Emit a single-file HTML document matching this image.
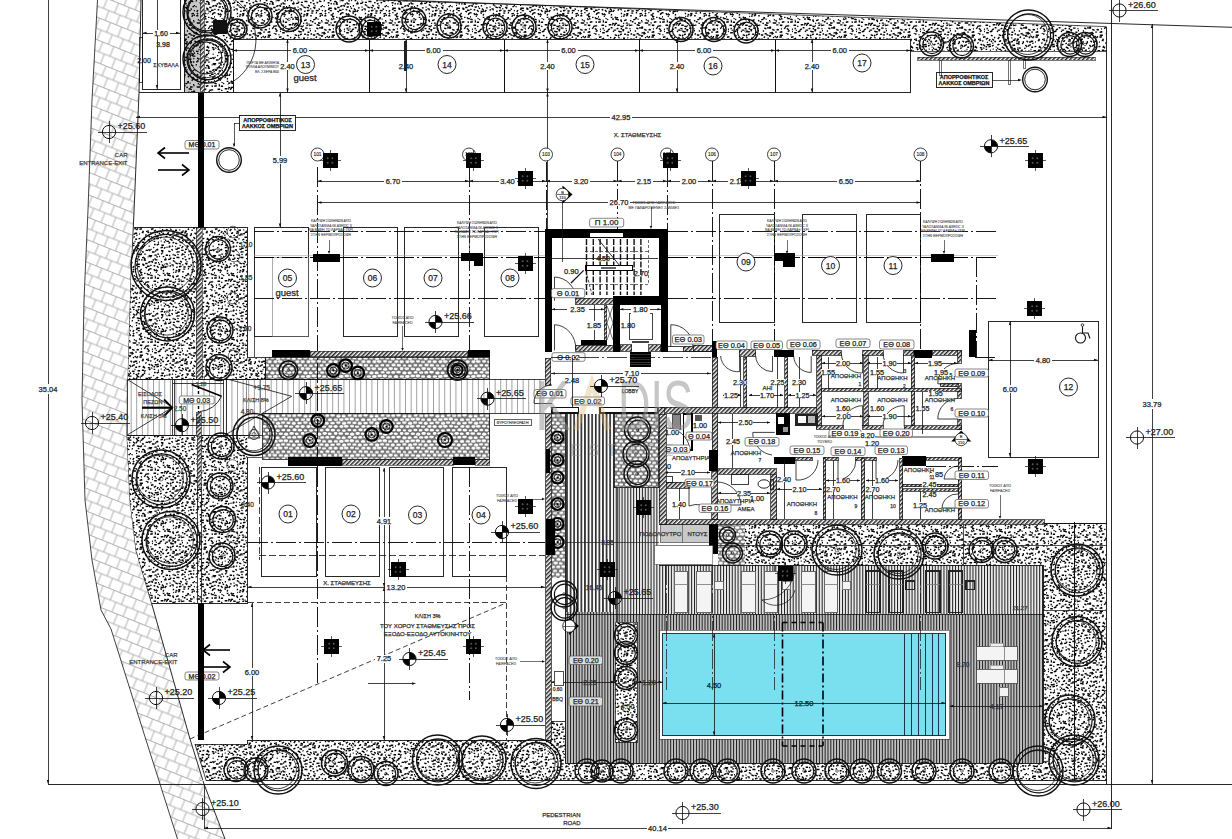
<!DOCTYPE html><html><head><meta charset="utf-8"><style>html,body{margin:0;padding:0;background:#fff}svg{display:block}</style></head><body><svg width="1232" height="839" viewBox="0 0 1232 839" font-family="Liberation Sans, sans-serif">
<defs>
<pattern id="stip" width="64" height="64" patternUnits="userSpaceOnUse"><rect width="64" height="64" fill="#fff"/>
<path d="M0.6,1.9l0.6,-0.8M0.6,65.9l0.6,-0.8M64.6,1.9l0.6,-0.8M64.6,65.9l0.6,-0.8M1.7,5.6l1.3,0.0M65.7,5.6l1.3,0.0M0.4,6.6l1.7,0.0M64.4,6.6l1.7,0.0M1.9,10.9l0.9,-0.5M65.9,10.9l0.9,-0.5M1.7,15.8l1.0,-1.3M65.7,15.8l1.0,-1.3M1.0,20.6l1.2,0.2M65.0,20.6l1.2,0.2M1.6,21.7l1.0,0.2M65.6,21.7l1.0,0.2M1.6,26.6l1.2,1.2M65.6,26.6l1.2,1.2M0.9,28.1l2.3,0.0M64.9,28.1l2.3,0.0M1.6,33.0l2.2,-0.4M65.6,33.0l2.2,-0.4M0.4,35.1l1.1,0.5M64.4,35.1l1.1,0.5M1.5,36.9l1.3,-1.6M65.5,36.9l1.3,-1.6M2.5,40.7l1.5,1.5M66.5,40.7l1.5,1.5M1.4,45.1l1.8,1.9M65.4,45.1l1.8,1.9M0.4,47.8l1.0,1.0M64.4,47.8l1.0,1.0M1.2,50.7l0.7,0.7M65.2,50.7l0.7,0.7M1.8,53.3l1.3,-0.3M65.8,53.3l1.3,-0.3M0.9,56.1l2.5,0.0M64.9,56.1l2.5,0.0M1.3,58.9l1.0,-0.5M65.3,58.9l1.0,-0.5M0.9,62.3l1.4,-0.7M0.9,-1.7l1.4,-0.7M64.9,62.3l1.4,-0.7M64.9,-1.7l1.4,-0.7M3.7,0.7l1.3,0.2M3.7,64.7l1.3,0.2M3.7,7.1l0.7,-0.9M4.7,11.8l1.3,-1.7M5.0,14.3l1.1,-1.3M4.3,15.7l2.0,0.0M5.8,19.7l1.1,0.0M4.7,23.0l2.6,0.0M4.2,29.3l2.4,1.0M3.6,32.0l1.9,1.9M3.5,34.0l1.5,-0.3M5.1,38.1l0.8,-1.0M5.1,42.2l2.2,-0.4M5.5,44.7l1.3,0.5M4.2,46.5l1.2,-1.5M3.9,51.1l2.6,0.4M5.4,54.0l0.8,-1.0M5.2,57.7l1.6,1.7M5.1,60.6l1.6,0.7M4.2,61.7l1.3,0.2M4.2,-2.3l1.3,0.2M7.6,2.8l2.0,0.0M7.6,66.8l2.0,0.0M8.0,5.4l1.1,0.0M8.4,8.3l1.8,0.0M8.0,9.6l2.3,-1.2M8.3,12.6l1.2,0.0M7.5,20.2l1.4,1.4M7.2,23.0l1.1,0.0M8.2,24.9l2.2,0.0M8.6,29.8l1.3,-0.3M7.6,32.7l0.9,-1.2M6.7,36.1l1.1,1.1M8.4,38.1l1.5,-1.9M6.7,41.2l2.5,0.0M8.3,43.3l1.2,0.0M7.2,47.3l1.9,0.0M6.5,49.5l1.0,0.0M7.8,54.0l1.8,1.8M8.8,56.7l1.2,-0.3M7.7,59.4l1.6,-2.0M8.8,61.9l1.9,0.3M8.8,-2.1l1.9,0.3M9.7,0.5l1.7,0.0M9.7,64.5l1.7,0.0M10.5,3.8l1.4,0.0M9.8,8.2l2.1,0.0M9.7,10.6l2.2,0.0M10.6,15.0l2.4,0.0M12.0,16.5l1.5,0.6M11.2,18.6l1.3,1.4M10.4,22.9l1.4,0.0M11.8,25.2l2.5,0.0M9.5,29.7l1.4,0.0M11.6,32.5l2.3,-1.2M11.8,35.2l2.2,0.0M11.4,37.3l2.5,-0.5M11.0,41.9l1.0,0.2M10.5,46.8l1.9,-0.4M9.5,50.8l2.6,0.0M9.8,54.5l1.3,-1.6M10.1,56.4l1.1,0.5M12.0,58.2l0.6,-0.7M9.9,62.4l2.6,0.0M9.9,-1.6l2.6,0.0M14.1,1.9l1.7,-0.9M14.1,65.9l1.7,-0.9M13.2,3.8l1.3,0.2M14.3,8.0l1.5,0.6M14.6,9.4l2.0,-0.4M12.6,14.1l1.0,-1.2M13.1,16.1l1.0,1.0M13.1,18.5l1.4,0.6M13.8,22.2l2.6,-0.5M12.9,25.5l1.0,-0.2M12.9,29.0l0.9,-0.2M12.8,32.2l1.6,-0.3M13.0,35.3l1.9,0.0M14.3,39.1l1.5,0.6M13.7,40.6l2.0,0.0M14.7,47.6l1.4,-1.7M13.8,50.3l2.4,0.0M13.9,54.4l2.1,0.3M12.5,56.7l2.3,-1.3M13.9,59.8l2.0,0.3M12.4,63.3l1.4,-1.8M12.4,-0.7l1.4,-1.8M15.7,1.6l1.6,1.6M15.7,65.6l1.6,1.6M15.7,4.0l2.2,0.3M17.2,7.5l2.4,0.0M17.2,11.4l2.0,0.3M16.1,17.4l1.4,0.0M17.2,26.4l2.1,-0.4M16.2,28.9l1.4,-1.8M18.0,33.1l0.6,0.7M18.0,39.4l1.6,0.2M17.4,43.6l1.0,-1.2M15.8,46.9l1.3,1.3M15.9,51.5l1.9,-1.0M15.8,52.9l1.4,0.6M17.6,58.4l2.6,0.0M16.2,62.1l1.6,0.0M16.2,-1.9l1.6,0.0M19.6,0.9l1.0,0.0M19.6,64.9l1.0,0.0M20.2,6.7l2.3,-1.3M19.0,10.3l2.6,0.0M20.1,14.8l1.6,-2.0M18.7,17.9l1.6,0.0M19.3,18.6l2.6,0.0M19.6,22.3l1.3,-0.3M19.1,25.9l2.1,0.0M18.9,28.2l1.8,1.8M19.7,31.6l2.0,-1.1M19.0,34.0l1.5,0.0M19.5,38.9l1.3,0.0M19.6,40.9l1.6,-0.9M20.5,44.2l1.8,0.8M19.8,47.6l2.4,0.4M20.8,50.0l1.8,-1.0M20.7,54.3l0.9,0.0M20.5,57.2l1.8,1.9M20.9,63.3l1.7,1.8M20.9,-0.7l1.7,1.8M21.8,0.6l1.8,0.0M21.8,64.6l1.8,0.0M23.4,5.0l1.6,1.6M23.6,6.3l1.1,0.0M22.3,9.7l1.2,-0.6M21.8,12.6l1.8,0.3M22.1,17.0l0.9,-0.2M22.3,19.3l2.4,0.4M22.2,22.2l2.6,-0.5M23.9,29.3l1.0,0.2M24.0,31.3l0.9,0.4M22.5,34.8l0.9,-0.2M22.9,37.3l2.6,-0.5M22.1,41.1l1.3,-0.3M23.2,44.5l1.8,1.8M23.3,48.4l1.0,-0.6M22.6,56.9l0.9,0.9M23.9,60.0l2.7,0.0M22.0,63.6l2.2,0.0M22.0,-0.4l2.2,0.0M26.5,2.4l1.9,1.9M26.5,66.4l1.9,1.9M24.6,4.0l1.5,0.0M26.6,7.3l2.2,-0.5M25.7,9.5l1.6,0.7M25.8,13.3l1.6,1.6M26.7,20.5l1.0,0.0M26.7,21.7l1.3,0.0M25.5,25.3l2.6,0.0M26.5,28.5l1.4,0.0M26.2,32.8l2.6,0.0M25.8,39.3l2.3,-1.3M27.0,42.0l0.8,0.8M26.7,44.8l2.4,0.0M25.5,46.8l1.6,0.0M25.6,49.4l1.6,0.0M26.0,52.5l1.7,0.0M25.3,55.3l0.7,0.8M27.1,58.6l0.8,0.8M26.4,63.1l2.4,0.0M26.4,-0.9l2.4,0.0M28.4,1.0l1.4,-0.3M28.4,65.0l1.4,-0.3M28.2,3.9l1.3,0.0M30.0,6.8l1.0,-0.2M29.0,10.0l1.6,1.7M27.9,13.6l1.7,1.7M27.8,16.2l1.1,0.2M29.8,19.0l0.6,-0.8M28.8,22.2l2.3,0.0M29.2,26.2l1.2,0.5M27.8,30.3l1.0,0.1M29.8,31.8l1.5,-0.3M28.9,40.9l1.4,-1.8M29.0,44.6l1.6,-0.3M28.4,46.7l2.6,-0.5M29.9,50.1l0.9,0.4M28.7,53.1l2.3,-1.2M28.8,57.2l1.5,0.6M28.1,58.2l1.7,-0.9M29.3,62.1l1.8,0.0M29.3,-1.9l1.8,0.0M31.1,0.7l0.9,-0.5M31.1,64.7l0.9,-0.5M32.8,5.8l1.3,0.0M30.8,8.7l1.3,-0.7M32.6,11.2l2.5,0.4M32.3,12.9l1.7,0.3M31.1,19.4l1.2,0.2M32.7,24.7l2.4,0.0M31.9,29.9l2.0,-1.1M31.3,31.7l1.0,-1.2M30.8,35.4l1.8,0.3M32.3,38.9l1.7,1.7M30.9,40.8l1.1,1.1M32.4,43.0l1.0,0.4M32.0,46.1l1.6,-0.9M32.7,49.1l1.0,0.0M33.3,53.3l2.6,0.0M32.6,55.7l2.4,-0.5M33.0,58.8l2.4,0.0M33.2,62.4l1.2,-1.5M33.2,-1.6l1.2,-1.5M34.7,0.7l1.6,-0.3M34.7,64.7l1.6,-0.3M36.1,3.7l2.3,0.0M33.9,8.6l1.8,1.9M35.3,11.7l0.7,-0.9M34.8,14.5l1.3,0.5M34.7,17.4l1.7,0.0M36.2,19.3l1.8,-0.4M36.3,23.1l1.9,0.8M35.7,25.2l1.2,-0.7M34.7,27.8l1.8,0.0M34.0,37.7l1.3,-0.3M34.3,41.5l1.8,0.0M35.6,47.1l1.0,0.0M35.8,50.0l1.4,0.0M36.1,56.6l1.2,-1.5M34.4,60.5l0.6,-0.8M37.2,2.6l0.7,-0.9M37.2,66.6l0.7,-0.9M37.3,4.3l1.1,-1.4M37.9,7.9l1.8,0.0M36.9,11.7l1.4,-1.8M38.7,16.7l1.6,1.6M39.4,19.2l2.1,0.0M38.7,23.4l2.4,0.0M38.2,25.7l1.4,-1.8M37.6,30.1l2.5,0.0M36.8,31.4l1.3,0.2M38.7,34.6l2.3,1.0M37.8,39.0l1.6,-2.0M39.0,41.7l2.1,-1.2M37.4,45.2l2.0,-1.1M37.0,48.3l1.2,0.0M38.4,49.4l2.7,0.0M38.5,55.2l1.0,0.0M37.7,63.3l2.4,0.0M37.7,-0.7l2.4,0.0M41.8,2.1l1.6,0.2M41.8,66.1l1.6,0.2M40.1,3.4l2.4,0.0M41.5,7.1l1.1,0.0M41.5,10.1l1.5,-0.3M40.6,17.3l1.4,0.6M41.4,19.7l1.4,0.0M39.9,22.9l0.8,0.8M41.2,25.2l2.5,0.0M40.6,28.8l1.8,-0.4M42.4,30.7l1.2,1.3M42.0,36.3l1.2,-1.5M42.3,37.5l1.3,0.2M40.1,41.5l0.6,-0.8M41.5,43.8l1.4,-0.8M41.8,47.0l1.9,0.8M40.5,51.3l1.6,-0.9M41.5,54.5l1.1,0.0M40.7,55.5l1.5,-1.9M40.3,59.3l2.3,0.3M41.0,63.5l1.3,0.2M41.0,-0.5l1.3,0.2M44.9,2.4l2.0,0.0M44.9,66.4l2.0,0.0M44.8,4.8l1.5,0.2M43.4,8.9l2.2,0.0M44.6,9.9l1.2,0.0M44.8,13.5l1.3,0.0M45.2,16.7l0.8,-0.4M44.2,20.2l1.7,0.0M44.8,21.6l1.2,-0.6M44.4,26.3l2.4,0.4M44.6,28.8l1.5,0.0M43.5,31.7l2.2,0.0M44.0,34.9l1.8,-1.0M44.6,39.1l2.3,1.0M43.9,41.1l2.7,0.0M43.5,44.8l2.6,0.4M43.2,47.4l1.3,1.3M44.6,51.1l1.6,-0.9M44.1,54.6l0.8,-1.0M43.2,57.6l1.5,0.0M43.9,58.3l0.9,-0.5M44.6,62.7l1.1,-0.2M44.6,-1.3l1.1,-0.2M48.4,1.6l1.1,-0.6M48.4,65.6l1.1,-0.6M46.4,5.7l1.0,0.2M47.4,6.9l2.4,1.0M48.1,11.4l1.6,-0.3M47.6,14.4l1.7,0.3M46.9,16.1l1.7,0.0M48.0,20.6l1.5,-0.3M47.2,23.2l1.0,0.4M46.7,25.6l1.0,0.4M46.3,29.8l2.0,0.0M46.5,30.9l1.4,0.0M48.2,34.2l1.7,0.0M47.0,38.2l2.0,0.0M48.3,41.9l2.4,0.4M46.5,43.1l2.4,0.0M46.6,46.5l0.8,0.8M47.2,51.3l2.1,0.3M47.3,54.3l0.8,0.4M47.4,56.8l2.2,0.9M48.5,59.9l1.1,0.5M46.0,62.8l2.0,0.8M46.0,-1.2l2.0,0.8M49.2,1.5l2.3,0.0M49.2,65.5l2.3,0.0M50.6,7.2l2.3,1.0M51.0,10.8l2.5,-0.5M50.1,13.9l2.3,-0.5M50.3,16.3l1.7,-2.1M49.5,19.8l1.1,0.2M49.8,23.1l2.0,0.0M50.4,25.7l1.7,-0.9M49.0,28.1l2.6,0.0M51.4,32.3l2.0,0.0M50.7,34.9l2.3,0.0M51.2,37.9l1.1,0.0M51.1,41.9l1.9,-0.4M49.5,43.0l0.9,0.0M50.3,48.1l2.0,-1.1M51.4,50.1l0.8,-0.4M51.6,53.7l1.0,-0.6M49.2,56.3l2.5,0.0M49.0,59.9l2.7,0.0M49.3,62.4l1.4,0.2M49.3,-1.6l1.4,0.2M54.0,2.6l1.6,0.0M54.0,66.6l1.6,0.0M52.3,4.9l1.5,1.6M54.3,8.7l1.0,0.0M54.2,15.7l1.5,0.0M54.2,20.1l1.0,1.1M52.5,24.1l1.1,0.0M53.1,25.6l2.3,-0.5M53.5,28.4l0.9,0.4M53.9,30.7l1.1,-0.2M54.6,34.4l1.4,-0.8M54.4,38.9l1.4,0.0M52.7,40.3l2.6,0.0M52.4,45.2l2.7,0.0M54.2,48.0l1.5,1.5M52.3,50.4l2.3,0.3M53.9,54.6l1.5,0.0M53.2,55.6l1.4,0.0M53.2,58.4l2.4,0.0M53.5,63.5l1.5,-2.0M53.5,-0.5l1.5,-2.0M56.4,0.7l1.3,0.0M56.4,64.7l1.3,0.0M56.9,4.2l1.7,-0.9M57.3,7.0l1.8,1.8M55.4,11.0l2.3,0.0M55.2,13.1l2.0,0.0M57.3,19.8l1.9,-0.4M55.8,21.8l1.7,0.0M55.2,25.1l1.2,0.0M56.9,35.0l2.4,0.0M56.7,39.2l2.2,0.0M56.5,41.5l1.6,-2.1M56.2,43.3l2.6,0.4M57.5,48.4l0.6,-0.8M57.3,49.1l1.6,1.7M57.0,57.5l2.1,-0.4M56.2,59.8l1.6,0.7M55.4,62.4l1.2,0.2M55.4,-1.6l1.2,0.2M60.5,2.5l1.7,0.3M60.5,66.5l1.7,0.3M58.5,5.4l1.0,0.4M58.5,7.5l0.9,-0.5M59.8,10.5l1.5,0.2M59.8,12.8l1.3,0.0M59.3,17.8l1.7,0.0M59.2,18.9l1.4,-0.3M58.6,22.8l1.0,1.1M60.7,24.8l2.5,0.4M60.3,28.0l2.1,0.9M58.8,31.3l1.2,-0.6M60.5,33.9l2.2,-0.4M59.8,37.9l1.1,-1.4M58.1,42.0l1.8,0.0M58.2,44.0l1.4,0.0M58.6,47.9l2.2,0.3M60.3,51.3l2.2,-0.4M58.5,53.8l2.0,0.3M58.7,55.3l1.9,-1.1M60.5,59.5l1.5,-0.3M60.4,62.5l0.6,0.7M60.4,-1.5l0.6,0.7M62.9,0.9l1.8,0.7M62.9,64.9l1.8,0.7M-1.1,0.9l1.8,0.7M-1.1,64.9l1.8,0.7M62.7,8.6l1.1,1.1M-1.3,8.6l1.1,1.1M61.4,10.3l1.2,0.5M-2.6,10.3l1.2,0.5M63.4,13.9l2.5,-0.5M-0.6,13.9l2.5,-0.5M63.7,16.7l1.1,-1.4M-0.3,16.7l1.1,-1.4M61.5,19.1l1.1,0.0M-2.5,19.1l1.1,0.0M62.0,23.0l2.6,0.0M-2.0,23.0l2.6,0.0M63.0,25.1l0.6,0.7M-1.0,25.1l0.6,0.7M63.0,27.9l2.5,0.0M-1.0,27.9l2.5,0.0M62.5,35.0l1.4,0.0M-1.5,35.0l1.4,0.0M63.5,38.2l1.3,0.2M-0.5,38.2l1.3,0.2M62.7,41.8l1.2,0.0M-1.3,41.8l1.2,0.0M62.2,44.0l1.5,-1.9M-1.8,44.0l1.5,-1.9M61.3,49.9l1.5,0.6M-2.7,49.9l1.5,0.6M63.4,53.5l2.5,1.0M-0.6,53.5l2.5,1.0M63.4,55.2l1.7,0.7M-0.6,55.2l1.7,0.7M62.3,59.8l1.0,-1.2M-1.7,59.8l1.0,-1.2M62.0,61.7l2.1,0.3M62.0,-2.3l2.1,0.3M-2.0,61.7l2.1,0.3M-2.0,-2.3l2.1,0.3" stroke="#000" stroke-width="1.4" fill="none"/></pattern>
<pattern id="peb" width="33" height="21.6" patternUnits="userSpaceOnUse"><rect width="33" height="21.6" fill="#707070"/><g fill="#fff"><ellipse cx="-33.26" cy="-19.76" rx="2.06" ry="1.42"/><ellipse cx="-33.26" cy="1.84" rx="2.06" ry="1.42"/><ellipse cx="-33.26" cy="23.44" rx="2.06" ry="1.42"/><ellipse cx="-0.26" cy="-19.76" rx="2.06" ry="1.42"/><ellipse cx="-0.26" cy="1.84" rx="2.06" ry="1.42"/><ellipse cx="-0.26" cy="23.44" rx="2.06" ry="1.42"/><ellipse cx="32.74" cy="-19.76" rx="2.06" ry="1.42"/><ellipse cx="32.74" cy="1.84" rx="2.06" ry="1.42"/><ellipse cx="32.74" cy="23.44" rx="2.06" ry="1.42"/><ellipse cx="-27.37" cy="-20.15" rx="1.81" ry="1.53"/><ellipse cx="-27.37" cy="1.45" rx="1.81" ry="1.53"/><ellipse cx="-27.37" cy="23.05" rx="1.81" ry="1.53"/><ellipse cx="5.63" cy="-20.15" rx="1.81" ry="1.53"/><ellipse cx="5.63" cy="1.45" rx="1.81" ry="1.53"/><ellipse cx="5.63" cy="23.05" rx="1.81" ry="1.53"/><ellipse cx="38.63" cy="-20.15" rx="1.81" ry="1.53"/><ellipse cx="38.63" cy="1.45" rx="1.81" ry="1.53"/><ellipse cx="38.63" cy="23.05" rx="1.81" ry="1.53"/><ellipse cx="-22.24" cy="-20.01" rx="2.50" ry="1.36"/><ellipse cx="-22.24" cy="1.59" rx="2.50" ry="1.36"/><ellipse cx="-22.24" cy="23.19" rx="2.50" ry="1.36"/><ellipse cx="10.76" cy="-20.01" rx="2.50" ry="1.36"/><ellipse cx="10.76" cy="1.59" rx="2.50" ry="1.36"/><ellipse cx="10.76" cy="23.19" rx="2.50" ry="1.36"/><ellipse cx="43.76" cy="-20.01" rx="2.50" ry="1.36"/><ellipse cx="43.76" cy="1.59" rx="2.50" ry="1.36"/><ellipse cx="43.76" cy="23.19" rx="2.50" ry="1.36"/><ellipse cx="-16.16" cy="-19.82" rx="2.25" ry="1.22"/><ellipse cx="-16.16" cy="1.78" rx="2.25" ry="1.22"/><ellipse cx="-16.16" cy="23.38" rx="2.25" ry="1.22"/><ellipse cx="16.84" cy="-19.82" rx="2.25" ry="1.22"/><ellipse cx="16.84" cy="1.78" rx="2.25" ry="1.22"/><ellipse cx="16.84" cy="23.38" rx="2.25" ry="1.22"/><ellipse cx="49.84" cy="-19.82" rx="2.25" ry="1.22"/><ellipse cx="49.84" cy="1.78" rx="2.25" ry="1.22"/><ellipse cx="49.84" cy="23.38" rx="2.25" ry="1.22"/><ellipse cx="-10.87" cy="-19.51" rx="2.17" ry="1.48"/><ellipse cx="-10.87" cy="2.09" rx="2.17" ry="1.48"/><ellipse cx="-10.87" cy="23.69" rx="2.17" ry="1.48"/><ellipse cx="22.13" cy="-19.51" rx="2.17" ry="1.48"/><ellipse cx="22.13" cy="2.09" rx="2.17" ry="1.48"/><ellipse cx="22.13" cy="23.69" rx="2.17" ry="1.48"/><ellipse cx="55.13" cy="-19.51" rx="2.17" ry="1.48"/><ellipse cx="55.13" cy="2.09" rx="2.17" ry="1.48"/><ellipse cx="55.13" cy="23.69" rx="2.17" ry="1.48"/><ellipse cx="-5.33" cy="-20.15" rx="2.33" ry="1.42"/><ellipse cx="-5.33" cy="1.45" rx="2.33" ry="1.42"/><ellipse cx="-5.33" cy="23.05" rx="2.33" ry="1.42"/><ellipse cx="27.67" cy="-20.15" rx="2.33" ry="1.42"/><ellipse cx="27.67" cy="1.45" rx="2.33" ry="1.42"/><ellipse cx="27.67" cy="23.05" rx="2.33" ry="1.42"/><ellipse cx="60.67" cy="-20.15" rx="2.33" ry="1.42"/><ellipse cx="60.67" cy="1.45" rx="2.33" ry="1.42"/><ellipse cx="60.67" cy="23.05" rx="2.33" ry="1.42"/><ellipse cx="-30.45" cy="-16.58" rx="2.41" ry="1.36"/><ellipse cx="-30.45" cy="5.02" rx="2.41" ry="1.36"/><ellipse cx="-30.45" cy="26.62" rx="2.41" ry="1.36"/><ellipse cx="2.55" cy="-16.58" rx="2.41" ry="1.36"/><ellipse cx="2.55" cy="5.02" rx="2.41" ry="1.36"/><ellipse cx="2.55" cy="26.62" rx="2.41" ry="1.36"/><ellipse cx="35.55" cy="-16.58" rx="2.41" ry="1.36"/><ellipse cx="35.55" cy="5.02" rx="2.41" ry="1.36"/><ellipse cx="35.55" cy="26.62" rx="2.41" ry="1.36"/><ellipse cx="-24.53" cy="-15.90" rx="2.30" ry="1.56"/><ellipse cx="-24.53" cy="5.70" rx="2.30" ry="1.56"/><ellipse cx="-24.53" cy="27.30" rx="2.30" ry="1.56"/><ellipse cx="8.47" cy="-15.90" rx="2.30" ry="1.56"/><ellipse cx="8.47" cy="5.70" rx="2.30" ry="1.56"/><ellipse cx="8.47" cy="27.30" rx="2.30" ry="1.56"/><ellipse cx="41.47" cy="-15.90" rx="2.30" ry="1.56"/><ellipse cx="41.47" cy="5.70" rx="2.30" ry="1.56"/><ellipse cx="41.47" cy="27.30" rx="2.30" ry="1.56"/><ellipse cx="-19.36" cy="-15.96" rx="2.11" ry="1.57"/><ellipse cx="-19.36" cy="5.64" rx="2.11" ry="1.57"/><ellipse cx="-19.36" cy="27.24" rx="2.11" ry="1.57"/><ellipse cx="13.64" cy="-15.96" rx="2.11" ry="1.57"/><ellipse cx="13.64" cy="5.64" rx="2.11" ry="1.57"/><ellipse cx="13.64" cy="27.24" rx="2.11" ry="1.57"/><ellipse cx="46.64" cy="-15.96" rx="2.11" ry="1.57"/><ellipse cx="46.64" cy="5.64" rx="2.11" ry="1.57"/><ellipse cx="46.64" cy="27.24" rx="2.11" ry="1.57"/><ellipse cx="-13.37" cy="-16.52" rx="1.90" ry="1.25"/><ellipse cx="-13.37" cy="5.08" rx="1.90" ry="1.25"/><ellipse cx="-13.37" cy="26.68" rx="1.90" ry="1.25"/><ellipse cx="19.63" cy="-16.52" rx="1.90" ry="1.25"/><ellipse cx="19.63" cy="5.08" rx="1.90" ry="1.25"/><ellipse cx="19.63" cy="26.68" rx="1.90" ry="1.25"/><ellipse cx="52.63" cy="-16.52" rx="1.90" ry="1.25"/><ellipse cx="52.63" cy="5.08" rx="1.90" ry="1.25"/><ellipse cx="52.63" cy="26.68" rx="1.90" ry="1.25"/><ellipse cx="-7.78" cy="-16.25" rx="2.24" ry="1.29"/><ellipse cx="-7.78" cy="5.35" rx="2.24" ry="1.29"/><ellipse cx="-7.78" cy="26.95" rx="2.24" ry="1.29"/><ellipse cx="25.22" cy="-16.25" rx="2.24" ry="1.29"/><ellipse cx="25.22" cy="5.35" rx="2.24" ry="1.29"/><ellipse cx="25.22" cy="26.95" rx="2.24" ry="1.29"/><ellipse cx="58.22" cy="-16.25" rx="2.24" ry="1.29"/><ellipse cx="58.22" cy="5.35" rx="2.24" ry="1.29"/><ellipse cx="58.22" cy="26.95" rx="2.24" ry="1.29"/><ellipse cx="-2.74" cy="-16.29" rx="2.05" ry="1.41"/><ellipse cx="-2.74" cy="5.31" rx="2.05" ry="1.41"/><ellipse cx="-2.74" cy="26.91" rx="2.05" ry="1.41"/><ellipse cx="30.26" cy="-16.29" rx="2.05" ry="1.41"/><ellipse cx="30.26" cy="5.31" rx="2.05" ry="1.41"/><ellipse cx="30.26" cy="26.91" rx="2.05" ry="1.41"/><ellipse cx="63.26" cy="-16.29" rx="2.05" ry="1.41"/><ellipse cx="63.26" cy="5.31" rx="2.05" ry="1.41"/><ellipse cx="63.26" cy="26.91" rx="2.05" ry="1.41"/><ellipse cx="-32.92" cy="-12.28" rx="2.28" ry="1.57"/><ellipse cx="-32.92" cy="9.32" rx="2.28" ry="1.57"/><ellipse cx="-32.92" cy="30.92" rx="2.28" ry="1.57"/><ellipse cx="0.08" cy="-12.28" rx="2.28" ry="1.57"/><ellipse cx="0.08" cy="9.32" rx="2.28" ry="1.57"/><ellipse cx="0.08" cy="30.92" rx="2.28" ry="1.57"/><ellipse cx="33.08" cy="-12.28" rx="2.28" ry="1.57"/><ellipse cx="33.08" cy="9.32" rx="2.28" ry="1.57"/><ellipse cx="33.08" cy="30.92" rx="2.28" ry="1.57"/><ellipse cx="-27.14" cy="-12.21" rx="2.27" ry="1.22"/><ellipse cx="-27.14" cy="9.39" rx="2.27" ry="1.22"/><ellipse cx="-27.14" cy="30.99" rx="2.27" ry="1.22"/><ellipse cx="5.86" cy="-12.21" rx="2.27" ry="1.22"/><ellipse cx="5.86" cy="9.39" rx="2.27" ry="1.22"/><ellipse cx="5.86" cy="30.99" rx="2.27" ry="1.22"/><ellipse cx="38.86" cy="-12.21" rx="2.27" ry="1.22"/><ellipse cx="38.86" cy="9.39" rx="2.27" ry="1.22"/><ellipse cx="38.86" cy="30.99" rx="2.27" ry="1.22"/><ellipse cx="-21.64" cy="-12.23" rx="2.43" ry="1.41"/><ellipse cx="-21.64" cy="9.37" rx="2.43" ry="1.41"/><ellipse cx="-21.64" cy="30.97" rx="2.43" ry="1.41"/><ellipse cx="11.36" cy="-12.23" rx="2.43" ry="1.41"/><ellipse cx="11.36" cy="9.37" rx="2.43" ry="1.41"/><ellipse cx="11.36" cy="30.97" rx="2.43" ry="1.41"/><ellipse cx="44.36" cy="-12.23" rx="2.43" ry="1.41"/><ellipse cx="44.36" cy="9.37" rx="2.43" ry="1.41"/><ellipse cx="44.36" cy="30.97" rx="2.43" ry="1.41"/><ellipse cx="-16.29" cy="-12.83" rx="2.38" ry="1.41"/><ellipse cx="-16.29" cy="8.77" rx="2.38" ry="1.41"/><ellipse cx="-16.29" cy="30.37" rx="2.38" ry="1.41"/><ellipse cx="16.71" cy="-12.83" rx="2.38" ry="1.41"/><ellipse cx="16.71" cy="8.77" rx="2.38" ry="1.41"/><ellipse cx="16.71" cy="30.37" rx="2.38" ry="1.41"/><ellipse cx="49.71" cy="-12.83" rx="2.38" ry="1.41"/><ellipse cx="49.71" cy="8.77" rx="2.38" ry="1.41"/><ellipse cx="49.71" cy="30.37" rx="2.38" ry="1.41"/><ellipse cx="-11.22" cy="-12.95" rx="2.40" ry="1.60"/><ellipse cx="-11.22" cy="8.65" rx="2.40" ry="1.60"/><ellipse cx="-11.22" cy="30.25" rx="2.40" ry="1.60"/><ellipse cx="21.78" cy="-12.95" rx="2.40" ry="1.60"/><ellipse cx="21.78" cy="8.65" rx="2.40" ry="1.60"/><ellipse cx="21.78" cy="30.25" rx="2.40" ry="1.60"/><ellipse cx="54.78" cy="-12.95" rx="2.40" ry="1.60"/><ellipse cx="54.78" cy="8.65" rx="2.40" ry="1.60"/><ellipse cx="54.78" cy="30.25" rx="2.40" ry="1.60"/><ellipse cx="-5.91" cy="-12.36" rx="2.09" ry="1.22"/><ellipse cx="-5.91" cy="9.24" rx="2.09" ry="1.22"/><ellipse cx="-5.91" cy="30.84" rx="2.09" ry="1.22"/><ellipse cx="27.09" cy="-12.36" rx="2.09" ry="1.22"/><ellipse cx="27.09" cy="9.24" rx="2.09" ry="1.22"/><ellipse cx="27.09" cy="30.84" rx="2.09" ry="1.22"/><ellipse cx="60.09" cy="-12.36" rx="2.09" ry="1.22"/><ellipse cx="60.09" cy="9.24" rx="2.09" ry="1.22"/><ellipse cx="60.09" cy="30.84" rx="2.09" ry="1.22"/><ellipse cx="-30.46" cy="-8.78" rx="2.41" ry="1.17"/><ellipse cx="-30.46" cy="12.82" rx="2.41" ry="1.17"/><ellipse cx="-30.46" cy="34.42" rx="2.41" ry="1.17"/><ellipse cx="2.54" cy="-8.78" rx="2.41" ry="1.17"/><ellipse cx="2.54" cy="12.82" rx="2.41" ry="1.17"/><ellipse cx="2.54" cy="34.42" rx="2.41" ry="1.17"/><ellipse cx="35.54" cy="-8.78" rx="2.41" ry="1.17"/><ellipse cx="35.54" cy="12.82" rx="2.41" ry="1.17"/><ellipse cx="35.54" cy="34.42" rx="2.41" ry="1.17"/><ellipse cx="-24.64" cy="-9.36" rx="2.30" ry="1.30"/><ellipse cx="-24.64" cy="12.24" rx="2.30" ry="1.30"/><ellipse cx="-24.64" cy="33.84" rx="2.30" ry="1.30"/><ellipse cx="8.36" cy="-9.36" rx="2.30" ry="1.30"/><ellipse cx="8.36" cy="12.24" rx="2.30" ry="1.30"/><ellipse cx="8.36" cy="33.84" rx="2.30" ry="1.30"/><ellipse cx="41.36" cy="-9.36" rx="2.30" ry="1.30"/><ellipse cx="41.36" cy="12.24" rx="2.30" ry="1.30"/><ellipse cx="41.36" cy="33.84" rx="2.30" ry="1.30"/><ellipse cx="-18.87" cy="-8.62" rx="2.15" ry="1.60"/><ellipse cx="-18.87" cy="12.98" rx="2.15" ry="1.60"/><ellipse cx="-18.87" cy="34.58" rx="2.15" ry="1.60"/><ellipse cx="14.13" cy="-8.62" rx="2.15" ry="1.60"/><ellipse cx="14.13" cy="12.98" rx="2.15" ry="1.60"/><ellipse cx="14.13" cy="34.58" rx="2.15" ry="1.60"/><ellipse cx="47.13" cy="-8.62" rx="2.15" ry="1.60"/><ellipse cx="47.13" cy="12.98" rx="2.15" ry="1.60"/><ellipse cx="47.13" cy="34.58" rx="2.15" ry="1.60"/><ellipse cx="-13.94" cy="-9.34" rx="2.22" ry="1.16"/><ellipse cx="-13.94" cy="12.26" rx="2.22" ry="1.16"/><ellipse cx="-13.94" cy="33.86" rx="2.22" ry="1.16"/><ellipse cx="19.06" cy="-9.34" rx="2.22" ry="1.16"/><ellipse cx="19.06" cy="12.26" rx="2.22" ry="1.16"/><ellipse cx="19.06" cy="33.86" rx="2.22" ry="1.16"/><ellipse cx="52.06" cy="-9.34" rx="2.22" ry="1.16"/><ellipse cx="52.06" cy="12.26" rx="2.22" ry="1.16"/><ellipse cx="52.06" cy="33.86" rx="2.22" ry="1.16"/><ellipse cx="-8.55" cy="-9.07" rx="2.23" ry="1.22"/><ellipse cx="-8.55" cy="12.53" rx="2.23" ry="1.22"/><ellipse cx="-8.55" cy="34.13" rx="2.23" ry="1.22"/><ellipse cx="24.45" cy="-9.07" rx="2.23" ry="1.22"/><ellipse cx="24.45" cy="12.53" rx="2.23" ry="1.22"/><ellipse cx="24.45" cy="34.13" rx="2.23" ry="1.22"/><ellipse cx="57.45" cy="-9.07" rx="2.23" ry="1.22"/><ellipse cx="57.45" cy="12.53" rx="2.23" ry="1.22"/><ellipse cx="57.45" cy="34.13" rx="2.23" ry="1.22"/><ellipse cx="-3.21" cy="-8.71" rx="2.02" ry="1.58"/><ellipse cx="-3.21" cy="12.89" rx="2.02" ry="1.58"/><ellipse cx="-3.21" cy="34.49" rx="2.02" ry="1.58"/><ellipse cx="29.79" cy="-8.71" rx="2.02" ry="1.58"/><ellipse cx="29.79" cy="12.89" rx="2.02" ry="1.58"/><ellipse cx="29.79" cy="34.49" rx="2.02" ry="1.58"/><ellipse cx="62.79" cy="-8.71" rx="2.02" ry="1.58"/><ellipse cx="62.79" cy="12.89" rx="2.02" ry="1.58"/><ellipse cx="62.79" cy="34.49" rx="2.02" ry="1.58"/><ellipse cx="-32.60" cy="-5.50" rx="2.12" ry="1.38"/><ellipse cx="-32.60" cy="16.10" rx="2.12" ry="1.38"/><ellipse cx="-32.60" cy="37.70" rx="2.12" ry="1.38"/><ellipse cx="0.40" cy="-5.50" rx="2.12" ry="1.38"/><ellipse cx="0.40" cy="16.10" rx="2.12" ry="1.38"/><ellipse cx="0.40" cy="37.70" rx="2.12" ry="1.38"/><ellipse cx="33.40" cy="-5.50" rx="2.12" ry="1.38"/><ellipse cx="33.40" cy="16.10" rx="2.12" ry="1.38"/><ellipse cx="33.40" cy="37.70" rx="2.12" ry="1.38"/><ellipse cx="-27.36" cy="-5.32" rx="2.19" ry="1.43"/><ellipse cx="-27.36" cy="16.28" rx="2.19" ry="1.43"/><ellipse cx="-27.36" cy="37.88" rx="2.19" ry="1.43"/><ellipse cx="5.64" cy="-5.32" rx="2.19" ry="1.43"/><ellipse cx="5.64" cy="16.28" rx="2.19" ry="1.43"/><ellipse cx="5.64" cy="37.88" rx="2.19" ry="1.43"/><ellipse cx="38.64" cy="-5.32" rx="2.19" ry="1.43"/><ellipse cx="38.64" cy="16.28" rx="2.19" ry="1.43"/><ellipse cx="38.64" cy="37.88" rx="2.19" ry="1.43"/><ellipse cx="-21.56" cy="-5.39" rx="2.10" ry="1.47"/><ellipse cx="-21.56" cy="16.21" rx="2.10" ry="1.47"/><ellipse cx="-21.56" cy="37.81" rx="2.10" ry="1.47"/><ellipse cx="11.44" cy="-5.39" rx="2.10" ry="1.47"/><ellipse cx="11.44" cy="16.21" rx="2.10" ry="1.47"/><ellipse cx="11.44" cy="37.81" rx="2.10" ry="1.47"/><ellipse cx="44.44" cy="-5.39" rx="2.10" ry="1.47"/><ellipse cx="44.44" cy="16.21" rx="2.10" ry="1.47"/><ellipse cx="44.44" cy="37.81" rx="2.10" ry="1.47"/><ellipse cx="-16.76" cy="-5.56" rx="2.48" ry="1.38"/><ellipse cx="-16.76" cy="16.04" rx="2.48" ry="1.38"/><ellipse cx="-16.76" cy="37.64" rx="2.48" ry="1.38"/><ellipse cx="16.24" cy="-5.56" rx="2.48" ry="1.38"/><ellipse cx="16.24" cy="16.04" rx="2.48" ry="1.38"/><ellipse cx="16.24" cy="37.64" rx="2.48" ry="1.38"/><ellipse cx="49.24" cy="-5.56" rx="2.48" ry="1.38"/><ellipse cx="49.24" cy="16.04" rx="2.48" ry="1.38"/><ellipse cx="49.24" cy="37.64" rx="2.48" ry="1.38"/><ellipse cx="-10.95" cy="-5.79" rx="2.09" ry="1.41"/><ellipse cx="-10.95" cy="15.81" rx="2.09" ry="1.41"/><ellipse cx="-10.95" cy="37.41" rx="2.09" ry="1.41"/><ellipse cx="22.05" cy="-5.79" rx="2.09" ry="1.41"/><ellipse cx="22.05" cy="15.81" rx="2.09" ry="1.41"/><ellipse cx="22.05" cy="37.41" rx="2.09" ry="1.41"/><ellipse cx="55.05" cy="-5.79" rx="2.09" ry="1.41"/><ellipse cx="55.05" cy="15.81" rx="2.09" ry="1.41"/><ellipse cx="55.05" cy="37.41" rx="2.09" ry="1.41"/><ellipse cx="-5.98" cy="-5.31" rx="2.24" ry="1.18"/><ellipse cx="-5.98" cy="16.29" rx="2.24" ry="1.18"/><ellipse cx="-5.98" cy="37.89" rx="2.24" ry="1.18"/><ellipse cx="27.02" cy="-5.31" rx="2.24" ry="1.18"/><ellipse cx="27.02" cy="16.29" rx="2.24" ry="1.18"/><ellipse cx="27.02" cy="37.89" rx="2.24" ry="1.18"/><ellipse cx="60.02" cy="-5.31" rx="2.24" ry="1.18"/><ellipse cx="60.02" cy="16.29" rx="2.24" ry="1.18"/><ellipse cx="60.02" cy="37.89" rx="2.24" ry="1.18"/><ellipse cx="-30.12" cy="-1.83" rx="2.28" ry="1.31"/><ellipse cx="-30.12" cy="19.77" rx="2.28" ry="1.31"/><ellipse cx="-30.12" cy="41.37" rx="2.28" ry="1.31"/><ellipse cx="2.88" cy="-1.83" rx="2.28" ry="1.31"/><ellipse cx="2.88" cy="19.77" rx="2.28" ry="1.31"/><ellipse cx="2.88" cy="41.37" rx="2.28" ry="1.31"/><ellipse cx="35.88" cy="-1.83" rx="2.28" ry="1.31"/><ellipse cx="35.88" cy="19.77" rx="2.28" ry="1.31"/><ellipse cx="35.88" cy="41.37" rx="2.28" ry="1.31"/><ellipse cx="-24.54" cy="-1.61" rx="1.82" ry="1.18"/><ellipse cx="-24.54" cy="19.99" rx="1.82" ry="1.18"/><ellipse cx="-24.54" cy="41.59" rx="1.82" ry="1.18"/><ellipse cx="8.46" cy="-1.61" rx="1.82" ry="1.18"/><ellipse cx="8.46" cy="19.99" rx="1.82" ry="1.18"/><ellipse cx="8.46" cy="41.59" rx="1.82" ry="1.18"/><ellipse cx="41.46" cy="-1.61" rx="1.82" ry="1.18"/><ellipse cx="41.46" cy="19.99" rx="1.82" ry="1.18"/><ellipse cx="41.46" cy="41.59" rx="1.82" ry="1.18"/><ellipse cx="-19.07" cy="-1.43" rx="1.98" ry="1.36"/><ellipse cx="-19.07" cy="20.17" rx="1.98" ry="1.36"/><ellipse cx="-19.07" cy="41.77" rx="1.98" ry="1.36"/><ellipse cx="13.93" cy="-1.43" rx="1.98" ry="1.36"/><ellipse cx="13.93" cy="20.17" rx="1.98" ry="1.36"/><ellipse cx="13.93" cy="41.77" rx="1.98" ry="1.36"/><ellipse cx="46.93" cy="-1.43" rx="1.98" ry="1.36"/><ellipse cx="46.93" cy="20.17" rx="1.98" ry="1.36"/><ellipse cx="46.93" cy="41.77" rx="1.98" ry="1.36"/><ellipse cx="-13.66" cy="-1.94" rx="2.05" ry="1.29"/><ellipse cx="-13.66" cy="19.66" rx="2.05" ry="1.29"/><ellipse cx="-13.66" cy="41.26" rx="2.05" ry="1.29"/><ellipse cx="19.34" cy="-1.94" rx="2.05" ry="1.29"/><ellipse cx="19.34" cy="19.66" rx="2.05" ry="1.29"/><ellipse cx="19.34" cy="41.26" rx="2.05" ry="1.29"/><ellipse cx="52.34" cy="-1.94" rx="2.05" ry="1.29"/><ellipse cx="52.34" cy="19.66" rx="2.05" ry="1.29"/><ellipse cx="52.34" cy="41.26" rx="2.05" ry="1.29"/><ellipse cx="-8.38" cy="-1.72" rx="2.01" ry="1.32"/><ellipse cx="-8.38" cy="19.88" rx="2.01" ry="1.32"/><ellipse cx="-8.38" cy="41.48" rx="2.01" ry="1.32"/><ellipse cx="24.62" cy="-1.72" rx="2.01" ry="1.32"/><ellipse cx="24.62" cy="19.88" rx="2.01" ry="1.32"/><ellipse cx="24.62" cy="41.48" rx="2.01" ry="1.32"/><ellipse cx="57.62" cy="-1.72" rx="2.01" ry="1.32"/><ellipse cx="57.62" cy="19.88" rx="2.01" ry="1.32"/><ellipse cx="57.62" cy="41.48" rx="2.01" ry="1.32"/><ellipse cx="-2.48" cy="-2.18" rx="2.20" ry="1.48"/><ellipse cx="-2.48" cy="19.42" rx="2.20" ry="1.48"/><ellipse cx="-2.48" cy="41.02" rx="2.20" ry="1.48"/><ellipse cx="30.52" cy="-2.18" rx="2.20" ry="1.48"/><ellipse cx="30.52" cy="19.42" rx="2.20" ry="1.48"/><ellipse cx="30.52" cy="41.02" rx="2.20" ry="1.48"/><ellipse cx="63.52" cy="-2.18" rx="2.20" ry="1.48"/><ellipse cx="63.52" cy="19.42" rx="2.20" ry="1.48"/><ellipse cx="63.52" cy="41.02" rx="2.20" ry="1.48"/></g></pattern>
<pattern id="deck" width="2.86" height="8" patternUnits="userSpaceOnUse"><rect width="2.86" height="8" fill="#fff"/><rect x="0.7" width="1.5" height="8" fill="#1c1c1c"/></pattern>
<pattern id="deck2" width="3.6" height="8" patternUnits="userSpaceOnUse"><rect width="3.6" height="8" fill="#fff"/><rect x="1" width="1.5" height="8" fill="#111"/></pattern>
<pattern id="deck3" width="2.9" height="8" patternUnits="userSpaceOnUse"><rect width="2.9" height="8" fill="#fff"/><rect x="0.9" width="1.15" height="8" fill="#1a1a1a"/></pattern>
<pattern id="ramp" width="5.6" height="8" patternUnits="userSpaceOnUse"><rect width="5.6" height="8" fill="#fff"/><rect x="2" width="0.8" height="8" fill="#8a8a8a"/></pattern>
<pattern id="wh" width="3" height="3" patternUnits="userSpaceOnUse" patternTransform="rotate(45)"><rect width="3" height="3" fill="#fff"/><rect width="1.5" height="3" fill="#222"/></pattern>
<pattern id="pav" width="12" height="21" patternUnits="userSpaceOnUse" patternTransform="rotate(22)"><rect width="12" height="21" fill="#fff"/><path d="M0,0.5H12M0,11H12M3,0.5V11M9,11V21.5" stroke="#a5a5a5" stroke-width="0.85" fill="none"/></pattern>
</defs>
<rect width="1232" height="839" fill="#fff"/>
<polygon points="97.5,0 92,100 88,210 84,300 82,400 85,500 92,560 101,610 111,629 146,740 177.5,839 225,839 204,784 190,739 153.5,610 136,550 130,500 127,435 128,379 131,280 134.5,200 139,93 141,0" fill="url(#pav)" stroke="none" stroke-width="0" />
<polyline points="97.5,0 92,100 88,210 84,300 82,400 85,500 92,560 101,610 111,629 146,740 177.5,839" fill="none" stroke="#111" stroke-width="0.8"/>
<polyline points="141,0 139,93 134.5,200 131,280 128,379 127,435 130,500 136,550 153.5,610 190,739 204,784 225,839" fill="none" stroke="#111" stroke-width="0.9"/>
<polygon points="184,0 400,0 1106.5,26.68375 1106.5,51 910.5,51 910.5,39 233,39 233,92 184,92" fill="url(#stip)" stroke="none" stroke-width="0" />
<polygon points="134,227.5 247.5,227.5 247.5,379 128,379 131,280" fill="url(#stip)" stroke="none" stroke-width="0" />
<rect x="247.5" y="357.5" width="17.5" height="21.5" fill="url(#stip)" stroke="none" stroke-width="0"  shape-rendering="crispEdges"/>
<polygon points="127,435 247.5,435 247.5,603 152,603 136,550 130,500" fill="url(#stip)" stroke="none" stroke-width="0" />
<polygon points="717.5,524 1106.5,524 1106.5,781 195,781 206,780 195,744 247,744 247,740 551,740 551,721.5 565,721.5 565,763 1043,763 1043,565 745,565 745,524" fill="url(#stip)" stroke="none" stroke-width="0" />
<rect x="717.5" y="524" width="27.5" height="41" fill="url(#peb)" stroke="none" stroke-width="0"  shape-rendering="crispEdges"/>
<rect x="615" y="622" width="22" height="120" fill="url(#stip)" stroke="none" stroke-width="0"  shape-rendering="crispEdges"/>
<rect x="265" y="357" width="224.5" height="22" fill="url(#peb)" stroke="none" stroke-width="0"  shape-rendering="crispEdges"/>
<rect x="262.5" y="413.5" width="227.0" height="45.5" fill="url(#peb)" stroke="none" stroke-width="0"  shape-rendering="crispEdges"/>
<rect x="551" y="414" width="14" height="163.5" fill="url(#peb)" stroke="none" stroke-width="0"  shape-rendering="crispEdges"/>
<rect x="614" y="414" width="45" height="73.5" fill="url(#peb)" stroke="none" stroke-width="0"  shape-rendering="crispEdges"/>
<polygon points="128,379 545,379 545,413.5 262.5,413.5 262.5,435 127,435" fill="url(#ramp)" stroke="none" stroke-width="0" />
<polygon points="565,414 614,414 614,487.5 659,487.5 659,565 1043,565 1043,763 565,763" fill="url(#deck)" stroke="none" stroke-width="0" />
<rect x="615" y="622" width="22" height="120" fill="url(#stip)" stroke="none" stroke-width="0"  shape-rendering="crispEdges"/>
<rect x="654.5" y="545.5" width="58.0" height="18.5" fill="#fff" stroke="#666" stroke-width="0.6"  shape-rendering="crispEdges"/>
<rect x="660" y="524" width="49" height="18.5" fill="#c9c9c9" stroke="#555" stroke-width="0.7"  shape-rendering="crispEdges"/>
<line x1="682.5" y1="524" x2="682.5" y2="542.5" stroke="#555" stroke-width="0.7"  shape-rendering="crispEdges"/>
<text x="697.5" y="535.5" font-size="6" text-anchor="middle" font-weight="normal" fill="#333" stroke="#333" stroke-width="0.25" >ΝΤΟΥΣ</text>
<rect x="659.5" y="630" width="290.0" height="109" fill="#fff" stroke="#333" stroke-width="0.6"  shape-rendering="crispEdges"/>
<rect x="662.5" y="633.5" width="283.0" height="102.0" fill="#7adfee" stroke="#123" stroke-width="0.9"  shape-rendering="crispEdges"/>
<line x1="376" y1="0" x2="1232" y2="27.3" stroke="#111" stroke-width="0.9" />
<line x1="400" y1="0" x2="1106.5" y2="26.68375" stroke="#111" stroke-width="0.7" />
<line x1="1106.5" y1="27" x2="1106.5" y2="784" stroke="#111" stroke-width="0.9"  shape-rendering="crispEdges"/>
<line x1="1111.5" y1="0" x2="1111.5" y2="829" stroke="#111" stroke-width="0.9"  shape-rendering="crispEdges"/>
<line x1="48" y1="784" x2="1232" y2="784" stroke="#111" stroke-width="0.9"  shape-rendering="crispEdges"/>
<line x1="48" y1="0" x2="48" y2="784" stroke="#111" stroke-width="0.8"  shape-rendering="crispEdges"/>
<polygon points="48,784 46.8,780 49.2,780" fill="#111" stroke="#111" stroke-width="0" />
<text x="48" y="392" font-size="7.5" text-anchor="middle" font-weight="normal" fill="#222" stroke="#222" stroke-width="0.25" >35.04</text>
<rect x="36" y="384" width="24" height="10" fill="#fff" stroke="none" stroke-width="0"  shape-rendering="crispEdges"/>
<text x="48" y="391.7" font-size="7.5" text-anchor="middle" font-weight="normal" fill="#222" stroke="#222" stroke-width="0.25" >35.04</text>
<line x1="1152" y1="24" x2="1152" y2="784" stroke="#111" stroke-width="0.8"  shape-rendering="crispEdges"/>
<polygon points="1152,24 1150.8,28 1153.2,28" fill="#111" stroke="#111" stroke-width="0" />
<polygon points="1152,784 1150.8,780 1153.2,780" fill="#111" stroke="#111" stroke-width="0" />
<rect x="1139" y="399" width="26" height="10" fill="#fff" stroke="none" stroke-width="0"  shape-rendering="crispEdges"/>
<text x="1152" y="406.7" font-size="7.5" text-anchor="middle" font-weight="normal" fill="#222" stroke="#222" stroke-width="0.25" >33.79</text>
<line x1="204" y1="784" x2="204" y2="829" stroke="#111" stroke-width="0.8"  shape-rendering="crispEdges"/>
<line x1="204" y1="828" x2="1111.5" y2="828" stroke="#111" stroke-width="0.8"  shape-rendering="crispEdges"/>
<polygon points="204,828 208,826.8 208,829.2" fill="#111" stroke="#111" stroke-width="0" />
<polygon points="1111.5,828 1107.5,826.8 1107.5,829.2" fill="#111" stroke="#111" stroke-width="0" />
<rect x="646.625" y="825" width="21.75" height="6" fill="#fff" stroke="none" stroke-width="0"  shape-rendering="crispEdges"/>
<text x="657.5" y="830.7" font-size="7.5" text-anchor="middle" font-weight="normal" fill="#222" stroke="#222" stroke-width="0.25" >40.14</text>
<line x1="136" y1="117" x2="1106.5" y2="117" stroke="#111" stroke-width="0.8"  shape-rendering="crispEdges"/>
<polygon points="136,117 140,115.8 140,118.2" fill="#111" stroke="#111" stroke-width="0" />
<polygon points="1106.5,117 1102.5,115.8 1102.5,118.2" fill="#111" stroke="#111" stroke-width="0" />
<rect x="610.125" y="114" width="21.75" height="6" fill="#fff" stroke="none" stroke-width="0"  shape-rendering="crispEdges"/>
<text x="621" y="119.7" font-size="7.5" text-anchor="middle" font-weight="normal" fill="#222" stroke="#222" stroke-width="0.25" >42.95</text>
<line x1="247" y1="740" x2="551" y2="740" stroke="#111" stroke-width="0.9"  shape-rendering="crispEdges"/>
<line x1="195" y1="744" x2="247" y2="744" stroke="#111" stroke-width="0.8"  shape-rendering="crispEdges"/>
<line x1="247" y1="740" x2="247" y2="744" stroke="#111" stroke-width="0.8"  shape-rendering="crispEdges"/>
<line x1="195" y1="744" x2="206" y2="780" stroke="#111" stroke-width="0.8" />
<line x1="206" y1="780.5" x2="1106.5" y2="780.5" stroke="#111" stroke-width="0.9"  shape-rendering="crispEdges"/>
<line x1="139" y1="92.5" x2="910.5" y2="92.5" stroke="#111" stroke-width="0.9"  shape-rendering="crispEdges"/>
<line x1="233" y1="39" x2="910.5" y2="39" stroke="#111" stroke-width="0.9"  shape-rendering="crispEdges"/>
<line x1="910.5" y1="39" x2="910.5" y2="92.5" stroke="#111" stroke-width="0.9"  shape-rendering="crispEdges"/>
<line x1="233" y1="39" x2="233" y2="92.5" stroke="#111" stroke-width="1.0"  shape-rendering="crispEdges"/>
<line x1="369" y1="39" x2="369" y2="92.5" stroke="#111" stroke-width="1.0"  shape-rendering="crispEdges"/>
<line x1="504" y1="39" x2="504" y2="92.5" stroke="#111" stroke-width="1.0"  shape-rendering="crispEdges"/>
<line x1="639" y1="39" x2="639" y2="92.5" stroke="#111" stroke-width="1.0"  shape-rendering="crispEdges"/>
<line x1="775" y1="39" x2="775" y2="92.5" stroke="#111" stroke-width="1.0"  shape-rendering="crispEdges"/>
<line x1="233" y1="50.5" x2="369" y2="50.5" stroke="#111" stroke-width="0.8"  shape-rendering="crispEdges"/>
<polygon points="233,50.5 237,49.3 237,51.7" fill="#111" stroke="#111" stroke-width="0" />
<polygon points="369,50.5 365,49.3 365,51.7" fill="#111" stroke="#111" stroke-width="0" />
<rect x="291.0" y="47.5" width="18.0" height="6.0" fill="#fff" stroke="none" stroke-width="0"  shape-rendering="crispEdges"/>
<text x="300" y="53.2" font-size="7.5" text-anchor="middle" font-weight="normal" fill="#222" stroke="#222" stroke-width="0.25" >6.00</text>
<line x1="369" y1="50.5" x2="504" y2="50.5" stroke="#111" stroke-width="0.8"  shape-rendering="crispEdges"/>
<polygon points="369,50.5 373,49.3 373,51.7" fill="#111" stroke="#111" stroke-width="0" />
<polygon points="504,50.5 500,49.3 500,51.7" fill="#111" stroke="#111" stroke-width="0" />
<rect x="424.5" y="47.5" width="18.0" height="6.0" fill="#fff" stroke="none" stroke-width="0"  shape-rendering="crispEdges"/>
<text x="433.5" y="53.2" font-size="7.5" text-anchor="middle" font-weight="normal" fill="#222" stroke="#222" stroke-width="0.25" >6.00</text>
<line x1="504" y1="50.5" x2="639" y2="50.5" stroke="#111" stroke-width="0.8"  shape-rendering="crispEdges"/>
<polygon points="504,50.5 508,49.3 508,51.7" fill="#111" stroke="#111" stroke-width="0" />
<polygon points="639,50.5 635,49.3 635,51.7" fill="#111" stroke="#111" stroke-width="0" />
<rect x="559.5" y="47.5" width="18.0" height="6.0" fill="#fff" stroke="none" stroke-width="0"  shape-rendering="crispEdges"/>
<text x="568.5" y="53.2" font-size="7.5" text-anchor="middle" font-weight="normal" fill="#222" stroke="#222" stroke-width="0.25" >6.00</text>
<line x1="639" y1="50.5" x2="775" y2="50.5" stroke="#111" stroke-width="0.8"  shape-rendering="crispEdges"/>
<polygon points="639,50.5 643,49.3 643,51.7" fill="#111" stroke="#111" stroke-width="0" />
<polygon points="775,50.5 771,49.3 771,51.7" fill="#111" stroke="#111" stroke-width="0" />
<rect x="695.0" y="47.5" width="18.0" height="6.0" fill="#fff" stroke="none" stroke-width="0"  shape-rendering="crispEdges"/>
<text x="704.0" y="53.2" font-size="7.5" text-anchor="middle" font-weight="normal" fill="#222" stroke="#222" stroke-width="0.25" >6.00</text>
<line x1="775" y1="50.5" x2="910.5" y2="50.5" stroke="#111" stroke-width="0.8"  shape-rendering="crispEdges"/>
<polygon points="775,50.5 779,49.3 779,51.7" fill="#111" stroke="#111" stroke-width="0" />
<polygon points="910.5,50.5 906.5,49.3 906.5,51.7" fill="#111" stroke="#111" stroke-width="0" />
<rect x="830.75" y="47.5" width="18.0" height="6.0" fill="#fff" stroke="none" stroke-width="0"  shape-rendering="crispEdges"/>
<text x="839.75" y="53.2" font-size="7.5" text-anchor="middle" font-weight="normal" fill="#222" stroke="#222" stroke-width="0.25" >6.00</text>
<line x1="287.5" y1="39" x2="287.5" y2="92.5" stroke="#111" stroke-width="0.8"  shape-rendering="crispEdges"/>
<polygon points="287.5,39 286.3,43 288.7,43" fill="#111" stroke="#111" stroke-width="0" />
<polygon points="287.5,92.5 286.3,88.5 288.7,88.5" fill="#111" stroke="#111" stroke-width="0" />
<rect x="279.5" y="62" width="16.0" height="8" fill="#fff" stroke="none" stroke-width="0"  shape-rendering="crispEdges"/>
<text x="287.5" y="68.7" font-size="7.5" text-anchor="middle" font-weight="normal" fill="#222" stroke="#222" stroke-width="0.25" >2.40</text>
<line x1="406" y1="39" x2="406" y2="92.5" stroke="#111" stroke-width="0.8"  shape-rendering="crispEdges"/>
<polygon points="406,39 404.8,43 407.2,43" fill="#111" stroke="#111" stroke-width="0" />
<polygon points="406,92.5 404.8,88.5 407.2,88.5" fill="#111" stroke="#111" stroke-width="0" />
<rect x="398" y="62" width="16" height="8" fill="#fff" stroke="none" stroke-width="0"  shape-rendering="crispEdges"/>
<text x="406" y="68.7" font-size="7.5" text-anchor="middle" font-weight="normal" fill="#222" stroke="#222" stroke-width="0.25" >2.40</text>
<line x1="547.5" y1="39" x2="547.5" y2="92.5" stroke="#111" stroke-width="0.8"  shape-rendering="crispEdges"/>
<polygon points="547.5,39 546.3,43 548.7,43" fill="#111" stroke="#111" stroke-width="0" />
<polygon points="547.5,92.5 546.3,88.5 548.7,88.5" fill="#111" stroke="#111" stroke-width="0" />
<rect x="539.5" y="62" width="16.0" height="8" fill="#fff" stroke="none" stroke-width="0"  shape-rendering="crispEdges"/>
<text x="547.5" y="68.7" font-size="7.5" text-anchor="middle" font-weight="normal" fill="#222" stroke="#222" stroke-width="0.25" >2.40</text>
<line x1="677" y1="39" x2="677" y2="92.5" stroke="#111" stroke-width="0.8"  shape-rendering="crispEdges"/>
<polygon points="677,39 675.8,43 678.2,43" fill="#111" stroke="#111" stroke-width="0" />
<polygon points="677,92.5 675.8,88.5 678.2,88.5" fill="#111" stroke="#111" stroke-width="0" />
<rect x="669" y="62" width="16" height="8" fill="#fff" stroke="none" stroke-width="0"  shape-rendering="crispEdges"/>
<text x="677" y="68.7" font-size="7.5" text-anchor="middle" font-weight="normal" fill="#222" stroke="#222" stroke-width="0.25" >2.40</text>
<line x1="812" y1="39" x2="812" y2="92.5" stroke="#111" stroke-width="0.8"  shape-rendering="crispEdges"/>
<polygon points="812,39 810.8,43 813.2,43" fill="#111" stroke="#111" stroke-width="0" />
<polygon points="812,92.5 810.8,88.5 813.2,88.5" fill="#111" stroke="#111" stroke-width="0" />
<rect x="804" y="62" width="16" height="8" fill="#fff" stroke="none" stroke-width="0"  shape-rendering="crispEdges"/>
<text x="812" y="68.7" font-size="7.5" text-anchor="middle" font-weight="normal" fill="#222" stroke="#222" stroke-width="0.25" >2.40</text>
<line x1="547.5" y1="92.5" x2="547.5" y2="229" stroke="#111" stroke-width="0.8"  shape-rendering="crispEdges"/>
<polygon points="547.5,92.5 546.3,96.5 548.7,96.5" fill="#111" stroke="#111" stroke-width="0" />
<circle cx="305.5" cy="64.5" r="9" fill="#fff" stroke="#111" stroke-width="0.9"/>
<text x="305.5" y="67.5" font-size="8.5" text-anchor="middle" font-weight="normal" fill="#222" stroke="#222" stroke-width="0.25" >13</text>
<circle cx="447" cy="64.5" r="9" fill="#fff" stroke="#111" stroke-width="0.9"/>
<text x="447" y="67.5" font-size="8.5" text-anchor="middle" font-weight="normal" fill="#222" stroke="#222" stroke-width="0.25" >14</text>
<circle cx="585" cy="64.5" r="9" fill="#fff" stroke="#111" stroke-width="0.9"/>
<text x="585" y="67.5" font-size="8.5" text-anchor="middle" font-weight="normal" fill="#222" stroke="#222" stroke-width="0.25" >15</text>
<circle cx="713" cy="66" r="9" fill="#fff" stroke="#111" stroke-width="0.9"/>
<text x="713" y="69" font-size="8.5" text-anchor="middle" font-weight="normal" fill="#222" stroke="#222" stroke-width="0.25" >16</text>
<circle cx="862" cy="63" r="9" fill="#fff" stroke="#111" stroke-width="0.9"/>
<text x="862" y="66" font-size="8.5" text-anchor="middle" font-weight="normal" fill="#222" stroke="#222" stroke-width="0.25" >17</text>
<text x="305" y="80.5" font-size="9.5" text-anchor="middle" font-weight="normal" fill="#222" stroke="#222" stroke-width="0.25" >guest</text>
<rect x="404" y="41" width="3" height="30" fill="#222" stroke="none" stroke-width="0"  shape-rendering="crispEdges"/>
<rect x="142.5" y="-2" width="37.5" height="91" fill="none" stroke="#111" stroke-width="0.9"  shape-rendering="crispEdges"/>
<rect x="139.5" y="37" width="2.5" height="45" fill="none" stroke="#111" stroke-width="0.7"  shape-rendering="crispEdges"/>
<line x1="157" y1="0" x2="157" y2="89" stroke="#111" stroke-width="0.8"  shape-rendering="crispEdges"/>
<polygon points="157,89 155.8,85 158.2,85" fill="#111" stroke="#111" stroke-width="0" />
<line x1="142.5" y1="33" x2="180" y2="33" stroke="#111" stroke-width="0.8"  shape-rendering="crispEdges"/>
<polygon points="142.5,33 146.5,31.8 146.5,34.2" fill="#111" stroke="#111" stroke-width="0" />
<polygon points="180,33 176,31.8 176,34.2" fill="#111" stroke="#111" stroke-width="0" />
<rect x="152.5" y="30" width="17.0" height="6" fill="#fff" stroke="none" stroke-width="0"  shape-rendering="crispEdges"/>
<text x="161" y="35.7" font-size="7" text-anchor="middle" font-weight="normal" fill="#222" stroke="#222" stroke-width="0.25" >1.60</text>
<text x="163" y="46.7" font-size="7" text-anchor="middle" font-weight="normal" fill="#222" stroke="#222" stroke-width="0.25" >3.98</text>
<text x="144" y="62.7" font-size="7" text-anchor="middle" font-weight="normal" fill="#222" stroke="#222" stroke-width="0.25" >2.00</text>
<text x="166" y="67" font-size="5.5" text-anchor="middle" font-weight="normal" fill="#444" stroke="#444" stroke-width="0.25" >ΣΚΥΒΑΛΑ</text>
<rect x="185" y="140.5" width="34" height="8.5" rx="2" fill="#fff" stroke="#555" stroke-width="0.7"/>
<text x="202.0" y="147.45" font-size="7" text-anchor="middle" font-weight="normal" fill="#222" stroke="#222" stroke-width="0.25" >ΜΘ 0.01</text>
<rect x="185" y="672" width="34" height="8" rx="2" fill="#fff" stroke="#555" stroke-width="0.7"/>
<text x="202.0" y="678.7" font-size="7" text-anchor="middle" font-weight="normal" fill="#222" stroke="#222" stroke-width="0.25" >ΜΘ 0.02</text>
<rect x="200" y="0" width="4" height="92" fill="url(#wh)" stroke="#222" stroke-width="0.6"  shape-rendering="crispEdges"/>
<rect x="197.5" y="92.5" width="6.5" height="135.0" fill="#000" stroke="none" stroke-width="0"  shape-rendering="crispEdges"/>
<rect x="196" y="227.5" width="6" height="151.5" fill="url(#wh)" stroke="#222" stroke-width="0.6"  shape-rendering="crispEdges"/>
<rect x="197" y="435" width="4" height="52" fill="url(#wh)" stroke="#222" stroke-width="0.6"  shape-rendering="crispEdges"/>
<line x1="197" y1="487" x2="197" y2="603" stroke="#111" stroke-width="0.8"  shape-rendering="crispEdges"/>
<line x1="201" y1="487" x2="201" y2="603" stroke="#111" stroke-width="0.8"  shape-rendering="crispEdges"/>
<rect x="198" y="603" width="6" height="137" fill="#000" stroke="none" stroke-width="0"  shape-rendering="crispEdges"/>
<line x1="184" y1="0" x2="184" y2="92" stroke="#111" stroke-width="0.9"  shape-rendering="crispEdges"/>
<line x1="233" y1="39" x2="233" y2="92" stroke="#111" stroke-width="0.9"  shape-rendering="crispEdges"/>
<line x1="134" y1="227.5" x2="247.5" y2="227.5" stroke="#111" stroke-width="0.9"  shape-rendering="crispEdges"/>
<line x1="247.5" y1="227.5" x2="247.5" y2="357.5" stroke="#111" stroke-width="0.9"  shape-rendering="crispEdges"/>
<line x1="128" y1="379" x2="262.5" y2="379" stroke="#111" stroke-width="0.9"  shape-rendering="crispEdges"/>
<line x1="127" y1="435" x2="247.5" y2="435" stroke="#111" stroke-width="0.9"  shape-rendering="crispEdges"/>
<line x1="247.5" y1="457" x2="247.5" y2="603" stroke="#111" stroke-width="0.9"  shape-rendering="crispEdges"/>
<line x1="152" y1="603" x2="247.5" y2="603" stroke="#111" stroke-width="0.9"  shape-rendering="crispEdges"/>
<line x1="247.5" y1="357.5" x2="265" y2="357.5" stroke="#111" stroke-width="0.8"  shape-rendering="crispEdges"/>
<line x1="265" y1="357" x2="265" y2="379" stroke="#111" stroke-width="0.8"  shape-rendering="crispEdges"/>
<circle cx="229" cy="160" r="12.3" fill="#fff" stroke="#111" stroke-width="1.4"/>
<circle cx="229" cy="160" r="10.3" fill="none" stroke="#111" stroke-width="0.9"/>
<rect x="239.5" y="115.5" width="55.5" height="14.5" fill="#fff" stroke="#111" stroke-width="0.9"  shape-rendering="crispEdges"/>
<text x="267.5" y="121.7" font-size="5.5" text-anchor="middle" font-weight="bold" fill="#111" stroke="#111" stroke-width="0.25" >ΑΠΟΡΡΟΦΗΤΙΚΟΣ</text>
<text x="267.5" y="128" font-size="5.5" text-anchor="middle" font-weight="bold" fill="#111" stroke="#111" stroke-width="0.25" >ΛΑΚΚΟΣ ΟΜΒΡΙΩΝ</text>
<line x1="239.5" y1="123" x2="234" y2="123" stroke="#111" stroke-width="0.7"  shape-rendering="crispEdges"/>
<line x1="234" y1="123" x2="234" y2="146" stroke="#111" stroke-width="0.7"  shape-rendering="crispEdges"/>
<polygon points="234,147.5 232.8,143.5 235.2,143.5" fill="#111" stroke="#111" stroke-width="0" />
<circle cx="1035" cy="79.5" r="12.3" fill="#fff" stroke="#111" stroke-width="1.4"/>
<circle cx="1035" cy="79.5" r="10.3" fill="none" stroke="#111" stroke-width="0.9"/>
<rect x="936" y="72.5" width="56" height="15.0" fill="#fff" stroke="#111" stroke-width="0.9"  shape-rendering="crispEdges"/>
<text x="964" y="78.7" font-size="5.5" text-anchor="middle" font-weight="bold" fill="#111" stroke="#111" stroke-width="0.25" >ΑΠΟΡΡΟΦΗΤΙΚΟΣ</text>
<text x="964" y="85" font-size="5.5" text-anchor="middle" font-weight="bold" fill="#111" stroke="#111" stroke-width="0.25" >ΛΑΚΚΟΣ ΟΜΒΡΙΩΝ</text>
<line x1="992" y1="80" x2="1020" y2="80" stroke="#111" stroke-width="0.7"  shape-rendering="crispEdges"/>
<polygon points="1022,80 1018,78.8 1018,81.2" fill="#111" stroke="#111" stroke-width="0" />
<rect x="917.5" y="57" width="177.5" height="3" fill="url(#wh)" stroke="#222" stroke-width="0.6"  shape-rendering="crispEdges"/>
<rect x="939.5" y="60" width="2.0" height="15" fill="none" stroke="#111" stroke-width="0.6"  shape-rendering="crispEdges"/>
<rect x="1008" y="60" width="2" height="24" fill="none" stroke="#111" stroke-width="0.6"  shape-rendering="crispEdges"/>
<rect x="1023" y="60" width="2" height="8" fill="none" stroke="#111" stroke-width="0.6"  shape-rendering="crispEdges"/>
<line x1="910.5" y1="51" x2="1106.5" y2="51" stroke="#111" stroke-width="0.7"  shape-rendering="crispEdges"/>
<line x1="189" y1="153" x2="158" y2="153" stroke="#000" stroke-width="1.6" />
<polyline points="165,147.5 158,153 165,158.5" fill="none" stroke="#000" stroke-width="1.6"/>
<line x1="158" y1="170" x2="189" y2="170" stroke="#000" stroke-width="1.6" />
<polyline points="182,164.5 189,170 182,175.5" fill="none" stroke="#000" stroke-width="1.6"/>
<line x1="230" y1="650" x2="203" y2="650" stroke="#000" stroke-width="1.6" />
<polyline points="210,644.5 203,650 210,655.5" fill="none" stroke="#000" stroke-width="1.6"/>
<line x1="204" y1="667" x2="230" y2="667" stroke="#000" stroke-width="1.6" />
<polyline points="223,661.5 230,667 223,672.5" fill="none" stroke="#000" stroke-width="1.6"/>
<line x1="142" y1="407.7" x2="171" y2="407.7" stroke="#000" stroke-width="2.2" />
<polyline points="164,399.5 172.3,407.7 164,416" fill="none" stroke="#000" stroke-width="1.8"/>
<text x="127.5" y="156.5" font-size="6" text-anchor="end" font-weight="normal" fill="#444" stroke="#444" stroke-width="0.25" >CAR</text>
<text x="127.5" y="164.5" font-size="6" text-anchor="end" font-weight="normal" fill="#444" stroke="#444" stroke-width="0.25" >ENTRANCE-EXIT</text>
<text x="177.5" y="656.5" font-size="6" text-anchor="end" font-weight="normal" fill="#444" stroke="#444" stroke-width="0.25" >CAR</text>
<text x="177.5" y="663.5" font-size="6" text-anchor="end" font-weight="normal" fill="#444" stroke="#444" stroke-width="0.25" >ENTRANCE-EXIT</text>
<line x1="280" y1="92.5" x2="280" y2="227.5" stroke="#111" stroke-width="0.8"  shape-rendering="crispEdges"/>
<polygon points="280,92.5 278.8,96.5 281.2,96.5" fill="#111" stroke="#111" stroke-width="0" />
<polygon points="280,227.5 278.8,223.5 281.2,223.5" fill="#111" stroke="#111" stroke-width="0" />
<rect x="271.0" y="156" width="18.0" height="8" fill="#fff" stroke="none" stroke-width="0"  shape-rendering="crispEdges"/>
<text x="280" y="162.7" font-size="7.5" text-anchor="middle" font-weight="normal" fill="#222" stroke="#222" stroke-width="0.25" >5.99</text>
<text x="580.5" y="817" font-size="6" text-anchor="end" font-weight="normal" fill="#333" stroke="#333" stroke-width="0.25" >PEDESTRIAN</text>
<text x="580.5" y="825" font-size="6" text-anchor="end" font-weight="normal" fill="#333" stroke="#333" stroke-width="0.25" >ROAD</text>
<text x="637.5" y="136.5" font-size="6" text-anchor="middle" font-weight="normal" fill="#333" stroke="#333" stroke-width="0.25" >Χ. ΣΤΑΘΜΕΥΣΗΣ</text>
<rect x="254" y="227.5" width="54" height="108.5" fill="none" stroke="#111" stroke-width="0.9"  shape-rendering="crispEdges"/>
<rect x="343" y="227.5" width="54" height="108.5" fill="none" stroke="#111" stroke-width="0.9"  shape-rendering="crispEdges"/>
<rect x="404.5" y="227.5" width="53.5" height="108.5" fill="none" stroke="#111" stroke-width="0.9"  shape-rendering="crispEdges"/>
<rect x="484" y="227.5" width="54" height="108.5" fill="none" stroke="#111" stroke-width="0.9"  shape-rendering="crispEdges"/>
<rect x="272" y="257" width="36" height="79" fill="none" stroke="#777" stroke-width="0.6"  shape-rendering="crispEdges"/>
<rect x="719" y="214" width="55" height="108" fill="none" stroke="#111" stroke-width="0.9"  shape-rendering="crispEdges"/>
<rect x="802" y="214" width="54" height="108" fill="none" stroke="#111" stroke-width="0.9"  shape-rendering="crispEdges"/>
<rect x="866" y="214" width="54" height="108" fill="none" stroke="#111" stroke-width="0.9"  shape-rendering="crispEdges"/>
<rect x="261" y="467.5" width="55" height="108.5" fill="none" stroke="#111" stroke-width="0.9"  shape-rendering="crispEdges"/>
<rect x="325" y="467.5" width="54" height="108.5" fill="none" stroke="#111" stroke-width="0.9"  shape-rendering="crispEdges"/>
<rect x="389" y="467.5" width="54" height="108.5" fill="none" stroke="#111" stroke-width="0.9"  shape-rendering="crispEdges"/>
<rect x="452" y="467.5" width="54" height="108.5" fill="none" stroke="#111" stroke-width="0.9"  shape-rendering="crispEdges"/>
<rect x="988.5" y="321" width="109.5" height="136" fill="none" stroke="#111" stroke-width="0.9"  shape-rendering="crispEdges"/>
<line x1="254" y1="231" x2="545" y2="231" stroke="#000" stroke-width="0.9" stroke-dasharray="20,3,2,3"  shape-rendering="crispEdges"/>
<line x1="668" y1="231" x2="998" y2="231" stroke="#000" stroke-width="0.9" stroke-dasharray="20,3,2,3"  shape-rendering="crispEdges"/>
<line x1="254" y1="257" x2="545" y2="257" stroke="#000" stroke-width="1.0" stroke-dasharray="20,3,2,3"  shape-rendering="crispEdges"/>
<line x1="668" y1="257" x2="998" y2="257" stroke="#000" stroke-width="1.0" stroke-dasharray="20,3,2,3"  shape-rendering="crispEdges"/>
<line x1="254" y1="255.5" x2="545" y2="255.5" stroke="#999" stroke-width="0.5"  shape-rendering="crispEdges"/>
<line x1="668" y1="255.5" x2="998" y2="255.5" stroke="#999" stroke-width="0.5"  shape-rendering="crispEdges"/>
<line x1="254" y1="298" x2="545" y2="298" stroke="#000" stroke-width="0.9" stroke-dasharray="20,3,2,3"  shape-rendering="crispEdges"/>
<line x1="668" y1="298" x2="998" y2="298" stroke="#000" stroke-width="0.9" stroke-dasharray="20,3,2,3"  shape-rendering="crispEdges"/>
<line x1="247.5" y1="542" x2="545" y2="542" stroke="#000" stroke-width="0.9" stroke-dasharray="20,3,2,3"  shape-rendering="crispEdges"/>
<line x1="259" y1="555" x2="545" y2="555" stroke="#111" stroke-width="0.8" stroke-dasharray="7,3"  shape-rendering="crispEdges"/>
<line x1="247.5" y1="602" x2="506" y2="602" stroke="#111" stroke-width="0.8" stroke-dasharray="6,3"  shape-rendering="crispEdges"/>
<line x1="506" y1="576" x2="506" y2="740" stroke="#111" stroke-width="0.8" stroke-dasharray="6,3"  shape-rendering="crispEdges"/>
<line x1="190" y1="739" x2="506" y2="603" stroke="#111" stroke-width="0.8" stroke-dasharray="5,3" />
<line x1="317.5" y1="167" x2="317.5" y2="467" stroke="#000" stroke-width="0.9" stroke-dasharray="20,3,2,3"  shape-rendering="crispEdges"/>
<line x1="469" y1="167" x2="469" y2="350" stroke="#000" stroke-width="0.9" stroke-dasharray="20,3,2,3"  shape-rendering="crispEdges"/>
<line x1="546" y1="162" x2="546" y2="229" stroke="#000" stroke-width="0.9" stroke-dasharray="20,3,2,3"  shape-rendering="crispEdges"/>
<line x1="617.5" y1="161" x2="617.5" y2="229" stroke="#000" stroke-width="0.9" stroke-dasharray="20,3,2,3"  shape-rendering="crispEdges"/>
<line x1="667" y1="167" x2="667" y2="229" stroke="#000" stroke-width="0.9" stroke-dasharray="20,3,2,3"  shape-rendering="crispEdges"/>
<line x1="712" y1="161" x2="712" y2="350" stroke="#000" stroke-width="0.9" stroke-dasharray="20,3,2,3"  shape-rendering="crispEdges"/>
<line x1="774" y1="161" x2="774" y2="350" stroke="#000" stroke-width="0.9" stroke-dasharray="20,3,2,3"  shape-rendering="crispEdges"/>
<line x1="920.5" y1="161" x2="920.5" y2="350" stroke="#000" stroke-width="0.9" stroke-dasharray="20,3,2,3"  shape-rendering="crispEdges"/>
<line x1="317.5" y1="467" x2="317.5" y2="684" stroke="#000" stroke-width="0.9" stroke-dasharray="20,3,2,3"  shape-rendering="crispEdges"/>
<line x1="469" y1="467" x2="469" y2="700" stroke="#000" stroke-width="0.9" stroke-dasharray="20,3,2,3"  shape-rendering="crispEdges"/>
<line x1="259" y1="467" x2="259" y2="560" stroke="#111" stroke-width="0.8" stroke-dasharray="7,3"  shape-rendering="crispEdges"/>
<line x1="926" y1="466" x2="998" y2="466" stroke="#000" stroke-width="0.9" stroke-dasharray="20,3,2,3"  shape-rendering="crispEdges"/>
<line x1="975" y1="357.7" x2="998" y2="357.7" stroke="#000" stroke-width="0.9" stroke-dasharray="20,3,2,3"  shape-rendering="crispEdges"/>
<line x1="976" y1="257" x2="976" y2="357" stroke="#000" stroke-width="0.9" stroke-dasharray="20,3,2,3"  shape-rendering="crispEdges"/>
<line x1="254" y1="336" x2="254" y2="357" stroke="#111" stroke-width="0.7"  shape-rendering="crispEdges"/>
<line x1="247.5" y1="457" x2="262" y2="457" stroke="#111" stroke-width="0.7"  shape-rendering="crispEdges"/>
<circle cx="317.5" cy="154.5" r="6.5" fill="#fff" stroke="#111" stroke-width="0.8"/>
<text x="317.5" y="156.3" font-size="4.8" text-anchor="middle" font-weight="normal" fill="#222" stroke="#222" stroke-width="0.12" >101</text>
<circle cx="469" cy="154.5" r="6.5" fill="#fff" stroke="#111" stroke-width="0.8"/>
<text x="469" y="156.3" font-size="4.8" text-anchor="middle" font-weight="normal" fill="#222" stroke="#222" stroke-width="0.12" >102</text>
<circle cx="546" cy="154.5" r="6.5" fill="#fff" stroke="#111" stroke-width="0.8"/>
<text x="546" y="156.3" font-size="4.8" text-anchor="middle" font-weight="normal" fill="#222" stroke="#222" stroke-width="0.12" >103</text>
<circle cx="617.5" cy="154.5" r="6.5" fill="#fff" stroke="#111" stroke-width="0.8"/>
<text x="617.5" y="156.3" font-size="4.8" text-anchor="middle" font-weight="normal" fill="#222" stroke="#222" stroke-width="0.12" >104</text>
<circle cx="667" cy="154.5" r="6.5" fill="#fff" stroke="#111" stroke-width="0.8"/>
<text x="667" y="156.3" font-size="4.8" text-anchor="middle" font-weight="normal" fill="#222" stroke="#222" stroke-width="0.12" >105</text>
<circle cx="712" cy="154.5" r="6.5" fill="#fff" stroke="#111" stroke-width="0.8"/>
<text x="712" y="156.3" font-size="4.8" text-anchor="middle" font-weight="normal" fill="#222" stroke="#222" stroke-width="0.12" >106</text>
<circle cx="774" cy="154.5" r="6.5" fill="#fff" stroke="#111" stroke-width="0.8"/>
<text x="774" y="156.3" font-size="4.8" text-anchor="middle" font-weight="normal" fill="#222" stroke="#222" stroke-width="0.12" >107</text>
<circle cx="920.5" cy="154.5" r="6.5" fill="#fff" stroke="#111" stroke-width="0.8"/>
<text x="920.5" y="156.3" font-size="4.8" text-anchor="middle" font-weight="normal" fill="#222" stroke="#222" stroke-width="0.12" >108</text>
<line x1="317.5" y1="181" x2="469" y2="181" stroke="#111" stroke-width="0.8"  shape-rendering="crispEdges"/>
<polygon points="317.5,181 321.5,179.8 321.5,182.2" fill="#111" stroke="#111" stroke-width="0" />
<polygon points="469,181 465,179.8 465,182.2" fill="#111" stroke="#111" stroke-width="0" />
<rect x="384.0" y="178" width="18.0" height="6" fill="#fff" stroke="none" stroke-width="0"  shape-rendering="crispEdges"/>
<text x="393" y="183.7" font-size="7.5" text-anchor="middle" font-weight="normal" fill="#222" stroke="#222" stroke-width="0.25" >6.70</text>
<line x1="469" y1="181" x2="546" y2="181" stroke="#111" stroke-width="0.8"  shape-rendering="crispEdges"/>
<polygon points="469,181 473,179.8 473,182.2" fill="#111" stroke="#111" stroke-width="0" />
<polygon points="546,181 542,179.8 542,182.2" fill="#111" stroke="#111" stroke-width="0" />
<rect x="498.5" y="178" width="18.0" height="6" fill="#fff" stroke="none" stroke-width="0"  shape-rendering="crispEdges"/>
<text x="507.5" y="183.7" font-size="7.5" text-anchor="middle" font-weight="normal" fill="#222" stroke="#222" stroke-width="0.25" >3.40</text>
<line x1="546" y1="181" x2="617.5" y2="181" stroke="#111" stroke-width="0.8"  shape-rendering="crispEdges"/>
<polygon points="546,181 550,179.8 550,182.2" fill="#111" stroke="#111" stroke-width="0" />
<polygon points="617.5,181 613.5,179.8 613.5,182.2" fill="#111" stroke="#111" stroke-width="0" />
<rect x="572.0" y="178" width="18.0" height="6" fill="#fff" stroke="none" stroke-width="0"  shape-rendering="crispEdges"/>
<text x="581" y="183.7" font-size="7.5" text-anchor="middle" font-weight="normal" fill="#222" stroke="#222" stroke-width="0.25" >3.20</text>
<line x1="617.5" y1="181" x2="667" y2="181" stroke="#111" stroke-width="0.8"  shape-rendering="crispEdges"/>
<polygon points="617.5,181 621.5,179.8 621.5,182.2" fill="#111" stroke="#111" stroke-width="0" />
<polygon points="667,181 663,179.8 663,182.2" fill="#111" stroke="#111" stroke-width="0" />
<rect x="635.0" y="178" width="18.0" height="6" fill="#fff" stroke="none" stroke-width="0"  shape-rendering="crispEdges"/>
<text x="644" y="183.7" font-size="7.5" text-anchor="middle" font-weight="normal" fill="#222" stroke="#222" stroke-width="0.25" >2.15</text>
<line x1="667" y1="181" x2="712" y2="181" stroke="#111" stroke-width="0.8"  shape-rendering="crispEdges"/>
<polygon points="667,181 671,179.8 671,182.2" fill="#111" stroke="#111" stroke-width="0" />
<polygon points="712,181 708,179.8 708,182.2" fill="#111" stroke="#111" stroke-width="0" />
<rect x="680.0" y="178" width="18.0" height="6" fill="#fff" stroke="none" stroke-width="0"  shape-rendering="crispEdges"/>
<text x="689" y="183.7" font-size="7.5" text-anchor="middle" font-weight="normal" fill="#222" stroke="#222" stroke-width="0.25" >2.00</text>
<line x1="712" y1="181" x2="774" y2="181" stroke="#111" stroke-width="0.8"  shape-rendering="crispEdges"/>
<polygon points="712,181 716,179.8 716,182.2" fill="#111" stroke="#111" stroke-width="0" />
<polygon points="774,181 770,179.8 770,182.2" fill="#111" stroke="#111" stroke-width="0" />
<rect x="728.0" y="178" width="18.0" height="6" fill="#fff" stroke="none" stroke-width="0"  shape-rendering="crispEdges"/>
<text x="737" y="183.7" font-size="7.5" text-anchor="middle" font-weight="normal" fill="#222" stroke="#222" stroke-width="0.25" >2.15</text>
<line x1="774" y1="181" x2="920.5" y2="181" stroke="#111" stroke-width="0.8"  shape-rendering="crispEdges"/>
<polygon points="774,181 778,179.8 778,182.2" fill="#111" stroke="#111" stroke-width="0" />
<polygon points="920.5,181 916.5,179.8 916.5,182.2" fill="#111" stroke="#111" stroke-width="0" />
<rect x="837.0" y="178" width="18.0" height="6" fill="#fff" stroke="none" stroke-width="0"  shape-rendering="crispEdges"/>
<text x="846" y="183.7" font-size="7.5" text-anchor="middle" font-weight="normal" fill="#222" stroke="#222" stroke-width="0.25" >6.50</text>
<line x1="317.5" y1="202.5" x2="920.5" y2="202.5" stroke="#111" stroke-width="0.8"  shape-rendering="crispEdges"/>
<polygon points="317.5,202.5 321.5,201.3 321.5,203.7" fill="#111" stroke="#111" stroke-width="0" />
<polygon points="920.5,202.5 916.5,201.3 916.5,203.7" fill="#111" stroke="#111" stroke-width="0" />
<rect x="608.125" y="199.5" width="21.75" height="6.0" fill="#fff" stroke="none" stroke-width="0"  shape-rendering="crispEdges"/>
<text x="619" y="205.2" font-size="7.5" text-anchor="middle" font-weight="normal" fill="#222" stroke="#222" stroke-width="0.25" >26.70</text>
<line x1="319.5" y1="160.5" x2="340.5" y2="160.5" stroke="#111" stroke-width="0.7"  shape-rendering="crispEdges"/>
<line x1="330.0" y1="150" x2="330.0" y2="171" stroke="#111" stroke-width="0.7"  shape-rendering="crispEdges"/>
<rect x="322.5" y="153" width="15.0" height="15" fill="#000" stroke="none" stroke-width="0"  shape-rendering="crispEdges"/>
<circle cx="327.7" cy="158.2" r="1.0" fill="#555" stroke="none" stroke-width="0"/>
<circle cx="327.7" cy="162.8" r="1.0" fill="#555" stroke="none" stroke-width="0"/>
<circle cx="332.3" cy="158.2" r="1.0" fill="#555" stroke="none" stroke-width="0"/>
<circle cx="332.3" cy="162.8" r="1.0" fill="#555" stroke="none" stroke-width="0"/>
<line x1="463" y1="160.5" x2="484" y2="160.5" stroke="#111" stroke-width="0.7"  shape-rendering="crispEdges"/>
<line x1="473.5" y1="150" x2="473.5" y2="171" stroke="#111" stroke-width="0.7"  shape-rendering="crispEdges"/>
<rect x="466" y="153" width="15" height="15" fill="#000" stroke="none" stroke-width="0"  shape-rendering="crispEdges"/>
<circle cx="471.2" cy="158.2" r="1.0" fill="#555" stroke="none" stroke-width="0"/>
<circle cx="471.2" cy="162.8" r="1.0" fill="#555" stroke="none" stroke-width="0"/>
<circle cx="475.8" cy="158.2" r="1.0" fill="#555" stroke="none" stroke-width="0"/>
<circle cx="475.8" cy="162.8" r="1.0" fill="#555" stroke="none" stroke-width="0"/>
<line x1="514.5" y1="178.5" x2="535.5" y2="178.5" stroke="#111" stroke-width="0.7"  shape-rendering="crispEdges"/>
<line x1="525.0" y1="168" x2="525.0" y2="189" stroke="#111" stroke-width="0.7"  shape-rendering="crispEdges"/>
<rect x="517.5" y="171" width="15.0" height="15" fill="#000" stroke="none" stroke-width="0"  shape-rendering="crispEdges"/>
<circle cx="522.7" cy="176.2" r="1.0" fill="#555" stroke="none" stroke-width="0"/>
<circle cx="522.7" cy="180.8" r="1.0" fill="#555" stroke="none" stroke-width="0"/>
<circle cx="527.3" cy="176.2" r="1.0" fill="#555" stroke="none" stroke-width="0"/>
<circle cx="527.3" cy="180.8" r="1.0" fill="#555" stroke="none" stroke-width="0"/>
<line x1="659.5" y1="160.5" x2="680.5" y2="160.5" stroke="#111" stroke-width="0.7"  shape-rendering="crispEdges"/>
<line x1="670.0" y1="150" x2="670.0" y2="171" stroke="#111" stroke-width="0.7"  shape-rendering="crispEdges"/>
<rect x="662.5" y="153" width="15.0" height="15" fill="#000" stroke="none" stroke-width="0"  shape-rendering="crispEdges"/>
<circle cx="667.7" cy="158.2" r="1.0" fill="#555" stroke="none" stroke-width="0"/>
<circle cx="667.7" cy="162.8" r="1.0" fill="#555" stroke="none" stroke-width="0"/>
<circle cx="672.3" cy="158.2" r="1.0" fill="#555" stroke="none" stroke-width="0"/>
<circle cx="672.3" cy="162.8" r="1.0" fill="#555" stroke="none" stroke-width="0"/>
<line x1="737.5" y1="178.5" x2="758.5" y2="178.5" stroke="#111" stroke-width="0.7"  shape-rendering="crispEdges"/>
<line x1="748.0" y1="168" x2="748.0" y2="189" stroke="#111" stroke-width="0.7"  shape-rendering="crispEdges"/>
<rect x="740.5" y="171" width="15.0" height="15" fill="#000" stroke="none" stroke-width="0"  shape-rendering="crispEdges"/>
<circle cx="745.7" cy="176.2" r="1.0" fill="#555" stroke="none" stroke-width="0"/>
<circle cx="745.7" cy="180.8" r="1.0" fill="#555" stroke="none" stroke-width="0"/>
<circle cx="750.3" cy="176.2" r="1.0" fill="#555" stroke="none" stroke-width="0"/>
<circle cx="750.3" cy="180.8" r="1.0" fill="#555" stroke="none" stroke-width="0"/>
<line x1="1024.5" y1="160.5" x2="1045.5" y2="160.5" stroke="#111" stroke-width="0.7"  shape-rendering="crispEdges"/>
<line x1="1035.0" y1="150" x2="1035.0" y2="171" stroke="#111" stroke-width="0.7"  shape-rendering="crispEdges"/>
<rect x="1027.5" y="153" width="15.0" height="15" fill="#000" stroke="none" stroke-width="0"  shape-rendering="crispEdges"/>
<circle cx="1032.7" cy="158.2" r="1.0" fill="#555" stroke="none" stroke-width="0"/>
<circle cx="1032.7" cy="162.8" r="1.0" fill="#555" stroke="none" stroke-width="0"/>
<circle cx="1037.3" cy="158.2" r="1.0" fill="#555" stroke="none" stroke-width="0"/>
<circle cx="1037.3" cy="162.8" r="1.0" fill="#555" stroke="none" stroke-width="0"/>
<line x1="514.5" y1="263.5" x2="535.5" y2="263.5" stroke="#111" stroke-width="0.7"  shape-rendering="crispEdges"/>
<line x1="525.0" y1="253" x2="525.0" y2="274" stroke="#111" stroke-width="0.7"  shape-rendering="crispEdges"/>
<rect x="517.5" y="256" width="15.0" height="15" fill="#000" stroke="none" stroke-width="0"  shape-rendering="crispEdges"/>
<circle cx="522.7" cy="261.2" r="1.0" fill="#555" stroke="none" stroke-width="0"/>
<circle cx="522.7" cy="265.8" r="1.0" fill="#555" stroke="none" stroke-width="0"/>
<circle cx="527.3" cy="261.2" r="1.0" fill="#555" stroke="none" stroke-width="0"/>
<circle cx="527.3" cy="265.8" r="1.0" fill="#555" stroke="none" stroke-width="0"/>
<line x1="1024" y1="308.5" x2="1045" y2="308.5" stroke="#111" stroke-width="0.7"  shape-rendering="crispEdges"/>
<line x1="1034.5" y1="298" x2="1034.5" y2="319" stroke="#111" stroke-width="0.7"  shape-rendering="crispEdges"/>
<rect x="1027" y="301" width="15" height="15" fill="#000" stroke="none" stroke-width="0"  shape-rendering="crispEdges"/>
<circle cx="1032.2" cy="306.2" r="1.0" fill="#555" stroke="none" stroke-width="0"/>
<circle cx="1032.2" cy="310.8" r="1.0" fill="#555" stroke="none" stroke-width="0"/>
<circle cx="1036.8" cy="306.2" r="1.0" fill="#555" stroke="none" stroke-width="0"/>
<circle cx="1036.8" cy="310.8" r="1.0" fill="#555" stroke="none" stroke-width="0"/>
<line x1="1024.5" y1="466.5" x2="1045.5" y2="466.5" stroke="#111" stroke-width="0.7"  shape-rendering="crispEdges"/>
<line x1="1035.0" y1="456" x2="1035.0" y2="477" stroke="#111" stroke-width="0.7"  shape-rendering="crispEdges"/>
<rect x="1027.5" y="459" width="15.0" height="15" fill="#000" stroke="none" stroke-width="0"  shape-rendering="crispEdges"/>
<circle cx="1032.7" cy="464.2" r="1.0" fill="#555" stroke="none" stroke-width="0"/>
<circle cx="1032.7" cy="468.8" r="1.0" fill="#555" stroke="none" stroke-width="0"/>
<circle cx="1037.3" cy="464.2" r="1.0" fill="#555" stroke="none" stroke-width="0"/>
<circle cx="1037.3" cy="468.8" r="1.0" fill="#555" stroke="none" stroke-width="0"/>
<line x1="514.5" y1="506.5" x2="535.5" y2="506.5" stroke="#111" stroke-width="0.7"  shape-rendering="crispEdges"/>
<line x1="525.0" y1="496" x2="525.0" y2="517" stroke="#111" stroke-width="0.7"  shape-rendering="crispEdges"/>
<rect x="517.5" y="499" width="15.0" height="15" fill="#000" stroke="none" stroke-width="0"  shape-rendering="crispEdges"/>
<circle cx="522.7" cy="504.2" r="1.0" fill="#555" stroke="none" stroke-width="0"/>
<circle cx="522.7" cy="508.8" r="1.0" fill="#555" stroke="none" stroke-width="0"/>
<circle cx="527.3" cy="504.2" r="1.0" fill="#555" stroke="none" stroke-width="0"/>
<circle cx="527.3" cy="508.8" r="1.0" fill="#555" stroke="none" stroke-width="0"/>
<line x1="387.5" y1="569.5" x2="408.5" y2="569.5" stroke="#111" stroke-width="0.7"  shape-rendering="crispEdges"/>
<line x1="398.0" y1="559" x2="398.0" y2="580" stroke="#111" stroke-width="0.7"  shape-rendering="crispEdges"/>
<rect x="390.5" y="562" width="15.0" height="15" fill="#000" stroke="none" stroke-width="0"  shape-rendering="crispEdges"/>
<circle cx="395.7" cy="567.2" r="1.0" fill="#555" stroke="none" stroke-width="0"/>
<circle cx="395.7" cy="571.8" r="1.0" fill="#555" stroke="none" stroke-width="0"/>
<circle cx="400.3" cy="567.2" r="1.0" fill="#555" stroke="none" stroke-width="0"/>
<circle cx="400.3" cy="571.8" r="1.0" fill="#555" stroke="none" stroke-width="0"/>
<line x1="321" y1="646.0" x2="342" y2="646.0" stroke="#111" stroke-width="0.7"  shape-rendering="crispEdges"/>
<line x1="331.5" y1="635.5" x2="331.5" y2="656.5" stroke="#111" stroke-width="0.7"  shape-rendering="crispEdges"/>
<rect x="324" y="638.5" width="15" height="15.0" fill="#000" stroke="none" stroke-width="0"  shape-rendering="crispEdges"/>
<circle cx="329.2" cy="643.7" r="1.0" fill="#555" stroke="none" stroke-width="0"/>
<circle cx="329.2" cy="648.3" r="1.0" fill="#555" stroke="none" stroke-width="0"/>
<circle cx="333.8" cy="643.7" r="1.0" fill="#555" stroke="none" stroke-width="0"/>
<circle cx="333.8" cy="648.3" r="1.0" fill="#555" stroke="none" stroke-width="0"/>
<line x1="463" y1="646.0" x2="484" y2="646.0" stroke="#111" stroke-width="0.7"  shape-rendering="crispEdges"/>
<line x1="473.5" y1="635.5" x2="473.5" y2="656.5" stroke="#111" stroke-width="0.7"  shape-rendering="crispEdges"/>
<rect x="466" y="638.5" width="15" height="15.0" fill="#000" stroke="none" stroke-width="0"  shape-rendering="crispEdges"/>
<circle cx="471.2" cy="643.7" r="1.0" fill="#555" stroke="none" stroke-width="0"/>
<circle cx="471.2" cy="648.3" r="1.0" fill="#555" stroke="none" stroke-width="0"/>
<circle cx="475.8" cy="643.7" r="1.0" fill="#555" stroke="none" stroke-width="0"/>
<circle cx="475.8" cy="648.3" r="1.0" fill="#555" stroke="none" stroke-width="0"/>
<line x1="633" y1="507.5" x2="654" y2="507.5" stroke="#111" stroke-width="0.7"  shape-rendering="crispEdges"/>
<line x1="643.5" y1="497" x2="643.5" y2="518" stroke="#111" stroke-width="0.7"  shape-rendering="crispEdges"/>
<rect x="636" y="500" width="15" height="15" fill="#000" stroke="none" stroke-width="0"  shape-rendering="crispEdges"/>
<circle cx="641.2" cy="505.2" r="1.0" fill="#555" stroke="none" stroke-width="0"/>
<circle cx="641.2" cy="509.8" r="1.0" fill="#555" stroke="none" stroke-width="0"/>
<circle cx="645.8" cy="505.2" r="1.0" fill="#555" stroke="none" stroke-width="0"/>
<circle cx="645.8" cy="509.8" r="1.0" fill="#555" stroke="none" stroke-width="0"/>
<line x1="596.5" y1="569.5" x2="617.5" y2="569.5" stroke="#111" stroke-width="0.7"  shape-rendering="crispEdges"/>
<line x1="607.0" y1="559" x2="607.0" y2="580" stroke="#111" stroke-width="0.7"  shape-rendering="crispEdges"/>
<rect x="599.5" y="562" width="15.0" height="15" fill="#000" stroke="none" stroke-width="0"  shape-rendering="crispEdges"/>
<circle cx="604.7" cy="567.2" r="1.0" fill="#555" stroke="none" stroke-width="0"/>
<circle cx="604.7" cy="571.8" r="1.0" fill="#555" stroke="none" stroke-width="0"/>
<circle cx="609.3" cy="567.2" r="1.0" fill="#555" stroke="none" stroke-width="0"/>
<circle cx="609.3" cy="571.8" r="1.0" fill="#555" stroke="none" stroke-width="0"/>
<line x1="774.5" y1="573.5" x2="795.5" y2="573.5" stroke="#111" stroke-width="0.7"  shape-rendering="crispEdges"/>
<line x1="785.0" y1="563" x2="785.0" y2="584" stroke="#111" stroke-width="0.7"  shape-rendering="crispEdges"/>
<rect x="777.5" y="566" width="15.0" height="15" fill="#000" stroke="none" stroke-width="0"  shape-rendering="crispEdges"/>
<circle cx="782.7" cy="571.2" r="1.0" fill="#555" stroke="none" stroke-width="0"/>
<circle cx="782.7" cy="575.8" r="1.0" fill="#555" stroke="none" stroke-width="0"/>
<circle cx="787.3" cy="571.2" r="1.0" fill="#555" stroke="none" stroke-width="0"/>
<circle cx="787.3" cy="575.8" r="1.0" fill="#555" stroke="none" stroke-width="0"/>
<rect x="312.5" y="254" width="27.5" height="8" fill="#000" stroke="none" stroke-width="0"  shape-rendering="crispEdges"/>
<rect x="461" y="253" width="22" height="8" fill="#000" stroke="none" stroke-width="0"  shape-rendering="crispEdges"/>
<rect x="474" y="261" width="9" height="5" fill="#000" stroke="none" stroke-width="0"  shape-rendering="crispEdges"/>
<rect x="774" y="253" width="20.5" height="8" fill="#000" stroke="none" stroke-width="0"  shape-rendering="crispEdges"/>
<rect x="783" y="261" width="11.5" height="6" fill="#000" stroke="none" stroke-width="0"  shape-rendering="crispEdges"/>
<rect x="930.5" y="254" width="23.0" height="8" fill="#000" stroke="none" stroke-width="0"  shape-rendering="crispEdges"/>
<rect x="969" y="329.5" width="7" height="27.5" fill="#000" stroke="none" stroke-width="0"  shape-rendering="crispEdges"/>
<rect x="272" y="350.3" width="38" height="6.699999999999989" fill="#000" stroke="none" stroke-width="0"  shape-rendering="crispEdges"/>
<rect x="467.5" y="350.3" width="22.0" height="6.199999999999989" fill="#000" stroke="none" stroke-width="0"  shape-rendering="crispEdges"/>
<rect x="288" y="457" width="54" height="8.5" fill="#000" stroke="none" stroke-width="0"  shape-rendering="crispEdges"/>
<rect x="453" y="457" width="22" height="7.5" fill="#000" stroke="none" stroke-width="0"  shape-rendering="crispEdges"/>
<rect x="310" y="351.2" width="157.5" height="5.400000000000034" fill="url(#wh)" stroke="#222" stroke-width="0.6"  shape-rendering="crispEdges"/>
<rect x="342" y="459.5" width="111" height="5.800000000000011" fill="url(#wh)" stroke="#222" stroke-width="0.6"  shape-rendering="crispEdges"/>
<rect x="475" y="459.5" width="14.5" height="5.800000000000011" fill="url(#wh)" stroke="#222" stroke-width="0.6"  shape-rendering="crispEdges"/>
<rect x="265" y="357" width="224.5" height="22" fill="none" stroke="#111" stroke-width="0.8"  shape-rendering="crispEdges"/>
<rect x="262.5" y="413.5" width="227.0" height="45.5" fill="none" stroke="#111" stroke-width="0.8"  shape-rendering="crispEdges"/>
<line x1="128" y1="379" x2="545" y2="379" stroke="#111" stroke-width="0.8"  shape-rendering="crispEdges"/>
<line x1="262.5" y1="413.5" x2="545" y2="413.5" stroke="#111" stroke-width="0.8"  shape-rendering="crispEdges"/>
<line x1="127" y1="435" x2="262.5" y2="435" stroke="#111" stroke-width="0.8"  shape-rendering="crispEdges"/>
<circle cx="287.5" cy="278" r="9" fill="#fff" stroke="#111" stroke-width="0.9"/>
<text x="287.5" y="281" font-size="8.5" text-anchor="middle" font-weight="normal" fill="#222" stroke="#222" stroke-width="0.25" >05</text>
<circle cx="372.5" cy="278" r="9" fill="#fff" stroke="#111" stroke-width="0.9"/>
<text x="372.5" y="281" font-size="8.5" text-anchor="middle" font-weight="normal" fill="#222" stroke="#222" stroke-width="0.25" >06</text>
<circle cx="433" cy="278" r="9" fill="#fff" stroke="#111" stroke-width="0.9"/>
<text x="433" y="281" font-size="8.5" text-anchor="middle" font-weight="normal" fill="#222" stroke="#222" stroke-width="0.25" >07</text>
<circle cx="510" cy="278" r="9" fill="#fff" stroke="#111" stroke-width="0.9"/>
<text x="510" y="281" font-size="8.5" text-anchor="middle" font-weight="normal" fill="#222" stroke="#222" stroke-width="0.25" >08</text>
<circle cx="746" cy="262" r="9" fill="#fff" stroke="#111" stroke-width="0.9"/>
<text x="746" y="265" font-size="8.5" text-anchor="middle" font-weight="normal" fill="#222" stroke="#222" stroke-width="0.25" >09</text>
<circle cx="830.5" cy="265.5" r="9" fill="#fff" stroke="#111" stroke-width="0.9"/>
<text x="830.5" y="268.5" font-size="8.5" text-anchor="middle" font-weight="normal" fill="#222" stroke="#222" stroke-width="0.25" >10</text>
<circle cx="893" cy="265.5" r="9" fill="#fff" stroke="#111" stroke-width="0.9"/>
<text x="893" y="268.5" font-size="8.5" text-anchor="middle" font-weight="normal" fill="#222" stroke="#222" stroke-width="0.25" >11</text>
<circle cx="1068.5" cy="387" r="9" fill="#fff" stroke="#111" stroke-width="0.9"/>
<text x="1068.5" y="390" font-size="8.5" text-anchor="middle" font-weight="normal" fill="#222" stroke="#222" stroke-width="0.25" >12</text>
<circle cx="288" cy="514" r="9" fill="#fff" stroke="#111" stroke-width="0.9"/>
<text x="288" y="517" font-size="8.5" text-anchor="middle" font-weight="normal" fill="#222" stroke="#222" stroke-width="0.25" >01</text>
<circle cx="351" cy="514" r="9" fill="#fff" stroke="#111" stroke-width="0.9"/>
<text x="351" y="517" font-size="8.5" text-anchor="middle" font-weight="normal" fill="#222" stroke="#222" stroke-width="0.25" >02</text>
<circle cx="417.5" cy="515" r="9" fill="#fff" stroke="#111" stroke-width="0.9"/>
<text x="417.5" y="518" font-size="8.5" text-anchor="middle" font-weight="normal" fill="#222" stroke="#222" stroke-width="0.25" >03</text>
<circle cx="481" cy="515" r="9" fill="#fff" stroke="#111" stroke-width="0.9"/>
<text x="481" y="518" font-size="8.5" text-anchor="middle" font-weight="normal" fill="#222" stroke="#222" stroke-width="0.25" >04</text>
<text x="287" y="296" font-size="9.5" text-anchor="middle" font-weight="normal" fill="#222" stroke="#222" stroke-width="0.25" >guest</text>
<line x1="988.5" y1="360" x2="1098" y2="360" stroke="#111" stroke-width="0.8"  shape-rendering="crispEdges"/>
<polygon points="988.5,360 992.5,358.8 992.5,361.2" fill="#111" stroke="#111" stroke-width="0" />
<polygon points="1098,360 1094,358.8 1094,361.2" fill="#111" stroke="#111" stroke-width="0" />
<rect x="1034.0" y="357" width="18.0" height="6" fill="#fff" stroke="none" stroke-width="0"  shape-rendering="crispEdges"/>
<text x="1043" y="362.7" font-size="7.5" text-anchor="middle" font-weight="normal" fill="#222" stroke="#222" stroke-width="0.25" >4.80</text>
<line x1="1010" y1="321" x2="1010" y2="457" stroke="#111" stroke-width="0.8"  shape-rendering="crispEdges"/>
<polygon points="1010,321 1008.8,325 1011.2,325" fill="#111" stroke="#111" stroke-width="0" />
<polygon points="1010,457 1008.8,453 1011.2,453" fill="#111" stroke="#111" stroke-width="0" />
<rect x="1001.0" y="385" width="18.0" height="8" fill="#fff" stroke="none" stroke-width="0"  shape-rendering="crispEdges"/>
<text x="1010" y="391.7" font-size="7.5" text-anchor="middle" font-weight="normal" fill="#222" stroke="#222" stroke-width="0.25" >6.00</text>
<circle cx="1080.5" cy="338" r="5" fill="none" stroke="#111" stroke-width="1.1"/>
<circle cx="1082.5" cy="325" r="1.3" fill="none" stroke="#111" stroke-width="0.8"/>
<path d="M1082.5,326.5 L1082.5,333 L1088,333 L1090,338.5" fill="none" stroke="#111" stroke-width="1.1" />
<line x1="247.5" y1="587" x2="545" y2="587" stroke="#111" stroke-width="0.8"  shape-rendering="crispEdges"/>
<polygon points="247.5,587 251.5,585.8 251.5,588.2" fill="#111" stroke="#111" stroke-width="0" />
<polygon points="545,587 541,585.8 541,588.2" fill="#111" stroke="#111" stroke-width="0" />
<rect x="385.125" y="584" width="21.75" height="6" fill="#fff" stroke="none" stroke-width="0"  shape-rendering="crispEdges"/>
<text x="396" y="589.7" font-size="7.5" text-anchor="middle" font-weight="normal" fill="#222" stroke="#222" stroke-width="0.25" >13.20</text>
<text x="347" y="584.5" font-size="6" text-anchor="middle" font-weight="normal" fill="#333" stroke="#333" stroke-width="0.25" >Χ. ΣΤΑΘΜΕΥΣΗΣ</text>
<line x1="384" y1="467.5" x2="384" y2="587" stroke="#111" stroke-width="0.8"  shape-rendering="crispEdges"/>
<polygon points="384,467.5 382.8,471.5 385.2,471.5" fill="#111" stroke="#111" stroke-width="0" />
<polygon points="384,587 382.8,583 385.2,583" fill="#111" stroke="#111" stroke-width="0" />
<rect x="375.0" y="517" width="18.0" height="8" fill="#fff" stroke="none" stroke-width="0"  shape-rendering="crispEdges"/>
<text x="384" y="523.7" font-size="7.5" text-anchor="middle" font-weight="normal" fill="#222" stroke="#222" stroke-width="0.25" >4.91</text>
<line x1="384" y1="587" x2="384" y2="740" stroke="#111" stroke-width="0.8"  shape-rendering="crispEdges"/>
<polygon points="384,587 382.8,591 385.2,591" fill="#111" stroke="#111" stroke-width="0" />
<polygon points="384,740 382.8,736 385.2,736" fill="#111" stroke="#111" stroke-width="0" />
<rect x="375.0" y="654.5" width="18.0" height="8.0" fill="#fff" stroke="none" stroke-width="0"  shape-rendering="crispEdges"/>
<text x="384" y="661.2" font-size="7.5" text-anchor="middle" font-weight="normal" fill="#222" stroke="#222" stroke-width="0.25" >7.25</text>
<line x1="252" y1="603" x2="252" y2="740" stroke="#111" stroke-width="0.8"  shape-rendering="crispEdges"/>
<polygon points="252,603 250.8,607 253.2,607" fill="#111" stroke="#111" stroke-width="0" />
<polygon points="252,740 250.8,736 253.2,736" fill="#111" stroke="#111" stroke-width="0" />
<rect x="243.0" y="668" width="18.0" height="8" fill="#fff" stroke="none" stroke-width="0"  shape-rendering="crispEdges"/>
<text x="252" y="674.7" font-size="7.5" text-anchor="middle" font-weight="normal" fill="#222" stroke="#222" stroke-width="0.25" >6.00</text>
<line x1="367.5" y1="683.5" x2="414" y2="683.5" stroke="#111" stroke-width="0.8"  shape-rendering="crispEdges"/>
<polygon points="416,683.5 412,682.3 412,684.7" fill="#111" stroke="#111" stroke-width="0" />
<text x="427.5" y="618" font-size="5.5" text-anchor="middle" font-weight="normal" fill="#333" stroke="#333" stroke-width="0.25" >ΚΛΙΣΗ 3%</text>
<text x="427.5" y="627.5" font-size="6" text-anchor="middle" font-weight="normal" fill="#333" stroke="#333" stroke-width="0.25" >ΤΟΥ ΧΟΡΟΥ ΣΤΑΘΜΕΥΣΗΣ ΠΡΟΣ</text>
<text x="427.5" y="635.5" font-size="6" text-anchor="middle" font-weight="normal" fill="#333" stroke="#333" stroke-width="0.25" >ΕΞΟΔΟ-ΕΞΟΔΟ ΑΥΤΟΚΙΝΗΤΟΥ</text>
<text x="402.5" y="319" font-size="3.6" text-anchor="middle" font-weight="normal" fill="#555" stroke="#555" stroke-width="0.12" >ΤΟΙΧΟΣ ΑΠΟ</text>
<text x="402.5" y="324" font-size="3.6" text-anchor="middle" font-weight="normal" fill="#555" stroke="#555" stroke-width="0.12" >FAIRFACED</text>
<line x1="402.5" y1="326" x2="402.5" y2="349" stroke="#111" stroke-width="0.6"  shape-rendering="crispEdges"/>
<polygon points="402.5,351 401.3,348 403.7,348" fill="#111" stroke="#111" stroke-width="0" />
<text x="507" y="497" font-size="3.6" text-anchor="middle" font-weight="normal" fill="#555" stroke="#555" stroke-width="0.12" >ΤΟΙΧΟΣ ΑΠΟ</text>
<text x="507" y="502" font-size="3.6" text-anchor="middle" font-weight="normal" fill="#555" stroke="#555" stroke-width="0.12" >FAIRFACED</text>
<line x1="532" y1="499" x2="543" y2="499" stroke="#111" stroke-width="0.6"  shape-rendering="crispEdges"/>
<polygon points="545,499 542,497.8 542,500.2" fill="#111" stroke="#111" stroke-width="0" />
<text x="506" y="660" font-size="3.6" text-anchor="middle" font-weight="normal" fill="#555" stroke="#555" stroke-width="0.12" >ΤΟΙΧΟΣ ΑΠΟ</text>
<text x="506" y="665" font-size="3.6" text-anchor="middle" font-weight="normal" fill="#555" stroke="#555" stroke-width="0.12" >FAIRFACED</text>
<line x1="520" y1="661.5" x2="543" y2="661.5" stroke="#111" stroke-width="0.6"  shape-rendering="crispEdges"/>
<polygon points="545,661.5 542,660.3 542,662.7" fill="#111" stroke="#111" stroke-width="0" />
<text x="1000" y="487" font-size="3.6" text-anchor="middle" font-weight="normal" fill="#555" stroke="#555" stroke-width="0.12" >ΤΟΙΧΟΣ ΑΠΟ</text>
<text x="1000" y="492" font-size="3.6" text-anchor="middle" font-weight="normal" fill="#555" stroke="#555" stroke-width="0.12" >FAIRFACED</text>
<line x1="1000" y1="495" x2="1000" y2="517" stroke="#111" stroke-width="0.6"  shape-rendering="crispEdges"/>
<polygon points="1000,519 998.8,516 1001.2,516" fill="#111" stroke="#111" stroke-width="0" />
<text x="654" y="204" font-size="3.6" text-anchor="middle" font-weight="normal" fill="#555" stroke="#555" stroke-width="0.12" >ΤΟΙΧΟΣ ΑΠΟ FAIRFACED</text>
<text x="654" y="209" font-size="3.6" text-anchor="middle" font-weight="normal" fill="#555" stroke="#555" stroke-width="0.12" >ΜΕ ΠΑΝΑΡΙΣΜΕΝΕΣ ΣΑΝΙΔΕΣ</text>
<line x1="651" y1="207" x2="651" y2="227" stroke="#111" stroke-width="0.6"  shape-rendering="crispEdges"/>
<polygon points="651,229 649.8,226 652.2,226" fill="#111" stroke="#111" stroke-width="0" />
<text x="331" y="222.0" font-size="3.4" text-anchor="middle" font-weight="normal" fill="#555" stroke="#555" stroke-width="0.12" >ΚΑΛΥΨΗ ΣΩΛΗΝΩΝ ΑΠΟ</text>
<text x="331" y="226.7" font-size="3.4" text-anchor="middle" font-weight="normal" fill="#555" stroke="#555" stroke-width="0.12" >ΥΑΛΟΣΑΝΙΔΑ GLASROC X</text>
<text x="331" y="231.4" font-size="3.4" text-anchor="middle" font-weight="normal" fill="#555" stroke="#555" stroke-width="0.12" >ΝΑ ΒΑΦΕΙ ΤΟ ΛΑΡΝΑΞ ΓΚΡΙ</text>
<text x="331" y="236.1" font-size="3.4" text-anchor="middle" font-weight="normal" fill="#555" stroke="#555" stroke-width="0.12" >ΣΤΗΝ ΘΕΡΜΟΠΡΟΣΟΨΗ</text>
<text x="477" y="224.0" font-size="3.4" text-anchor="middle" font-weight="normal" fill="#555" stroke="#555" stroke-width="0.12" >ΚΑΛΥΨΗ ΣΩΛΗΝΩΝ ΑΠΟ</text>
<text x="477" y="228.7" font-size="3.4" text-anchor="middle" font-weight="normal" fill="#555" stroke="#555" stroke-width="0.12" >ΥΑΛΟΣΑΝΙΔΑ GLASROC X</text>
<text x="477" y="233.4" font-size="3.4" text-anchor="middle" font-weight="normal" fill="#555" stroke="#555" stroke-width="0.12" >ΝΑ ΒΑΦΕΙ ΤΟ ΛΑΡΝΑΞ ΓΚΡΙ</text>
<text x="477" y="238.1" font-size="3.4" text-anchor="middle" font-weight="normal" fill="#555" stroke="#555" stroke-width="0.12" >ΣΤΗΝ ΘΕΡΜΟΠΡΟΣΟΨΗ</text>
<text x="787" y="222.0" font-size="3.4" text-anchor="middle" font-weight="normal" fill="#555" stroke="#555" stroke-width="0.12" >ΚΑΛΥΨΗ ΣΩΛΗΝΩΝ ΑΠΟ</text>
<text x="787" y="226.7" font-size="3.4" text-anchor="middle" font-weight="normal" fill="#555" stroke="#555" stroke-width="0.12" >ΥΑΛΟΣΑΝΙΔΑ GLASROC X</text>
<text x="787" y="231.4" font-size="3.4" text-anchor="middle" font-weight="normal" fill="#555" stroke="#555" stroke-width="0.12" >ΝΑ ΒΑΦΕΙ ΤΟ ΛΑΡΝΑΞ ΓΚΡΙ</text>
<text x="787" y="236.1" font-size="3.4" text-anchor="middle" font-weight="normal" fill="#555" stroke="#555" stroke-width="0.12" >ΣΤΗΝ ΘΕΡΜΟΠΡΟΣΟΨΗ</text>
<text x="943" y="223.0" font-size="3.4" text-anchor="middle" font-weight="normal" fill="#555" stroke="#555" stroke-width="0.12" >ΚΑΛΥΨΗ ΣΩΛΗΝΩΝ ΑΠΟ</text>
<text x="943" y="227.7" font-size="3.4" text-anchor="middle" font-weight="normal" fill="#555" stroke="#555" stroke-width="0.12" >ΥΑΛΟΣΑΝΙΔΑ GLASROC X</text>
<text x="943" y="232.4" font-size="3.4" text-anchor="middle" font-weight="normal" fill="#555" stroke="#555" stroke-width="0.12" >ΝΑ ΒΑΦΕΙ ΤΟ ΛΑΡΝΑΞ ΓΚΡΙ</text>
<text x="943" y="237.1" font-size="3.4" text-anchor="middle" font-weight="normal" fill="#555" stroke="#555" stroke-width="0.12" >ΣΤΗΝ ΘΕΡΜΟΠΡΟΣΟΨΗ</text>
<line x1="329" y1="240" x2="329" y2="252" stroke="#111" stroke-width="0.6"  shape-rendering="crispEdges"/>
<polygon points="329,254 327.8,251 330.2,251" fill="#111" stroke="#111" stroke-width="0" />
<line x1="787" y1="240" x2="787" y2="252" stroke="#111" stroke-width="0.6"  shape-rendering="crispEdges"/>
<polygon points="787,254 785.8,251 788.2,251" fill="#111" stroke="#111" stroke-width="0" />
<line x1="944" y1="240" x2="944" y2="252" stroke="#111" stroke-width="0.6"  shape-rendering="crispEdges"/>
<polygon points="944,254 942.8,251 945.2,251" fill="#111" stroke="#111" stroke-width="0" />
<line x1="469" y1="240" x2="469" y2="252" stroke="#111" stroke-width="0.6"  shape-rendering="crispEdges"/>
<rect x="494" y="419" width="37" height="6.5" fill="#fff" stroke="#222" stroke-width="0.7"  shape-rendering="crispEdges"/>
<text x="512.5" y="424" font-size="3.6" text-anchor="middle" font-weight="normal" fill="#333" stroke="#333" stroke-width="0.12" >ΦΥΡΟΤΗΛΕΟΡΑΣΗ</text>
<line x1="172.6" y1="379" x2="172.6" y2="435" stroke="#111" stroke-width="0.8"  shape-rendering="crispEdges"/>
<line x1="174.8" y1="379" x2="174.8" y2="435" stroke="#111" stroke-width="0.8"  shape-rendering="crispEdges"/>
<line x1="223.7" y1="379" x2="223.7" y2="435" stroke="#111" stroke-width="0.8"  shape-rendering="crispEdges"/>
<line x1="226" y1="379" x2="226" y2="435" stroke="#111" stroke-width="0.8"  shape-rendering="crispEdges"/>
<line x1="246.4" y1="379" x2="246.4" y2="413" stroke="#444" stroke-width="0.6"  shape-rendering="crispEdges"/>
<line x1="260.3" y1="379" x2="260.3" y2="413" stroke="#444" stroke-width="0.6"  shape-rendering="crispEdges"/>
<polygon points="127.3,379.5 172.6,407.3 127.3,435" fill="none" stroke="#111" stroke-width="0.8" />
<path d="M228.9,379.5 L291.7,396.3 L225,435" fill="none" stroke="#111" stroke-width="0.8" />
<line x1="172.6" y1="383" x2="223.7" y2="383" stroke="#111" stroke-width="0.8"  shape-rendering="crispEdges"/>
<rect x="196" y="386" width="5" height="26" fill="#fff" stroke="none" stroke-width="0"  shape-rendering="crispEdges"/>
<line x1="198.5" y1="386" x2="198.5" y2="412" stroke="#000" stroke-width="1.4" stroke-dasharray="3,2" />
<rect x="196" y="412" width="5" height="24" fill="url(#wh)" stroke="#222" stroke-width="0.6"  shape-rendering="crispEdges"/>
<line x1="191.6" y1="384.6" x2="221.5" y2="396.3" stroke="#000" stroke-width="1.6" />
<path d="M221.5,396.3 A26,26 0 0 1 199.6,411.6" fill="none" stroke="#111" stroke-width="0.9" />
<text x="150" y="395.5" font-size="5.5" text-anchor="middle" font-weight="normal" fill="#444" stroke="#444" stroke-width="0.25" >ΕΙΣΟΔΟΣ</text>
<text x="152.9" y="403.5" font-size="5.5" text-anchor="middle" font-weight="normal" fill="#444" stroke="#444" stroke-width="0.25" >ΠΕΖΩΝ</text>
<text x="153.6" y="418" font-size="5.5" text-anchor="middle" font-weight="normal" fill="#444" stroke="#444" stroke-width="0.25" >ΚΛΙΣΗ 5%</text>
<rect x="179.2" y="396" width="35.0" height="7.899999999999977" rx="2" fill="#fff" stroke="#555" stroke-width="0.7"/>
<text x="196.7" y="402.65" font-size="7" text-anchor="middle" font-weight="normal" fill="#222" stroke="#222" stroke-width="0.25" >ΜΘ 0.03</text>
<text x="255.9" y="402" font-size="5.5" text-anchor="middle" font-weight="normal" fill="#444" stroke="#444" stroke-width="0.25" >ΚΛΙΣΗ 8%</text>
<text x="261.7" y="390" font-size="6.5" text-anchor="middle" font-weight="normal" fill="#444" stroke="#444" stroke-width="0.25" >+9.75</text>
<text x="247" y="413.5" font-size="6.5" text-anchor="middle" font-weight="normal" fill="#444" stroke="#444" stroke-width="0.25" >4.80</text>
<text x="180" y="411" font-size="6.5" text-anchor="middle" font-weight="normal" fill="#444" stroke="#444" stroke-width="0.25" >2.50</text>
<text x="201" y="386" font-size="5.5" text-anchor="middle" font-weight="normal" fill="#444" stroke="#444" stroke-width="0.25" >1.28</text>
<rect x="545.4" y="229.2" width="122.39999999999998" height="9.100000000000023" fill="#000" stroke="none" stroke-width="0"  shape-rendering="crispEdges"/>
<rect x="589.8" y="232.5" width="32.90000000000009" height="4.099999999999994" fill="#fff" stroke="none" stroke-width="0"  shape-rendering="crispEdges"/>
<rect x="545.4" y="229.2" width="6.399999999999977" height="122.80000000000001" fill="#000" stroke="none" stroke-width="0"  shape-rendering="crispEdges"/>
<rect x="658.6" y="229.2" width="9.199999999999932" height="68.30000000000001" fill="#000" stroke="none" stroke-width="0"  shape-rendering="crispEdges"/>
<rect x="660.5" y="297" width="7.2999999999999545" height="54.5" fill="#000" stroke="none" stroke-width="0"  shape-rendering="crispEdges"/>
<rect x="613" y="296" width="54.799999999999955" height="9.199999999999989" fill="#000" stroke="none" stroke-width="0"  shape-rendering="crispEdges"/>
<rect x="613" y="296" width="7.2999999999999545" height="55.5" fill="#000" stroke="none" stroke-width="0"  shape-rendering="crispEdges"/>
<rect x="575.8" y="298.3" width="37.200000000000045" height="5.699999999999989" fill="url(#wh)" stroke="#111" stroke-width="0.7"  shape-rendering="crispEdges"/>
<rect x="575.8" y="345.4" width="37.200000000000045" height="5.600000000000023" fill="url(#wh)" stroke="#111" stroke-width="0.7"  shape-rendering="crispEdges"/>
<rect x="581.3" y="340" width="25.600000000000023" height="4.5" fill="#000" stroke="none" stroke-width="0"  shape-rendering="crispEdges"/>
<rect x="620.3" y="344.8" width="11.5" height="6.199999999999989" fill="url(#wh)" stroke="#111" stroke-width="0.7"  shape-rendering="crispEdges"/>
<rect x="648.9" y="344.8" width="11.600000000000023" height="6.199999999999989" fill="url(#wh)" stroke="#111" stroke-width="0.7"  shape-rendering="crispEdges"/>
<rect x="629.4" y="313.7" width="22.800000000000068" height="25.600000000000023" fill="none" stroke="#444" stroke-width="1.2"  shape-rendering="crispEdges"/>
<line x1="631.8" y1="342" x2="648.9" y2="342" stroke="#444" stroke-width="1.2"  shape-rendering="crispEdges"/>
<rect x="604.4" y="305" width="2.5" height="35" fill="url(#wh)" stroke="#111" stroke-width="0.6"  shape-rendering="crispEdges"/>
<path d="M607,306 L613,323 L607,340 M613,306 L607,323 L613,340" fill="none" stroke="#111" stroke-width="0.6" />
<line x1="586.5" y1="239" x2="586.5" y2="295" stroke="#111" stroke-width="1.4" stroke-dasharray="6,1.5" />
<line x1="593.3" y1="239" x2="593.3" y2="295" stroke="#111" stroke-width="1.4" stroke-dasharray="6,1.5" />
<line x1="600.1" y1="239" x2="600.1" y2="295" stroke="#111" stroke-width="1.4" stroke-dasharray="6,1.5" />
<line x1="606.9" y1="239" x2="606.9" y2="295" stroke="#111" stroke-width="1.4" stroke-dasharray="6,1.5" />
<line x1="613.7" y1="239" x2="613.7" y2="295" stroke="#111" stroke-width="1.4" stroke-dasharray="6,1.5" />
<line x1="620.5" y1="239" x2="620.5" y2="295" stroke="#111" stroke-width="1.4" stroke-dasharray="6,1.5" />
<line x1="627.3" y1="239" x2="627.3" y2="295" stroke="#111" stroke-width="1.4" stroke-dasharray="6,1.5" />
<line x1="634.1" y1="239" x2="634.1" y2="295" stroke="#111" stroke-width="1.4" stroke-dasharray="6,1.5" />
<line x1="640.9" y1="239" x2="640.9" y2="295" stroke="#111" stroke-width="1.4" stroke-dasharray="6,1.5" />
<rect x="586" y="265.4" width="46.39999999999998" height="4.900000000000034" fill="#fff" stroke="#000" stroke-width="1.4"  shape-rendering="crispEdges"/>
<rect x="601" y="266.5" width="15" height="2.8000000000000114" fill="#666" stroke="none" stroke-width="0"  shape-rendering="crispEdges"/>
<line x1="584.5" y1="251" x2="648" y2="251" stroke="#333" stroke-width="0.7" stroke-dasharray="3,2"  shape-rendering="crispEdges"/>
<line x1="584.5" y1="284" x2="648" y2="284" stroke="#333" stroke-width="0.7" stroke-dasharray="3,2"  shape-rendering="crispEdges"/>
<line x1="598" y1="239" x2="620" y2="266" stroke="#111" stroke-width="0.9" />
<line x1="648" y1="240" x2="648" y2="284" stroke="#333" stroke-width="0.7" stroke-dasharray="3,2"  shape-rendering="crispEdges"/>
<line x1="552" y1="258.5" x2="658" y2="258.5" stroke="#111" stroke-width="0.8"  shape-rendering="crispEdges"/>
<line x1="583.7" y1="270.3" x2="571" y2="283" stroke="#111" stroke-width="1.2" />
<path d="M586,271 L592,295" fill="none" stroke="#111" stroke-width="0.8" stroke-dasharray="3,1.5"/>
<text x="571.3" y="274" font-size="7.5" text-anchor="middle" font-weight="normal" fill="#222" stroke="#222" stroke-width="0.25" >0.90</text>
<text x="641" y="276" font-size="7.5" text-anchor="middle" font-weight="normal" fill="#222" stroke="#222" stroke-width="0.25" >2.70</text>
<text x="603" y="261" font-size="7" text-anchor="middle" font-weight="normal" fill="#222" stroke="#222" stroke-width="0.25" >4.50</text>
<text x="577.6" y="312" font-size="7.5" text-anchor="middle" font-weight="normal" fill="#222" stroke="#222" stroke-width="0.25" >2.35</text>
<text x="640.4" y="312" font-size="7.5" text-anchor="middle" font-weight="normal" fill="#222" stroke="#222" stroke-width="0.25" >1.80</text>
<text x="594" y="328.3" font-size="7.5" text-anchor="middle" font-weight="normal" fill="#222" stroke="#222" stroke-width="0.25" >1.85</text>
<text x="628" y="328.3" font-size="7.5" text-anchor="middle" font-weight="normal" fill="#222" stroke="#222" stroke-width="0.25" >1.80</text>
<line x1="552" y1="309.2" x2="604" y2="309.2" stroke="#111" stroke-width="0.8"  shape-rendering="crispEdges"/>
<line x1="620.3" y1="309.2" x2="660.5" y2="309.2" stroke="#111" stroke-width="0.8"  shape-rendering="crispEdges"/>
<polygon points="552,309.2 555,308.0 555,310.4" fill="#111" stroke="#111" stroke-width="0" />
<polygon points="604,309.2 601,308.0 601,310.4" fill="#111" stroke="#111" stroke-width="0" />
<polygon points="620.3,309.2 623.3,308.0 623.3,310.4" fill="#111" stroke="#111" stroke-width="0" />
<polygon points="660.5,309.2 657.5,308.0 657.5,310.4" fill="#111" stroke="#111" stroke-width="0" />
<rect x="567" y="305" width="22" height="8.5" fill="#fff" stroke="none" stroke-width="0"  shape-rendering="crispEdges"/>
<text x="577.6" y="312" font-size="7.5" text-anchor="middle" font-weight="normal" fill="#222" stroke="#222" stroke-width="0.25" >2.35</text>
<rect x="631" y="305" width="19" height="8.5" fill="#fff" stroke="none" stroke-width="0"  shape-rendering="crispEdges"/>
<text x="640.4" y="312" font-size="7.5" text-anchor="middle" font-weight="normal" fill="#222" stroke="#222" stroke-width="0.25" >1.80</text>
<line x1="594" y1="305" x2="594" y2="340" stroke="#111" stroke-width="0.8"  shape-rendering="crispEdges"/>
<rect x="586" y="321" width="16" height="9" fill="#fff" stroke="none" stroke-width="0"  shape-rendering="crispEdges"/>
<text x="594" y="328.3" font-size="7.5" text-anchor="middle" font-weight="normal" fill="#222" stroke="#222" stroke-width="0.25" >1.85</text>
<path d="M554.5,300.7 L554.5,277 A22,22 0 0 1 575.8,300" fill="none" stroke="#111" stroke-width="0.8" />
<path d="M554.5,350.3 L554.5,324.7 A22,24 0 0 1 575.8,350" fill="none" stroke="#111" stroke-width="0.8" />
<path d="M670.8,347 L670.8,324.7 A22,22 0 0 1 693,347" fill="none" stroke="#111" stroke-width="0.8" />
<rect x="589.6" y="218.3" width="34.10000000000002" height="8.699999999999989" rx="2" fill="#fff" stroke="#555" stroke-width="0.7"/>
<text x="606.6500000000001" y="225.35" font-size="8" text-anchor="middle" font-weight="normal" fill="#222" stroke="#222" stroke-width="0.25" >Π 1.00</text>
<rect x="551.4" y="288.6" width="33.30000000000007" height="9.099999999999966" rx="2" fill="#fff" stroke="#555" stroke-width="0.7"/>
<text x="568.05" y="295.84999999999997" font-size="7.5" text-anchor="middle" font-weight="normal" fill="#222" stroke="#222" stroke-width="0.25" >Θ 0.01</text>
<rect x="552" y="352.7" width="33" height="8.600000000000023" rx="2" fill="#fff" stroke="#555" stroke-width="0.7"/>
<text x="568.5" y="359.7" font-size="7.5" text-anchor="middle" font-weight="normal" fill="#222" stroke="#222" stroke-width="0.25" >Θ 0.02</text>
<rect x="534" y="389.5" width="32" height="8.5" rx="2" fill="#fff" stroke="#555" stroke-width="0.7"/>
<text x="550.0" y="396.45" font-size="7.5" text-anchor="middle" font-weight="normal" fill="#222" stroke="#222" stroke-width="0.25" >ΕΘ 0.01</text>
<rect x="571" y="397" width="33.5" height="8" rx="2" fill="#fff" stroke="#555" stroke-width="0.7"/>
<text x="587.75" y="403.7" font-size="7.5" text-anchor="middle" font-weight="normal" fill="#222" stroke="#222" stroke-width="0.25" >ΕΘ 0.02</text>
<rect x="672.5" y="335" width="31.5" height="9" rx="2" fill="#fff" stroke="#555" stroke-width="0.7"/>
<text x="688.25" y="342.2" font-size="7.5" text-anchor="middle" font-weight="normal" fill="#222" stroke="#222" stroke-width="0.25" >ΕΘ 0.03</text>
<rect x="545.4" y="358" width="5.399999999999977" height="27" fill="url(#wh)" stroke="#111" stroke-width="0.6"  shape-rendering="crispEdges"/>
<rect x="630.2" y="352" width="20.5" height="14.699999999999989" fill="#000" stroke="none" stroke-width="0"  shape-rendering="crispEdges"/>
<line x1="630.2" y1="354.5" x2="650.7" y2="354.5" stroke="#777" stroke-width="0.4"  shape-rendering="crispEdges"/>
<line x1="630.2" y1="357.1" x2="650.7" y2="357.1" stroke="#777" stroke-width="0.4"  shape-rendering="crispEdges"/>
<line x1="630.2" y1="359.7" x2="650.7" y2="359.7" stroke="#777" stroke-width="0.4"  shape-rendering="crispEdges"/>
<line x1="630.2" y1="362.3" x2="650.7" y2="362.3" stroke="#777" stroke-width="0.4"  shape-rendering="crispEdges"/>
<line x1="630.2" y1="364.9" x2="650.7" y2="364.9" stroke="#777" stroke-width="0.4"  shape-rendering="crispEdges"/>
<line x1="551" y1="357" x2="711" y2="357" stroke="#111" stroke-width="0.8" stroke-dasharray="20,3,2,3"  shape-rendering="crispEdges"/>
<line x1="551" y1="373.4" x2="711" y2="373.4" stroke="#111" stroke-width="0.8"  shape-rendering="crispEdges"/>
<polygon points="551,373.4 555,372.2 555,374.59999999999997" fill="#111" stroke="#111" stroke-width="0" />
<polygon points="711,373.4 707,372.2 707,374.59999999999997" fill="#111" stroke="#111" stroke-width="0" />
<rect x="622.8" y="370.4" width="18.0" height="6.0" fill="#fff" stroke="none" stroke-width="0"  shape-rendering="crispEdges"/>
<text x="631.8" y="376.09999999999997" font-size="7.5" text-anchor="middle" font-weight="normal" fill="#222" stroke="#222" stroke-width="0.25" >7.10</text>
<line x1="572.8" y1="358" x2="572.8" y2="407" stroke="#111" stroke-width="0.8"  shape-rendering="crispEdges"/>
<text x="572" y="383.3" font-size="7.5" text-anchor="middle" font-weight="normal" fill="#222" stroke="#222" stroke-width="0.25" >2.48</text>
<text x="630" y="393" font-size="5" text-anchor="middle" font-weight="normal" fill="#333" stroke="#333" stroke-width="0.25" >LOBBY</text>
<line x1="668" y1="351" x2="711" y2="351" stroke="#111" stroke-width="0.8"  shape-rendering="crispEdges"/>
<line x1="668" y1="346" x2="711" y2="346" stroke="#111" stroke-width="0.8"  shape-rendering="crispEdges"/>
<rect x="683" y="346" width="28" height="5" fill="url(#wh)" stroke="#111" stroke-width="0.7"  shape-rendering="crispEdges"/>
<path d="M552,385 A18,18 0 0 0 534,403" fill="none" stroke="#111" stroke-width="0.8" />
<line x1="534" y1="403" x2="552" y2="403" stroke="#111" stroke-width="0.8"  shape-rendering="crispEdges"/>
<rect x="552" y="407.4" width="26.600000000000023" height="5.600000000000023" fill="#fff" stroke="#111" stroke-width="1.2"  shape-rendering="crispEdges"/>
<rect x="600" y="407.4" width="57.60000000000002" height="5.600000000000023" fill="#fff" stroke="#111" stroke-width="1.2"  shape-rendering="crispEdges"/>
<path d="M578.6,413 L578.6,435 A22,22 0 0 0 600,414" fill="none" stroke="#111" stroke-width="0.9" />
<rect x="545.5" y="413.5" width="5.5" height="326.5" fill="url(#wh)" stroke="#111" stroke-width="0.7"  shape-rendering="crispEdges"/>
<rect x="546" y="449" width="4" height="23.5" fill="#000" stroke="none" stroke-width="0"  shape-rendering="crispEdges"/>
<rect x="545.5" y="519" width="9.5" height="35.5" fill="#000" stroke="none" stroke-width="0"  shape-rendering="crispEdges"/>
<rect x="693" y="345.3" width="19" height="5.899999999999977" fill="url(#wh)" stroke="#111" stroke-width="0.7"  shape-rendering="crispEdges"/>
<rect x="739" y="349.7" width="16.700000000000045" height="6.600000000000023" fill="url(#wh)" stroke="#111" stroke-width="0.7"  shape-rendering="crispEdges"/>
<rect x="774" y="349.7" width="19.700000000000045" height="7.100000000000023" fill="#000" stroke="none" stroke-width="0"  shape-rendering="crispEdges"/>
<rect x="812" y="350" width="29.399999999999977" height="5" fill="url(#wh)" stroke="#111" stroke-width="0.7"  shape-rendering="crispEdges"/>
<rect x="862.6" y="350" width="20.399999999999977" height="5" fill="url(#wh)" stroke="#111" stroke-width="0.7"  shape-rendering="crispEdges"/>
<rect x="903.5" y="350" width="10.200000000000045" height="5" fill="url(#wh)" stroke="#111" stroke-width="0.7"  shape-rendering="crispEdges"/>
<rect x="932" y="350" width="29.200000000000045" height="5" fill="url(#wh)" stroke="#111" stroke-width="0.7"  shape-rendering="crispEdges"/>
<rect x="712" y="341" width="5.2000000000000455" height="16.80000000000001" fill="#000" stroke="none" stroke-width="0"  shape-rendering="crispEdges"/>
<rect x="913.7" y="349.5" width="18.299999999999955" height="8.0" fill="#000" stroke="none" stroke-width="0"  shape-rendering="crispEdges"/>
<rect x="712" y="357" width="5.7000000000000455" height="93" fill="url(#wh)" stroke="#111" stroke-width="0.7"  shape-rendering="crispEdges"/>
<rect x="709" y="450" width="8.600000000000023" height="21" fill="#000" stroke="none" stroke-width="0"  shape-rendering="crispEdges"/>
<rect x="711.9" y="471" width="5.7000000000000455" height="48.5" fill="url(#wh)" stroke="#111" stroke-width="0.7"  shape-rendering="crispEdges"/>
<rect x="709" y="519.5" width="8.600000000000023" height="34.5" fill="#000" stroke="none" stroke-width="0"  shape-rendering="crispEdges"/>
<rect x="660" y="407.4" width="161.5" height="5.900000000000034" fill="url(#wh)" stroke="#111" stroke-width="0.7"  shape-rendering="crispEdges"/>
<rect x="816.5" y="355" width="5.100000000000023" height="73.5" fill="url(#wh)" stroke="#111" stroke-width="0.7"  shape-rendering="crispEdges"/>
<rect x="743.5" y="357" width="3.0" height="50.39999999999998" fill="url(#wh)" stroke="#111" stroke-width="0.7"  shape-rendering="crispEdges"/>
<rect x="784.5" y="357" width="3.0" height="50.39999999999998" fill="url(#wh)" stroke="#111" stroke-width="0.7"  shape-rendering="crispEdges"/>
<rect x="863.5" y="355" width="4.5" height="70.5" fill="url(#wh)" stroke="#111" stroke-width="0.7"  shape-rendering="crispEdges"/>
<rect x="911" y="355" width="3.5" height="70.5" fill="url(#wh)" stroke="#111" stroke-width="0.7"  shape-rendering="crispEdges"/>
<rect x="957.6" y="350" width="3.6000000000000227" height="13.399999999999977" fill="url(#wh)" stroke="#111" stroke-width="0.7"  shape-rendering="crispEdges"/>
<rect x="957.6" y="383.8" width="3.6000000000000227" height="14.599999999999966" fill="url(#wh)" stroke="#111" stroke-width="0.7"  shape-rendering="crispEdges"/>
<rect x="957.6" y="419" width="3.6000000000000227" height="10" fill="url(#wh)" stroke="#111" stroke-width="0.7"  shape-rendering="crispEdges"/>
<rect x="940" y="383.8" width="18" height="2.6999999999999886" fill="url(#wh)" stroke="#111" stroke-width="0.7"  shape-rendering="crispEdges"/>
<rect x="821.6" y="388.2" width="139.60000000000002" height="3.1999999999999886" fill="url(#wh)" stroke="#111" stroke-width="0.7"  shape-rendering="crispEdges"/>
<rect x="816.5" y="425.5" width="26.5" height="3.5" fill="url(#wh)" stroke="#111" stroke-width="0.7"  shape-rendering="crispEdges"/>
<rect x="862.6" y="425.5" width="20.399999999999977" height="3.5" fill="url(#wh)" stroke="#111" stroke-width="0.7"  shape-rendering="crispEdges"/>
<rect x="904" y="425.5" width="57.200000000000045" height="3.5" fill="url(#wh)" stroke="#111" stroke-width="0.7"  shape-rendering="crispEdges"/>
<line x1="840" y1="436" x2="955" y2="436" stroke="#555" stroke-width="0.6"  shape-rendering="crispEdges"/>
<line x1="840" y1="437.5" x2="955" y2="437.5" stroke="#555" stroke-width="0.6"  shape-rendering="crispEdges"/>
<rect x="717.6" y="468.7" width="58.39999999999998" height="5.5" fill="url(#wh)" stroke="#111" stroke-width="0.7"  shape-rendering="crispEdges"/>
<rect x="770.6" y="474" width="6.100000000000023" height="45.5" fill="url(#wh)" stroke="#111" stroke-width="0.7"  shape-rendering="crispEdges"/>
<rect x="658" y="407.8" width="6.600000000000023" height="80.19999999999999" fill="url(#wh)" stroke="#111" stroke-width="0.7"  shape-rendering="crispEdges"/>
<rect x="658" y="482" width="31" height="6" fill="url(#wh)" stroke="#111" stroke-width="0.7"  shape-rendering="crispEdges"/>
<rect x="773.6" y="457" width="21.399999999999977" height="7.399999999999977" fill="#000" stroke="none" stroke-width="0"  shape-rendering="crispEdges"/>
<rect x="902" y="456" width="24" height="10" fill="#000" stroke="none" stroke-width="0"  shape-rendering="crispEdges"/>
<rect x="795" y="457" width="17" height="3" fill="url(#wh)" stroke="#111" stroke-width="0.7"  shape-rendering="crispEdges"/>
<rect x="823" y="457" width="15" height="3" fill="url(#wh)" stroke="#111" stroke-width="0.7"  shape-rendering="crispEdges"/>
<rect x="855" y="457" width="21" height="3" fill="url(#wh)" stroke="#111" stroke-width="0.7"  shape-rendering="crispEdges"/>
<rect x="926" y="457" width="35.5" height="3" fill="url(#wh)" stroke="#111" stroke-width="0.7"  shape-rendering="crispEdges"/>
<rect x="823" y="458" width="2.5" height="61.5" fill="url(#wh)" stroke="#111" stroke-width="0.7"  shape-rendering="crispEdges"/>
<rect x="861" y="458" width="3.5" height="61.5" fill="url(#wh)" stroke="#111" stroke-width="0.7"  shape-rendering="crispEdges"/>
<rect x="899.5" y="458" width="3.0" height="61.5" fill="url(#wh)" stroke="#111" stroke-width="0.7"  shape-rendering="crispEdges"/>
<rect x="958" y="458" width="3.5" height="12" fill="url(#wh)" stroke="#111" stroke-width="0.7"  shape-rendering="crispEdges"/>
<rect x="958" y="479" width="3.5" height="20" fill="url(#wh)" stroke="#111" stroke-width="0.7"  shape-rendering="crispEdges"/>
<rect x="958" y="508" width="3.5" height="11.5" fill="url(#wh)" stroke="#111" stroke-width="0.7"  shape-rendering="crispEdges"/>
<rect x="902.5" y="484" width="55.5" height="2.5" fill="url(#wh)" stroke="#111" stroke-width="0.7"  shape-rendering="crispEdges"/>
<rect x="902.5" y="488.5" width="55.5" height="2.5" fill="url(#wh)" stroke="#111" stroke-width="0.7"  shape-rendering="crispEdges"/>
<rect x="658" y="519.5" width="386" height="4.5" fill="url(#wh)" stroke="#111" stroke-width="0.7"  shape-rendering="crispEdges"/>
<line x1="1044" y1="523" x2="1106.5" y2="523" stroke="#111" stroke-width="1.0"  shape-rendering="crispEdges"/>
<rect x="775.5" y="413.3" width="14.5" height="21.30000000000001" fill="#000" stroke="none" stroke-width="0"  shape-rendering="crispEdges"/>
<rect x="778" y="417" width="6" height="7" fill="#fff" stroke="none" stroke-width="0"  shape-rendering="crispEdges"/>
<rect x="783" y="427" width="5" height="5" fill="#999" stroke="none" stroke-width="0"  shape-rendering="crispEdges"/>
<rect x="795" y="414" width="22.5" height="12" fill="#222" stroke="none" stroke-width="0"  shape-rendering="crispEdges"/>
<rect x="798" y="416" width="8" height="7" fill="#fff" stroke="none" stroke-width="0"  shape-rendering="crispEdges"/>
<rect x="808" y="416" width="7" height="7" fill="#bbb" stroke="none" stroke-width="0"  shape-rendering="crispEdges"/>
<rect x="683.5" y="414" width="8.5" height="36" fill="none" stroke="#000" stroke-width="1.6"  shape-rendering="crispEdges"/>
<rect x="672.5" y="414" width="8.0" height="15" fill="#888" stroke="#222" stroke-width="0.8"  shape-rendering="crispEdges"/>
<rect x="695" y="415" width="7" height="6" fill="#555" stroke="none" stroke-width="0"  shape-rendering="crispEdges"/>
<rect x="665" y="476" width="7" height="6" fill="none" stroke="#111" stroke-width="0.8"  shape-rendering="crispEdges"/>
<rect x="731" y="474" width="17" height="10" fill="none" stroke="#111" stroke-width="0.8"  shape-rendering="crispEdges"/>
<ellipse cx="764" cy="484" rx="6" ry="4.2" fill="#fff" stroke="#222" stroke-width="1"/>
<rect x="770" y="479" width="3" height="10" fill="none" stroke="#111" stroke-width="0.8"  shape-rendering="crispEdges"/>
<path d="M739.6,356 L739.6,371.6 A17,17 0 0 1 720.6,356" fill="none" stroke="#111" stroke-width="0.8" />
<path d="M772.5,356 L772.5,371.6 A16.5,16.5 0 0 1 755.7,356" fill="none" stroke="#111" stroke-width="0.8" />
<path d="M811.2,356 L811.2,372.4 A17,17 0 0 1 793.7,356" fill="none" stroke="#111" stroke-width="0.8" />
<path d="M862.6,354 L862.6,373 A20,20 0 0 1 841.4,354" fill="none" stroke="#111" stroke-width="0.8" />
<path d="M903.5,354 L903.5,373 A20,20 0 0 1 883,354" fill="none" stroke="#111" stroke-width="0.8" />
<path d="M958,383.8 L937.8,383.8 A20,20 0 0 1 958,363.4" fill="none" stroke="#111" stroke-width="0.8" />
<path d="M958,419 L937.8,419 A20.5,20.5 0 0 1 958,398.4" fill="none" stroke="#111" stroke-width="0.8" />
<path d="M862.6,426.2 L862.6,405.7 A20,20 0 0 0 842.9,426" fill="none" stroke="#111" stroke-width="0.8" />
<path d="M904.2,426.2 L904.2,405.7 A20.5,20.5 0 0 0 883,426" fill="none" stroke="#111" stroke-width="0.8" />
<path d="M796,460 L796,480 A20,20 0 0 0 818,460" fill="none" stroke="#111" stroke-width="0.8" />
<path d="M838,460 L838,480 A20,20 0 0 0 856,460" fill="none" stroke="#111" stroke-width="0.8" />
<path d="M876,460 L876,480 A20,20 0 0 0 898,460" fill="none" stroke="#111" stroke-width="0.8" />
<path d="M958,479 L944,479 A14,14 0 0 1 958,466" fill="none" stroke="#111" stroke-width="0.8" />
<path d="M958,508 L942,508 A15,15 0 0 1 958,494" fill="none" stroke="#111" stroke-width="0.8" />
<path d="M774.7,432.4 L752.8,432.4 A22,22 0 0 0 772,455" fill="none" stroke="#111" stroke-width="0.8" />
<path d="M689,486 L689,506 A22,22 0 0 1 711,510" fill="none" stroke="#111" stroke-width="0.8" />
<path d="M664,450 L664,428 A24,24 0 0 1 690,450" fill="none" stroke="#111" stroke-width="0.8" />
<path d="M717,505 L741,505 A24,24 0 0 0 717,482" fill="none" stroke="#111" stroke-width="0.8" />
<polygon points="562.5,185.5 572.5,194.5 562.5,203.5" fill="#000" stroke="#111" stroke-width="0" />
<circle cx="562.5" cy="194.5" r="6.3" fill="#fff" stroke="#111" stroke-width="0.8"/>
<line x1="556.5" y1="194.5" x2="568.5" y2="194.5" stroke="#111" stroke-width="0.6"  shape-rendering="crispEdges"/>
<text x="562.5" y="193.5" font-size="4" text-anchor="middle" font-weight="normal" fill="#222" stroke="#222" stroke-width="0.12" >B</text>
<text x="562.5" y="199.0" font-size="4" text-anchor="middle" font-weight="normal" fill="#222" stroke="#222" stroke-width="0.12" >110</text>
<line x1="562.5" y1="201" x2="562.5" y2="262" stroke="#111" stroke-width="0.7"  shape-rendering="crispEdges"/>
<polygon points="951.2,441.4 961.2,430.4 971.2,441.4" fill="#000" stroke="#111" stroke-width="0" />
<circle cx="961.2" cy="439.4" r="6.3" fill="#fff" stroke="#111" stroke-width="0.8"/>
<line x1="955.2" y1="439.4" x2="967.2" y2="439.4" stroke="#111" stroke-width="0.6"  shape-rendering="crispEdges"/>
<text x="961.2" y="438.4" font-size="4" text-anchor="middle" font-weight="normal" fill="#222" stroke="#222" stroke-width="0.12" >B</text>
<text x="961.2" y="443.9" font-size="4" text-anchor="middle" font-weight="normal" fill="#222" stroke="#222" stroke-width="0.12" >110</text>
<polygon points="569,617 579,626 569,635" fill="#000" stroke="#111" stroke-width="0" />
<circle cx="569" cy="626" r="6.3" fill="#fff" stroke="#111" stroke-width="0.8"/>
<line x1="563" y1="626" x2="575" y2="626" stroke="#111" stroke-width="0.6"  shape-rendering="crispEdges"/>
<text x="569" y="625" font-size="4" text-anchor="middle" font-weight="normal" fill="#222" stroke="#222" stroke-width="0.12" ></text>
<text x="569" y="630.5" font-size="4" text-anchor="middle" font-weight="normal" fill="#222" stroke="#222" stroke-width="0.12" ></text>
<rect x="716" y="341" width="31" height="8.5" rx="2" fill="#fff" stroke="#555" stroke-width="0.7"/>
<text x="731.5" y="347.95" font-size="7.3" text-anchor="middle" font-weight="normal" fill="#222" stroke="#222" stroke-width="0.25" >ΕΘ 0.04</text>
<rect x="751" y="341" width="31.5" height="8.5" rx="2" fill="#fff" stroke="#555" stroke-width="0.7"/>
<text x="766.75" y="347.95" font-size="7.3" text-anchor="middle" font-weight="normal" fill="#222" stroke="#222" stroke-width="0.25" >ΕΘ 0.05</text>
<rect x="787" y="340" width="33" height="9" rx="2" fill="#fff" stroke="#555" stroke-width="0.7"/>
<text x="803.5" y="347.2" font-size="7.3" text-anchor="middle" font-weight="normal" fill="#222" stroke="#222" stroke-width="0.25" >ΕΘ 0.06</text>
<rect x="836" y="339" width="34" height="8.5" rx="2" fill="#fff" stroke="#555" stroke-width="0.7"/>
<text x="853.0" y="345.95" font-size="7.3" text-anchor="middle" font-weight="normal" fill="#222" stroke="#222" stroke-width="0.25" >ΕΘ 0.07</text>
<rect x="879.5" y="340" width="34.5" height="9" rx="2" fill="#fff" stroke="#555" stroke-width="0.7"/>
<text x="896.75" y="347.2" font-size="7.3" text-anchor="middle" font-weight="normal" fill="#222" stroke="#222" stroke-width="0.25" >ΕΘ 0.08</text>
<rect x="955" y="369" width="33.5" height="8" rx="2" fill="#fff" stroke="#555" stroke-width="0.7"/>
<text x="971.75" y="375.7" font-size="7.3" text-anchor="middle" font-weight="normal" fill="#222" stroke="#222" stroke-width="0.25" >ΕΘ 0.09</text>
<rect x="955" y="409" width="33.5" height="8" rx="2" fill="#fff" stroke="#555" stroke-width="0.7"/>
<text x="971.75" y="415.7" font-size="7.3" text-anchor="middle" font-weight="normal" fill="#222" stroke="#222" stroke-width="0.25" >ΕΘ 0.10</text>
<rect x="955" y="471" width="33.5" height="8.5" rx="2" fill="#fff" stroke="#555" stroke-width="0.7"/>
<text x="971.75" y="477.95" font-size="7.3" text-anchor="middle" font-weight="normal" fill="#222" stroke="#222" stroke-width="0.25" >ΕΘ 0.11</text>
<rect x="955" y="499.5" width="33.5" height="8.5" rx="2" fill="#fff" stroke="#555" stroke-width="0.7"/>
<text x="971.75" y="506.45" font-size="7.3" text-anchor="middle" font-weight="normal" fill="#222" stroke="#222" stroke-width="0.25" >ΕΘ 0.12</text>
<rect x="875" y="446" width="32.5" height="8.5" rx="2" fill="#fff" stroke="#555" stroke-width="0.7"/>
<text x="891.25" y="452.95" font-size="7.3" text-anchor="middle" font-weight="normal" fill="#222" stroke="#222" stroke-width="0.25" >ΕΘ 0.13</text>
<rect x="831" y="447" width="34" height="8.5" rx="2" fill="#fff" stroke="#555" stroke-width="0.7"/>
<text x="848.0" y="453.95" font-size="7.3" text-anchor="middle" font-weight="normal" fill="#222" stroke="#222" stroke-width="0.25" >ΕΘ 0.14</text>
<rect x="790" y="446" width="34" height="8.5" rx="2" fill="#fff" stroke="#555" stroke-width="0.7"/>
<text x="807.0" y="452.95" font-size="7.3" text-anchor="middle" font-weight="normal" fill="#222" stroke="#222" stroke-width="0.25" >ΕΘ 0.15</text>
<rect x="699" y="504" width="32" height="8.5" rx="2" fill="#fff" stroke="#555" stroke-width="0.7"/>
<text x="715.0" y="510.95" font-size="7.3" text-anchor="middle" font-weight="normal" fill="#222" stroke="#222" stroke-width="0.25" >ΕΘ 0.16</text>
<rect x="685" y="479" width="29" height="8" rx="2" fill="#fff" stroke="#555" stroke-width="0.7"/>
<text x="699.5" y="485.7" font-size="7.3" text-anchor="middle" font-weight="normal" fill="#222" stroke="#222" stroke-width="0.25" >ΕΘ 0.17</text>
<rect x="745" y="437.5" width="34" height="8.5" rx="2" fill="#fff" stroke="#555" stroke-width="0.7"/>
<text x="762.0" y="444.45" font-size="7.3" text-anchor="middle" font-weight="normal" fill="#222" stroke="#222" stroke-width="0.25" >ΕΘ 0.18</text>
<rect x="829" y="429.5" width="32" height="8.0" rx="2" fill="#fff" stroke="#555" stroke-width="0.7"/>
<text x="845.0" y="436.2" font-size="7.3" text-anchor="middle" font-weight="normal" fill="#222" stroke="#222" stroke-width="0.25" >ΕΘ 0.19</text>
<rect x="880" y="429" width="32.5" height="8" rx="2" fill="#fff" stroke="#555" stroke-width="0.7"/>
<text x="896.25" y="435.7" font-size="7.3" text-anchor="middle" font-weight="normal" fill="#222" stroke="#222" stroke-width="0.25" >ΕΘ 0.20</text>
<rect x="663" y="445" width="27" height="8" rx="2" fill="#fff" stroke="#555" stroke-width="0.7"/>
<text x="676.5" y="451.7" font-size="7.3" text-anchor="middle" font-weight="normal" fill="#222" stroke="#222" stroke-width="0.25" >Θ 0.03</text>
<rect x="686" y="432" width="26" height="8" rx="2" fill="#fff" stroke="#555" stroke-width="0.7"/>
<text x="699.0" y="438.7" font-size="7.3" text-anchor="middle" font-weight="normal" fill="#222" stroke="#222" stroke-width="0.25" >Θ 0.04</text>
<rect x="569" y="656" width="33.5" height="8.5" rx="2" fill="#ddd" stroke="#555" stroke-width="0.7"/>
<text x="585.75" y="662.95" font-size="7" text-anchor="middle" font-weight="normal" fill="#222" stroke="#222" stroke-width="0.25" >ΕΘ 0.20</text>
<rect x="569" y="697" width="33.5" height="9" rx="2" fill="#ddd" stroke="#555" stroke-width="0.7"/>
<text x="585.75" y="704.2" font-size="7" text-anchor="middle" font-weight="normal" fill="#222" stroke="#222" stroke-width="0.25" >ΕΘ 0.21</text>
<line x1="723" y1="395" x2="741" y2="395" stroke="#111" stroke-width="0.8"  shape-rendering="crispEdges"/>
<polygon points="723,395 726,393.8 726,396.2" fill="#111" stroke="#111" stroke-width="0" />
<polygon points="741,395 738,393.8 738,396.2" fill="#111" stroke="#111" stroke-width="0" />
<line x1="749" y1="395" x2="783" y2="395" stroke="#111" stroke-width="0.8"  shape-rendering="crispEdges"/>
<polygon points="749,395 752,393.8 752,396.2" fill="#111" stroke="#111" stroke-width="0" />
<polygon points="783,395 780,393.8 780,396.2" fill="#111" stroke="#111" stroke-width="0" />
<line x1="788" y1="395" x2="816" y2="395" stroke="#111" stroke-width="0.8"  shape-rendering="crispEdges"/>
<polygon points="788,395 791,393.8 791,396.2" fill="#111" stroke="#111" stroke-width="0" />
<polygon points="816,395 813,393.8 813,396.2" fill="#111" stroke="#111" stroke-width="0" />
<line x1="822" y1="363" x2="863" y2="363" stroke="#111" stroke-width="0.8"  shape-rendering="crispEdges"/>
<polygon points="822,363 825,361.8 825,364.2" fill="#111" stroke="#111" stroke-width="0" />
<polygon points="863,363 860,361.8 860,364.2" fill="#111" stroke="#111" stroke-width="0" />
<line x1="867" y1="363" x2="911" y2="363" stroke="#111" stroke-width="0.8"  shape-rendering="crispEdges"/>
<polygon points="867,363 870,361.8 870,364.2" fill="#111" stroke="#111" stroke-width="0" />
<polygon points="911,363 908,361.8 908,364.2" fill="#111" stroke="#111" stroke-width="0" />
<line x1="915" y1="363" x2="957" y2="363" stroke="#111" stroke-width="0.8"  shape-rendering="crispEdges"/>
<polygon points="915,363 918,361.8 918,364.2" fill="#111" stroke="#111" stroke-width="0" />
<polygon points="957,363 954,361.8 954,364.2" fill="#111" stroke="#111" stroke-width="0" />
<line x1="822" y1="416.3" x2="863" y2="416.3" stroke="#111" stroke-width="0.8"  shape-rendering="crispEdges"/>
<polygon points="822,416.3 825,415.1 825,417.5" fill="#111" stroke="#111" stroke-width="0" />
<polygon points="863,416.3 860,415.1 860,417.5" fill="#111" stroke="#111" stroke-width="0" />
<line x1="867" y1="416.3" x2="911" y2="416.3" stroke="#111" stroke-width="0.8"  shape-rendering="crispEdges"/>
<polygon points="867,416.3 870,415.1 870,417.5" fill="#111" stroke="#111" stroke-width="0" />
<polygon points="911,416.3 908,415.1 908,417.5" fill="#111" stroke="#111" stroke-width="0" />
<line x1="718" y1="422.5" x2="770" y2="422.5" stroke="#111" stroke-width="0.8"  shape-rendering="crispEdges"/>
<polygon points="718,422.5 721,421.3 721,423.7" fill="#111" stroke="#111" stroke-width="0" />
<polygon points="770,422.5 767,421.3 767,423.7" fill="#111" stroke="#111" stroke-width="0" />
<line x1="665" y1="472.5" x2="710" y2="472.5" stroke="#111" stroke-width="0.8"  shape-rendering="crispEdges"/>
<polygon points="665,472.5 668,471.3 668,473.7" fill="#111" stroke="#111" stroke-width="0" />
<polygon points="710,472.5 707,471.3 707,473.7" fill="#111" stroke="#111" stroke-width="0" />
<line x1="777" y1="489" x2="822" y2="489" stroke="#111" stroke-width="0.8"  shape-rendering="crispEdges"/>
<polygon points="777,489 780,487.8 780,490.2" fill="#111" stroke="#111" stroke-width="0" />
<polygon points="822,489 819,487.8 819,490.2" fill="#111" stroke="#111" stroke-width="0" />
<line x1="826" y1="480.5" x2="860" y2="480.5" stroke="#111" stroke-width="0.8"  shape-rendering="crispEdges"/>
<polygon points="826,480.5 829,479.3 829,481.7" fill="#111" stroke="#111" stroke-width="0" />
<polygon points="860,480.5 857,479.3 857,481.7" fill="#111" stroke="#111" stroke-width="0" />
<line x1="866" y1="480.5" x2="898" y2="480.5" stroke="#111" stroke-width="0.8"  shape-rendering="crispEdges"/>
<polygon points="866,480.5 869,479.3 869,481.7" fill="#111" stroke="#111" stroke-width="0" />
<polygon points="898,480.5 895,479.3 895,481.7" fill="#111" stroke="#111" stroke-width="0" />
<line x1="718" y1="493" x2="770" y2="493" stroke="#111" stroke-width="0.8"  shape-rendering="crispEdges"/>
<polygon points="718,493 721,491.8 721,494.2" fill="#111" stroke="#111" stroke-width="0" />
<polygon points="770,493 767,491.8 767,494.2" fill="#111" stroke="#111" stroke-width="0" />
<line x1="740" y1="357" x2="740" y2="407" stroke="#111" stroke-width="0.8"  shape-rendering="crispEdges"/>
<line x1="777.5" y1="357" x2="777.5" y2="407" stroke="#111" stroke-width="0.8"  shape-rendering="crispEdges"/>
<line x1="799" y1="357" x2="799" y2="407" stroke="#111" stroke-width="0.8"  shape-rendering="crispEdges"/>
<line x1="828" y1="357" x2="828" y2="389" stroke="#111" stroke-width="0.8"  shape-rendering="crispEdges"/>
<line x1="877" y1="357" x2="877" y2="389" stroke="#111" stroke-width="0.8"  shape-rendering="crispEdges"/>
<line x1="922" y1="392" x2="922" y2="434" stroke="#111" stroke-width="0.8"  shape-rendering="crispEdges"/>
<line x1="732.5" y1="414" x2="732.5" y2="468" stroke="#111" stroke-width="0.8"  shape-rendering="crispEdges"/>
<line x1="784" y1="460" x2="784" y2="519" stroke="#111" stroke-width="0.8"  shape-rendering="crispEdges"/>
<line x1="833" y1="460" x2="833" y2="519" stroke="#111" stroke-width="0.8"  shape-rendering="crispEdges"/>
<line x1="872.5" y1="460" x2="872.5" y2="519" stroke="#111" stroke-width="0.8"  shape-rendering="crispEdges"/>
<line x1="679" y1="488" x2="679" y2="519" stroke="#111" stroke-width="0.8"  shape-rendering="crispEdges"/>
<line x1="920" y1="491" x2="920" y2="519" stroke="#111" stroke-width="0.8"  shape-rendering="crispEdges"/>
<rect x="732.7" y="379.9" width="14.599999999999909" height="5.400000000000034" fill="#fff" stroke="none" stroke-width="0"  shape-rendering="crispEdges"/>
<text x="740" y="385.1" font-size="7.3" text-anchor="middle" font-weight="normal" fill="#222" stroke="#222" stroke-width="0.25" >2.30</text>
<rect x="770.2" y="379.4" width="14.599999999999909" height="5.400000000000034" fill="#fff" stroke="none" stroke-width="0"  shape-rendering="crispEdges"/>
<text x="777.5" y="384.6" font-size="7.3" text-anchor="middle" font-weight="normal" fill="#222" stroke="#222" stroke-width="0.25" >2.25</text>
<rect x="791.7" y="379.4" width="14.599999999999909" height="5.400000000000034" fill="#fff" stroke="none" stroke-width="0"  shape-rendering="crispEdges"/>
<text x="799" y="384.6" font-size="7.3" text-anchor="middle" font-weight="normal" fill="#222" stroke="#222" stroke-width="0.25" >2.30</text>
<rect x="723.7" y="392.4" width="14.599999999999909" height="5.400000000000034" fill="#fff" stroke="none" stroke-width="0"  shape-rendering="crispEdges"/>
<text x="731" y="397.6" font-size="7.3" text-anchor="middle" font-weight="normal" fill="#222" stroke="#222" stroke-width="0.25" >1.25</text>
<rect x="759.7" y="392.4" width="14.599999999999909" height="5.400000000000034" fill="#fff" stroke="none" stroke-width="0"  shape-rendering="crispEdges"/>
<text x="767" y="397.6" font-size="7.3" text-anchor="middle" font-weight="normal" fill="#222" stroke="#222" stroke-width="0.25" >1.70</text>
<rect x="795.2" y="392.4" width="14.599999999999909" height="5.400000000000034" fill="#fff" stroke="none" stroke-width="0"  shape-rendering="crispEdges"/>
<text x="802.5" y="397.6" font-size="7.3" text-anchor="middle" font-weight="normal" fill="#222" stroke="#222" stroke-width="0.25" >1.25</text>
<rect x="835.7" y="360.4" width="14.599999999999909" height="5.400000000000034" fill="#fff" stroke="none" stroke-width="0"  shape-rendering="crispEdges"/>
<text x="843" y="365.6" font-size="7.3" text-anchor="middle" font-weight="normal" fill="#222" stroke="#222" stroke-width="0.25" >2.00</text>
<rect x="820.7" y="369.4" width="14.599999999999909" height="5.400000000000034" fill="#fff" stroke="none" stroke-width="0"  shape-rendering="crispEdges"/>
<text x="828" y="374.6" font-size="7.3" text-anchor="middle" font-weight="normal" fill="#222" stroke="#222" stroke-width="0.25" >1.55</text>
<rect x="882.2" y="360.4" width="14.599999999999909" height="5.400000000000034" fill="#fff" stroke="none" stroke-width="0"  shape-rendering="crispEdges"/>
<text x="889.5" y="365.6" font-size="7.3" text-anchor="middle" font-weight="normal" fill="#222" stroke="#222" stroke-width="0.25" >1.90</text>
<rect x="869.7" y="369.4" width="14.599999999999909" height="5.400000000000034" fill="#fff" stroke="none" stroke-width="0"  shape-rendering="crispEdges"/>
<text x="877" y="374.6" font-size="7.3" text-anchor="middle" font-weight="normal" fill="#222" stroke="#222" stroke-width="0.25" >1.55</text>
<rect x="927.7" y="360.4" width="14.599999999999909" height="5.400000000000034" fill="#fff" stroke="none" stroke-width="0"  shape-rendering="crispEdges"/>
<text x="935" y="365.6" font-size="7.3" text-anchor="middle" font-weight="normal" fill="#222" stroke="#222" stroke-width="0.25" >1.95</text>
<rect x="933.7" y="369.4" width="14.599999999999909" height="5.400000000000034" fill="#fff" stroke="none" stroke-width="0"  shape-rendering="crispEdges"/>
<text x="941" y="374.6" font-size="7.3" text-anchor="middle" font-weight="normal" fill="#222" stroke="#222" stroke-width="0.25" >1.95</text>
<rect x="928.4000000000001" y="390.7" width="14.599999999999909" height="5.400000000000034" fill="#fff" stroke="none" stroke-width="0"  shape-rendering="crispEdges"/>
<text x="935.7" y="395.90000000000003" font-size="7.3" text-anchor="middle" font-weight="normal" fill="#222" stroke="#222" stroke-width="0.25" >1.95</text>
<rect x="835.7" y="406.09999999999997" width="14.599999999999909" height="5.400000000000034" fill="#fff" stroke="none" stroke-width="0"  shape-rendering="crispEdges"/>
<text x="843" y="411.3" font-size="7.3" text-anchor="middle" font-weight="normal" fill="#222" stroke="#222" stroke-width="0.25" >1.60</text>
<rect x="836.3000000000001" y="413.7" width="14.599999999999909" height="5.400000000000034" fill="#fff" stroke="none" stroke-width="0"  shape-rendering="crispEdges"/>
<text x="843.6" y="418.90000000000003" font-size="7.3" text-anchor="middle" font-weight="normal" fill="#222" stroke="#222" stroke-width="0.25" >2.00</text>
<rect x="869.9000000000001" y="406.09999999999997" width="14.599999999999909" height="5.400000000000034" fill="#fff" stroke="none" stroke-width="0"  shape-rendering="crispEdges"/>
<text x="877.2" y="411.3" font-size="7.3" text-anchor="middle" font-weight="normal" fill="#222" stroke="#222" stroke-width="0.25" >1.60</text>
<rect x="882.3000000000001" y="413.7" width="14.599999999999909" height="5.400000000000034" fill="#fff" stroke="none" stroke-width="0"  shape-rendering="crispEdges"/>
<text x="889.6" y="418.90000000000003" font-size="7.3" text-anchor="middle" font-weight="normal" fill="#222" stroke="#222" stroke-width="0.25" >1.90</text>
<rect x="915.2" y="405.79999999999995" width="14.599999999999909" height="5.400000000000034" fill="#fff" stroke="none" stroke-width="0"  shape-rendering="crispEdges"/>
<text x="922.5" y="411.0" font-size="7.3" text-anchor="middle" font-weight="normal" fill="#222" stroke="#222" stroke-width="0.25" >1.55</text>
<rect x="738.2" y="419.7" width="14.599999999999909" height="5.400000000000034" fill="#fff" stroke="none" stroke-width="0"  shape-rendering="crispEdges"/>
<text x="745.5" y="424.90000000000003" font-size="7.3" text-anchor="middle" font-weight="normal" fill="#222" stroke="#222" stroke-width="0.25" >2.50</text>
<rect x="725.7" y="439.2" width="14.599999999999909" height="5.400000000000034" fill="#fff" stroke="none" stroke-width="0"  shape-rendering="crispEdges"/>
<text x="733" y="444.40000000000003" font-size="7.3" text-anchor="middle" font-weight="normal" fill="#222" stroke="#222" stroke-width="0.25" >2.45</text>
<rect x="692.7" y="422.4" width="14.599999999999909" height="5.400000000000034" fill="#fff" stroke="none" stroke-width="0"  shape-rendering="crispEdges"/>
<text x="700" y="427.6" font-size="7.3" text-anchor="middle" font-weight="normal" fill="#222" stroke="#222" stroke-width="0.25" >1.00</text>
<rect x="664.7" y="429.4" width="14.599999999999909" height="5.400000000000034" fill="#fff" stroke="none" stroke-width="0"  shape-rendering="crispEdges"/>
<text x="672" y="434.6" font-size="7.3" text-anchor="middle" font-weight="normal" fill="#222" stroke="#222" stroke-width="0.25" >1.00</text>
<rect x="680.7" y="469.9" width="14.599999999999909" height="5.400000000000034" fill="#fff" stroke="none" stroke-width="0"  shape-rendering="crispEdges"/>
<text x="688" y="475.1" font-size="7.3" text-anchor="middle" font-weight="normal" fill="#222" stroke="#222" stroke-width="0.25" >2.10</text>
<rect x="671.7" y="501.4" width="14.599999999999909" height="5.400000000000034" fill="#fff" stroke="none" stroke-width="0"  shape-rendering="crispEdges"/>
<text x="679" y="506.6" font-size="7.3" text-anchor="middle" font-weight="normal" fill="#222" stroke="#222" stroke-width="0.25" >1.40</text>
<rect x="660.525" y="463.4" width="10.950000000000045" height="5.400000000000034" fill="#fff" stroke="none" stroke-width="0"  shape-rendering="crispEdges"/>
<text x="666" y="468.6" font-size="7.3" text-anchor="middle" font-weight="normal" fill="#222" stroke="#222" stroke-width="0.25" >.40</text>
<rect x="736.7" y="490.4" width="14.599999999999909" height="5.400000000000034" fill="#fff" stroke="none" stroke-width="0"  shape-rendering="crispEdges"/>
<text x="744" y="495.6" font-size="7.3" text-anchor="middle" font-weight="normal" fill="#222" stroke="#222" stroke-width="0.25" >2.35</text>
<rect x="749.7" y="495.4" width="14.599999999999909" height="5.400000000000034" fill="#fff" stroke="none" stroke-width="0"  shape-rendering="crispEdges"/>
<text x="757" y="500.6" font-size="7.3" text-anchor="middle" font-weight="normal" fill="#222" stroke="#222" stroke-width="0.25" >1.00</text>
<rect x="776.7" y="476.9" width="14.599999999999909" height="5.400000000000034" fill="#fff" stroke="none" stroke-width="0"  shape-rendering="crispEdges"/>
<text x="784" y="482.1" font-size="7.3" text-anchor="middle" font-weight="normal" fill="#222" stroke="#222" stroke-width="0.25" >2.40</text>
<rect x="792.2" y="486.4" width="14.599999999999909" height="5.400000000000034" fill="#fff" stroke="none" stroke-width="0"  shape-rendering="crispEdges"/>
<text x="799.5" y="491.6" font-size="7.3" text-anchor="middle" font-weight="normal" fill="#222" stroke="#222" stroke-width="0.25" >2.10</text>
<rect x="835.7" y="477.9" width="14.599999999999909" height="5.400000000000034" fill="#fff" stroke="none" stroke-width="0"  shape-rendering="crispEdges"/>
<text x="843" y="483.1" font-size="7.3" text-anchor="middle" font-weight="normal" fill="#222" stroke="#222" stroke-width="0.25" >1.60</text>
<rect x="825.7" y="486.4" width="14.599999999999909" height="5.400000000000034" fill="#fff" stroke="none" stroke-width="0"  shape-rendering="crispEdges"/>
<text x="833" y="491.6" font-size="7.3" text-anchor="middle" font-weight="normal" fill="#222" stroke="#222" stroke-width="0.25" >2.70</text>
<rect x="874.7" y="477.9" width="14.599999999999909" height="5.400000000000034" fill="#fff" stroke="none" stroke-width="0"  shape-rendering="crispEdges"/>
<text x="882" y="483.1" font-size="7.3" text-anchor="middle" font-weight="normal" fill="#222" stroke="#222" stroke-width="0.25" >1.60</text>
<rect x="865.2" y="486.4" width="14.599999999999909" height="5.400000000000034" fill="#fff" stroke="none" stroke-width="0"  shape-rendering="crispEdges"/>
<text x="872.5" y="491.6" font-size="7.3" text-anchor="middle" font-weight="normal" fill="#222" stroke="#222" stroke-width="0.25" >2.70</text>
<rect x="928.7" y="471.4" width="14.599999999999909" height="5.400000000000034" fill="#fff" stroke="none" stroke-width="0"  shape-rendering="crispEdges"/>
<text x="936" y="476.6" font-size="7.3" text-anchor="middle" font-weight="normal" fill="#222" stroke="#222" stroke-width="0.25" >1.85</text>
<rect x="922.2" y="481.4" width="14.599999999999909" height="5.400000000000034" fill="#fff" stroke="none" stroke-width="0"  shape-rendering="crispEdges"/>
<text x="929.5" y="486.6" font-size="7.3" text-anchor="middle" font-weight="normal" fill="#222" stroke="#222" stroke-width="0.25" >2.45</text>
<rect x="922.2" y="491.9" width="14.599999999999909" height="5.400000000000034" fill="#fff" stroke="none" stroke-width="0"  shape-rendering="crispEdges"/>
<text x="929.5" y="497.1" font-size="7.3" text-anchor="middle" font-weight="normal" fill="#222" stroke="#222" stroke-width="0.25" >2.45</text>
<rect x="912.7" y="502.4" width="14.599999999999909" height="5.400000000000034" fill="#fff" stroke="none" stroke-width="0"  shape-rendering="crispEdges"/>
<text x="920" y="507.6" font-size="7.3" text-anchor="middle" font-weight="normal" fill="#222" stroke="#222" stroke-width="0.25" >1.25</text>
<rect x="860.2" y="432.4" width="14.599999999999909" height="5.400000000000034" fill="#fff" stroke="none" stroke-width="0"  shape-rendering="crispEdges"/>
<text x="867.5" y="437.6" font-size="7.3" text-anchor="middle" font-weight="normal" fill="#222" stroke="#222" stroke-width="0.25" >8.20</text>
<rect x="864.7" y="440.4" width="14.599999999999909" height="5.400000000000034" fill="#fff" stroke="none" stroke-width="0"  shape-rendering="crispEdges"/>
<text x="872" y="445.6" font-size="7.3" text-anchor="middle" font-weight="normal" fill="#222" stroke="#222" stroke-width="0.25" >1.20</text>
<text x="846" y="377.6" font-size="6" text-anchor="middle" font-weight="normal" fill="#333" stroke="#333" stroke-width="0.25" >ΑΠΟΘΗΚΗ</text>
<text x="892.5" y="380.1" font-size="6" text-anchor="middle" font-weight="normal" fill="#333" stroke="#333" stroke-width="0.25" >ΑΠΟΘΗΚΗ</text>
<text x="940" y="380.1" font-size="6" text-anchor="middle" font-weight="normal" fill="#333" stroke="#333" stroke-width="0.25" >ΑΠΟΘΗΚΗ</text>
<text x="846" y="402.1" font-size="6" text-anchor="middle" font-weight="normal" fill="#333" stroke="#333" stroke-width="0.25" >ΑΠΟΘΗΚΗ</text>
<text x="892.5" y="402.1" font-size="6" text-anchor="middle" font-weight="normal" fill="#333" stroke="#333" stroke-width="0.25" >ΑΠΟΘΗΚΗ</text>
<text x="940" y="402.1" font-size="6" text-anchor="middle" font-weight="normal" fill="#333" stroke="#333" stroke-width="0.25" >ΑΠΟΘΗΚΗ</text>
<text x="746" y="455.1" font-size="6" text-anchor="middle" font-weight="normal" fill="#333" stroke="#333" stroke-width="0.25" >ΑΠΟΘΗΚΗ</text>
<text x="691" y="460.1" font-size="6" text-anchor="middle" font-weight="normal" fill="#333" stroke="#333" stroke-width="0.25" >ΑΠΟΔΥΤΗΡΙΑ</text>
<text x="802" y="505.6" font-size="6" text-anchor="middle" font-weight="normal" fill="#333" stroke="#333" stroke-width="0.25" >ΑΠΟΘΗΚΗ</text>
<text x="842.5" y="498.6" font-size="6" text-anchor="middle" font-weight="normal" fill="#333" stroke="#333" stroke-width="0.25" >ΑΠΟΘΗΚΗ</text>
<text x="880" y="498.6" font-size="6" text-anchor="middle" font-weight="normal" fill="#333" stroke="#333" stroke-width="0.25" >ΑΠΟΘΗΚΗ</text>
<text x="940" y="512.1" font-size="6" text-anchor="middle" font-weight="normal" fill="#333" stroke="#333" stroke-width="0.25" >ΑΠΟΘΗΚΗ</text>
<text x="919" y="472.1" font-size="6" text-anchor="middle" font-weight="normal" fill="#333" stroke="#333" stroke-width="0.25" >ΑΠΟΘΗΚΗ</text>
<text x="735" y="503.1" font-size="6" text-anchor="middle" font-weight="normal" fill="#333" stroke="#333" stroke-width="0.25" >ΑΠΟΔΥΤΗΡΙΑ</text>
<text x="746" y="510.6" font-size="6" text-anchor="middle" font-weight="normal" fill="#333" stroke="#333" stroke-width="0.25" >ΑΜΕΑ</text>
<text x="767.5" y="389.6" font-size="6" text-anchor="middle" font-weight="normal" fill="#333" stroke="#333" stroke-width="0.25" >ΑΗΙ</text>
<rect x="858.75" y="380.4" width="2.5" height="5.400000000000034" fill="#fff" stroke="none" stroke-width="0"  shape-rendering="crispEdges"/>
<text x="860" y="385.6" font-size="5" text-anchor="middle" font-weight="normal" fill="#333" stroke="#333" stroke-width="0.25" >1</text>
<rect x="903.25" y="382.4" width="2.5" height="5.400000000000034" fill="#fff" stroke="none" stroke-width="0"  shape-rendering="crispEdges"/>
<text x="904.5" y="387.6" font-size="5" text-anchor="middle" font-weight="normal" fill="#333" stroke="#333" stroke-width="0.25" >2</text>
<rect x="949.75" y="371.4" width="2.5" height="5.400000000000034" fill="#fff" stroke="none" stroke-width="0"  shape-rendering="crispEdges"/>
<text x="951" y="376.6" font-size="5" text-anchor="middle" font-weight="normal" fill="#333" stroke="#333" stroke-width="0.25" >5</text>
<rect x="950.75" y="405.4" width="2.5" height="5.400000000000034" fill="#fff" stroke="none" stroke-width="0"  shape-rendering="crispEdges"/>
<text x="952" y="410.6" font-size="5" text-anchor="middle" font-weight="normal" fill="#333" stroke="#333" stroke-width="0.25" >6</text>
<rect x="758.75" y="456.4" width="2.5" height="5.400000000000034" fill="#fff" stroke="none" stroke-width="0"  shape-rendering="crispEdges"/>
<text x="760" y="461.6" font-size="5" text-anchor="middle" font-weight="normal" fill="#333" stroke="#333" stroke-width="0.25" >7</text>
<rect x="814.75" y="509.4" width="2.5" height="5.399999999999977" fill="#fff" stroke="none" stroke-width="0"  shape-rendering="crispEdges"/>
<text x="816" y="514.6" font-size="5" text-anchor="middle" font-weight="normal" fill="#333" stroke="#333" stroke-width="0.25" >8</text>
<rect x="854.75" y="502.4" width="2.5" height="5.400000000000034" fill="#fff" stroke="none" stroke-width="0"  shape-rendering="crispEdges"/>
<text x="856" y="507.6" font-size="5" text-anchor="middle" font-weight="normal" fill="#333" stroke="#333" stroke-width="0.25" >9</text>
<rect x="890.5" y="502.4" width="5.0" height="5.400000000000034" fill="#fff" stroke="none" stroke-width="0"  shape-rendering="crispEdges"/>
<text x="893" y="507.6" font-size="5" text-anchor="middle" font-weight="normal" fill="#333" stroke="#333" stroke-width="0.25" >10</text>
<rect x="929.5" y="473.4" width="5.0" height="5.400000000000034" fill="#fff" stroke="none" stroke-width="0"  shape-rendering="crispEdges"/>
<text x="932" y="478.6" font-size="5" text-anchor="middle" font-weight="normal" fill="#333" stroke="#333" stroke-width="0.25" >11</text>
<rect x="903.75" y="367.4" width="2.5" height="5.400000000000034" fill="#fff" stroke="none" stroke-width="0"  shape-rendering="crispEdges"/>
<text x="905" y="372.6" font-size="5" text-anchor="middle" font-weight="normal" fill="#333" stroke="#333" stroke-width="0.25" >3</text>
<text x="824.6" y="437.5" font-size="3.6" text-anchor="middle" font-weight="normal" fill="#555" stroke="#555" stroke-width="0.12" >ΤΟΙΧΟΣ ΑΠΟ</text>
<text x="824.6" y="442.5" font-size="3.6" text-anchor="middle" font-weight="normal" fill="#555" stroke="#555" stroke-width="0.12" >ΤΟΥΒΛΟ</text>
<rect x="565" y="413.5" width="49" height="198.5" fill="url(#deck2)" stroke="none" stroke-width="0"  shape-rendering="crispEdges"/>
<rect x="614" y="487.5" width="45" height="77.5" fill="url(#deck3)" stroke="none" stroke-width="0"  shape-rendering="crispEdges"/>
<rect x="614" y="565" width="429" height="49" fill="url(#deck3)" stroke="none" stroke-width="0"  shape-rendering="crispEdges"/>
<line x1="565" y1="414" x2="565" y2="763" stroke="#111" stroke-width="0.9"  shape-rendering="crispEdges"/>
<line x1="565" y1="763" x2="1043" y2="763" stroke="#111" stroke-width="0.9"  shape-rendering="crispEdges"/>
<line x1="1043" y1="565" x2="1043" y2="763" stroke="#111" stroke-width="0.9"  shape-rendering="crispEdges"/>
<line x1="659" y1="565" x2="1043" y2="565" stroke="#111" stroke-width="0.9"  shape-rendering="crispEdges"/>
<line x1="614" y1="414" x2="614" y2="487.5" stroke="#111" stroke-width="0.8"  shape-rendering="crispEdges"/>
<line x1="614" y1="487.5" x2="659" y2="487.5" stroke="#111" stroke-width="0.8"  shape-rendering="crispEdges"/>
<rect x="659" y="414" width="7" height="110" fill="url(#wh)" stroke="#111" stroke-width="0.7"  shape-rendering="crispEdges"/>
<line x1="617" y1="487.5" x2="617" y2="622" stroke="#111" stroke-width="0.7"  shape-rendering="crispEdges"/>
<line x1="566" y1="614" x2="1043" y2="614" stroke="#111" stroke-width="0.8"  shape-rendering="crispEdges"/>
<rect x="615" y="622" width="22" height="120" fill="url(#stip)" stroke="#111" stroke-width="0.7"  shape-rendering="crispEdges"/>
<line x1="904.5" y1="633.5" x2="904.5" y2="735.5" stroke="#123" stroke-width="0.9"  shape-rendering="crispEdges"/>
<line x1="911" y1="633.5" x2="911" y2="735.5" stroke="#123" stroke-width="0.9"  shape-rendering="crispEdges"/>
<line x1="918" y1="633.5" x2="918" y2="735.5" stroke="#123" stroke-width="0.9"  shape-rendering="crispEdges"/>
<line x1="925" y1="633.5" x2="925" y2="735.5" stroke="#123" stroke-width="0.9"  shape-rendering="crispEdges"/>
<line x1="932" y1="633.5" x2="932" y2="735.5" stroke="#123" stroke-width="0.9"  shape-rendering="crispEdges"/>
<line x1="938" y1="633.5" x2="938" y2="735.5" stroke="#123" stroke-width="0.9"  shape-rendering="crispEdges"/>
<line x1="662.5" y1="703" x2="945.5" y2="703" stroke="#111" stroke-width="0.8"  shape-rendering="crispEdges"/>
<polygon points="662.5,703 666.5,701.8 666.5,704.2" fill="#111" stroke="#111" stroke-width="0" />
<polygon points="945.5,703 941.5,701.8 941.5,704.2" fill="#111" stroke="#111" stroke-width="0" />
<text x="804" y="705.7" font-size="7.5" text-anchor="middle" font-weight="normal" fill="#123" stroke="#123" stroke-width="0.25" >12.50</text>
<line x1="714" y1="633.5" x2="714" y2="735.5" stroke="#111" stroke-width="0.8"  shape-rendering="crispEdges"/>
<polygon points="714,633.5 712.8,637.5 715.2,637.5" fill="#111" stroke="#111" stroke-width="0" />
<polygon points="714,735.5 712.8,731.5 715.2,731.5" fill="#111" stroke="#111" stroke-width="0" />
<text x="714" y="687.5" font-size="7.5" text-anchor="middle" font-weight="normal" fill="#123" stroke="#123" stroke-width="0.25" >4.50</text>
<line x1="666" y1="565" x2="666" y2="690" stroke="#111" stroke-width="0.7" stroke-dasharray="20,3,2,3"  shape-rendering="crispEdges"/>
<line x1="712" y1="565" x2="712" y2="690" stroke="#111" stroke-width="0.7" stroke-dasharray="20,3,2,3"  shape-rendering="crispEdges"/>
<line x1="774" y1="565" x2="774" y2="690" stroke="#111" stroke-width="0.7" stroke-dasharray="20,3,2,3"  shape-rendering="crispEdges"/>
<line x1="920" y1="565" x2="920" y2="690" stroke="#111" stroke-width="0.7" stroke-dasharray="20,3,2,3"  shape-rendering="crispEdges"/>
<line x1="782.5" y1="622.5" x2="782.5" y2="746" stroke="#000" stroke-width="1.6" stroke-dasharray="9,3,2,3" />
<line x1="823" y1="622.5" x2="823" y2="746" stroke="#000" stroke-width="1.6" stroke-dasharray="9,3,2,3" />
<line x1="782.5" y1="622.5" x2="823" y2="622.5" stroke="#000" stroke-width="1.6" stroke-dasharray="5,4" />
<line x1="782.5" y1="746" x2="823" y2="746" stroke="#000" stroke-width="1.6" stroke-dasharray="5,4" />
<line x1="551" y1="682" x2="615" y2="682" stroke="#111" stroke-width="0.8"  shape-rendering="crispEdges"/>
<polygon points="551,682 555,680.8 555,683.2" fill="#111" stroke="#111" stroke-width="0" />
<polygon points="615,682 611,680.8 611,683.2" fill="#111" stroke="#111" stroke-width="0" />
<line x1="637" y1="682" x2="662.5" y2="682" stroke="#111" stroke-width="0.8"  shape-rendering="crispEdges"/>
<polygon points="637,682 641,680.8 641,683.2" fill="#111" stroke="#111" stroke-width="0" />
<polygon points="662.5,682 658.5,680.8 658.5,683.2" fill="#111" stroke="#111" stroke-width="0" />
<text x="590" y="684.7" font-size="7" text-anchor="middle" font-weight="normal" fill="#333" stroke="#333" stroke-width="0.25" >2.25</text>
<text x="649" y="684.7" font-size="7" text-anchor="middle" font-weight="normal" fill="#333" stroke="#333" stroke-width="0.25" >1.20</text>
<text x="627.5" y="708.5" font-size="7" text-anchor="middle" font-weight="normal" fill="#333" stroke="#333" stroke-width="0.25" >4.50</text>
<text x="594" y="590" font-size="6.5" text-anchor="middle" font-weight="normal" fill="#334" stroke="#334" stroke-width="0.25" >16.45</text>
<text x="607.5" y="544.5" font-size="6.5" text-anchor="middle" font-weight="normal" fill="#334" stroke="#334" stroke-width="0.25" >3.95</text>
<line x1="565" y1="542" x2="659" y2="542" stroke="#222" stroke-width="0.7"  shape-rendering="crispEdges"/>
<text x="963" y="666.5" font-size="6.5" text-anchor="middle" font-weight="normal" fill="#334" stroke="#334" stroke-width="0.25" >8.70</text>
<line x1="949.5" y1="706" x2="1043" y2="706" stroke="#111" stroke-width="0.8"  shape-rendering="crispEdges"/>
<polygon points="949.5,706 953.5,704.8 953.5,707.2" fill="#111" stroke="#111" stroke-width="0" />
<polygon points="1043,706 1039,704.8 1039,707.2" fill="#111" stroke="#111" stroke-width="0" />
<text x="996.5" y="708.7" font-size="7" text-anchor="middle" font-weight="normal" fill="#333" stroke="#333" stroke-width="0.25" >4.17</text>
<text x="1020" y="610" font-size="6" text-anchor="middle" font-weight="normal" fill="#444" stroke="#444" stroke-width="0.25" >21.27</text>
<rect x="654.5" y="545.5" width="58.0" height="18.5" fill="#fff" stroke="#666" stroke-width="0.6"  shape-rendering="crispEdges"/>
<text x="681.5" y="535.5" font-size="6" text-anchor="end" font-weight="normal" fill="#333" stroke="#333" stroke-width="0.25" >ΠΟΔΟΛΟΥΤΡΟ</text>
<rect x="554" y="671.5" width="9" height="13.5" fill="#fff" stroke="#222" stroke-width="0.8"  shape-rendering="crispEdges"/>
<text x="557.5" y="690.5" font-size="5" text-anchor="middle" font-weight="normal" fill="#333" stroke="#333" stroke-width="0.25" >0.60</text>
<text x="557.5" y="701" font-size="5" text-anchor="middle" font-weight="normal" fill="#333" stroke="#333" stroke-width="0.25" >BBQ</text>
<line x1="551" y1="721.5" x2="565" y2="721.5" stroke="#111" stroke-width="0.8"  shape-rendering="crispEdges"/>
<rect x="674" y="571" width="13.5" height="41.5" fill="#f4f4f4" stroke="#555" stroke-width="0.9"  shape-rendering="crispEdges"/>
<line x1="674" y1="584" x2="687.5" y2="584" stroke="#777" stroke-width="0.8"  shape-rendering="crispEdges"/>
<rect x="696" y="571" width="15" height="41.5" fill="#f4f4f4" stroke="#555" stroke-width="0.9"  shape-rendering="crispEdges"/>
<line x1="696" y1="584" x2="711" y2="584" stroke="#777" stroke-width="0.8"  shape-rendering="crispEdges"/>
<rect x="741" y="571" width="14.5" height="41.5" fill="#f4f4f4" stroke="#555" stroke-width="0.9"  shape-rendering="crispEdges"/>
<line x1="741" y1="584" x2="755.5" y2="584" stroke="#777" stroke-width="0.8"  shape-rendering="crispEdges"/>
<rect x="764" y="571" width="13.5" height="41.5" fill="#f4f4f4" stroke="#555" stroke-width="0.9"  shape-rendering="crispEdges"/>
<line x1="764" y1="584" x2="777.5" y2="584" stroke="#777" stroke-width="0.8"  shape-rendering="crispEdges"/>
<rect x="801" y="571" width="14" height="41.5" fill="#f4f4f4" stroke="#555" stroke-width="0.9"  shape-rendering="crispEdges"/>
<line x1="801" y1="584" x2="815" y2="584" stroke="#777" stroke-width="0.8"  shape-rendering="crispEdges"/>
<rect x="824" y="571" width="13.5" height="41.5" fill="#f4f4f4" stroke="#555" stroke-width="0.9"  shape-rendering="crispEdges"/>
<line x1="824" y1="584" x2="837.5" y2="584" stroke="#777" stroke-width="0.8"  shape-rendering="crispEdges"/>
<rect x="866" y="571" width="14" height="41.5" fill="none" stroke="#222" stroke-width="1.2"  shape-rendering="crispEdges"/>
<line x1="866" y1="584" x2="880" y2="584" stroke="#777" stroke-width="0.8"  shape-rendering="crispEdges"/>
<rect x="889" y="571" width="14" height="41.5" fill="none" stroke="#222" stroke-width="1.2"  shape-rendering="crispEdges"/>
<line x1="889" y1="584" x2="903" y2="584" stroke="#777" stroke-width="0.8"  shape-rendering="crispEdges"/>
<rect x="926" y="571" width="14" height="41.5" fill="none" stroke="#222" stroke-width="1.2"  shape-rendering="crispEdges"/>
<line x1="926" y1="584" x2="940" y2="584" stroke="#777" stroke-width="0.8"  shape-rendering="crispEdges"/>
<rect x="949" y="571" width="13.5" height="41.5" fill="none" stroke="#222" stroke-width="1.2"  shape-rendering="crispEdges"/>
<line x1="949" y1="584" x2="962.5" y2="584" stroke="#777" stroke-width="0.8"  shape-rendering="crispEdges"/>
<rect x="714.5" y="581" width="8.5" height="8.5" fill="#f4f4f4" stroke="#666" stroke-width="0.9"  shape-rendering="crispEdges"/>
<rect x="782" y="581" width="8.5" height="8.5" fill="#f4f4f4" stroke="#666" stroke-width="0.9"  shape-rendering="crispEdges"/>
<rect x="842" y="581" width="8.5" height="8.5" fill="#f4f4f4" stroke="#666" stroke-width="0.9"  shape-rendering="crispEdges"/>
<rect x="906" y="581" width="8.5" height="8.5" fill="none" stroke="#222" stroke-width="1.1"  shape-rendering="crispEdges"/>
<rect x="966" y="581" width="8.5" height="8.5" fill="none" stroke="#222" stroke-width="1.1"  shape-rendering="crispEdges"/>
<rect x="976.5" y="646.5" width="40.5" height="13.5" fill="#f4f4f4" stroke="#555" stroke-width="0.9"  shape-rendering="crispEdges"/>
<line x1="1004" y1="646.5" x2="1004" y2="660" stroke="#777" stroke-width="0.8"  shape-rendering="crispEdges"/>
<rect x="976.5" y="669" width="40.5" height="14" fill="#f4f4f4" stroke="#555" stroke-width="0.9"  shape-rendering="crispEdges"/>
<line x1="1004" y1="669" x2="1004" y2="683" stroke="#777" stroke-width="0.8"  shape-rendering="crispEdges"/>
<rect x="999" y="687" width="9" height="9" fill="#f4f4f4" stroke="#666" stroke-width="0.9"  shape-rendering="crispEdges"/>
<rect x="990" y="643" width="13" height="3.5" fill="#eee" stroke="#777" stroke-width="0.6"  shape-rendering="crispEdges"/>
<rect x="990" y="665" width="13" height="4" fill="#eee" stroke="#777" stroke-width="0.6"  shape-rendering="crispEdges"/>
<line x1="633" y1="507.5" x2="654" y2="507.5" stroke="#111" stroke-width="0.7"  shape-rendering="crispEdges"/>
<line x1="643.5" y1="497" x2="643.5" y2="518" stroke="#111" stroke-width="0.7"  shape-rendering="crispEdges"/>
<rect x="636" y="500" width="15" height="15" fill="#000" stroke="none" stroke-width="0"  shape-rendering="crispEdges"/>
<circle cx="641.2" cy="505.2" r="1.0" fill="#555" stroke="none" stroke-width="0"/>
<circle cx="641.2" cy="509.8" r="1.0" fill="#555" stroke="none" stroke-width="0"/>
<circle cx="645.8" cy="505.2" r="1.0" fill="#555" stroke="none" stroke-width="0"/>
<circle cx="645.8" cy="509.8" r="1.0" fill="#555" stroke="none" stroke-width="0"/>
<line x1="596.5" y1="569.5" x2="617.5" y2="569.5" stroke="#111" stroke-width="0.7"  shape-rendering="crispEdges"/>
<line x1="607.0" y1="559" x2="607.0" y2="580" stroke="#111" stroke-width="0.7"  shape-rendering="crispEdges"/>
<rect x="599.5" y="562" width="15.0" height="15" fill="#000" stroke="none" stroke-width="0"  shape-rendering="crispEdges"/>
<circle cx="604.7" cy="567.2" r="1.0" fill="#555" stroke="none" stroke-width="0"/>
<circle cx="604.7" cy="571.8" r="1.0" fill="#555" stroke="none" stroke-width="0"/>
<circle cx="609.3" cy="567.2" r="1.0" fill="#555" stroke="none" stroke-width="0"/>
<circle cx="609.3" cy="571.8" r="1.0" fill="#555" stroke="none" stroke-width="0"/>
<line x1="774.5" y1="573.5" x2="795.5" y2="573.5" stroke="#111" stroke-width="0.7"  shape-rendering="crispEdges"/>
<line x1="785.0" y1="563" x2="785.0" y2="584" stroke="#111" stroke-width="0.7"  shape-rendering="crispEdges"/>
<rect x="777.5" y="566" width="15.0" height="15" fill="#000" stroke="none" stroke-width="0"  shape-rendering="crispEdges"/>
<circle cx="782.7" cy="571.2" r="1.0" fill="#555" stroke="none" stroke-width="0"/>
<circle cx="782.7" cy="575.8" r="1.0" fill="#555" stroke="none" stroke-width="0"/>
<circle cx="787.3" cy="571.2" r="1.0" fill="#555" stroke="none" stroke-width="0"/>
<circle cx="787.3" cy="575.8" r="1.0" fill="#555" stroke="none" stroke-width="0"/>
<path d="M795,566 A33,33 0 0 1 762,600" fill="none" stroke="#111" stroke-width="0.7" />
<path d="M762,600 A20,20 0 0 0 795,590" fill="none" stroke="#111" stroke-width="0.7" />
<line x1="717.5" y1="545" x2="1106.5" y2="545" stroke="#222" stroke-width="0.8"  shape-rendering="crispEdges"/>
<line x1="1074" y1="522" x2="1074" y2="781" stroke="#111" stroke-width="1.0"  shape-rendering="crispEdges"/>
<line x1="963" y1="524" x2="963" y2="565" stroke="#222" stroke-width="0.8"  shape-rendering="crispEdges"/>
<line x1="1043" y1="610" x2="1106.5" y2="610" stroke="#222" stroke-width="0.8"  shape-rendering="crispEdges"/>
<circle cx="207" cy="12" r="24" fill="none" stroke="#111" stroke-width="1.4949999999999999"/>
<circle cx="207.6" cy="12.4" r="20.5" fill="none" stroke="#111" stroke-width="1.1700000000000002"/>
<circle cx="206.2" cy="11.5" r="19.200000000000003" fill="none" stroke="#111" stroke-width="0.8"/>
<circle cx="207" cy="12" r="2" fill="none" stroke="#111" stroke-width="0.6"/>
<circle cx="207" cy="59" r="24" fill="none" stroke="#111" stroke-width="1.4949999999999999"/>
<circle cx="207.6" cy="59.4" r="20.5" fill="none" stroke="#111" stroke-width="1.1700000000000002"/>
<circle cx="206.2" cy="58.5" r="19.200000000000003" fill="none" stroke="#111" stroke-width="0.8"/>
<circle cx="207" cy="59" r="2" fill="none" stroke="#111" stroke-width="0.6"/>
<circle cx="237" cy="29" r="10" fill="none" stroke="#111" stroke-width="1.4949999999999999"/>
<circle cx="237.6" cy="29.4" r="7.2" fill="none" stroke="#111" stroke-width="1.1700000000000002"/>
<circle cx="237" cy="29" r="1.3" fill="none" stroke="#111" stroke-width="0.6"/>
<circle cx="260" cy="16" r="12" fill="none" stroke="#111" stroke-width="1.4949999999999999"/>
<circle cx="260.6" cy="16.4" r="9.2" fill="none" stroke="#111" stroke-width="1.1700000000000002"/>
<circle cx="260" cy="16" r="1.3" fill="none" stroke="#111" stroke-width="0.6"/>
<circle cx="289" cy="19.5" r="12" fill="none" stroke="#111" stroke-width="1.4949999999999999"/>
<circle cx="289.6" cy="19.9" r="9.2" fill="none" stroke="#111" stroke-width="1.1700000000000002"/>
<circle cx="289" cy="19.5" r="1.3" fill="none" stroke="#111" stroke-width="0.6"/>
<circle cx="349" cy="29" r="13" fill="none" stroke="#111" stroke-width="1.4949999999999999"/>
<circle cx="349.6" cy="29.4" r="10.2" fill="none" stroke="#111" stroke-width="1.1700000000000002"/>
<circle cx="349" cy="29" r="1.3" fill="none" stroke="#111" stroke-width="0.6"/>
<circle cx="370" cy="28" r="11" fill="none" stroke="#111" stroke-width="1.4949999999999999"/>
<circle cx="370.6" cy="28.4" r="8.2" fill="none" stroke="#111" stroke-width="1.1700000000000002"/>
<circle cx="370" cy="28" r="1.3" fill="none" stroke="#111" stroke-width="0.6"/>
<circle cx="414" cy="20" r="12" fill="none" stroke="#111" stroke-width="1.4949999999999999"/>
<circle cx="414.6" cy="20.4" r="9.2" fill="none" stroke="#111" stroke-width="1.1700000000000002"/>
<circle cx="414" cy="20" r="1.3" fill="none" stroke="#111" stroke-width="0.6"/>
<circle cx="449" cy="26" r="12" fill="none" stroke="#111" stroke-width="1.4949999999999999"/>
<circle cx="449.6" cy="26.4" r="9.2" fill="none" stroke="#111" stroke-width="1.1700000000000002"/>
<circle cx="449" cy="26" r="1.3" fill="none" stroke="#111" stroke-width="0.6"/>
<circle cx="495" cy="27" r="12" fill="none" stroke="#111" stroke-width="1.4949999999999999"/>
<circle cx="495.6" cy="27.4" r="9.2" fill="none" stroke="#111" stroke-width="1.1700000000000002"/>
<circle cx="495" cy="27" r="1.3" fill="none" stroke="#111" stroke-width="0.6"/>
<circle cx="524" cy="27" r="12" fill="none" stroke="#111" stroke-width="1.4949999999999999"/>
<circle cx="524.6" cy="27.4" r="9.2" fill="none" stroke="#111" stroke-width="1.1700000000000002"/>
<circle cx="524" cy="27" r="1.3" fill="none" stroke="#111" stroke-width="0.6"/>
<circle cx="560" cy="27" r="12" fill="none" stroke="#111" stroke-width="1.4949999999999999"/>
<circle cx="560.6" cy="27.4" r="9.2" fill="none" stroke="#111" stroke-width="1.1700000000000002"/>
<circle cx="560" cy="27" r="1.3" fill="none" stroke="#111" stroke-width="0.6"/>
<circle cx="681" cy="29.5" r="12" fill="none" stroke="#111" stroke-width="1.4949999999999999"/>
<circle cx="681.6" cy="29.9" r="9.2" fill="none" stroke="#111" stroke-width="1.1700000000000002"/>
<circle cx="681" cy="29.5" r="1.3" fill="none" stroke="#111" stroke-width="0.6"/>
<circle cx="714" cy="29.5" r="12" fill="none" stroke="#111" stroke-width="1.4949999999999999"/>
<circle cx="714.6" cy="29.9" r="9.2" fill="none" stroke="#111" stroke-width="1.1700000000000002"/>
<circle cx="714" cy="29.5" r="1.3" fill="none" stroke="#111" stroke-width="0.6"/>
<circle cx="746" cy="31" r="12" fill="none" stroke="#111" stroke-width="1.4949999999999999"/>
<circle cx="746.6" cy="31.4" r="9.2" fill="none" stroke="#111" stroke-width="1.1700000000000002"/>
<circle cx="746" cy="31" r="1.3" fill="none" stroke="#111" stroke-width="0.6"/>
<circle cx="931.5" cy="44" r="12" fill="none" stroke="#111" stroke-width="1.4949999999999999"/>
<circle cx="932.1" cy="44.4" r="9.2" fill="none" stroke="#111" stroke-width="1.1700000000000002"/>
<circle cx="931.5" cy="44" r="1.3" fill="none" stroke="#111" stroke-width="0.6"/>
<circle cx="961.5" cy="46" r="12" fill="none" stroke="#111" stroke-width="1.4949999999999999"/>
<circle cx="962.1" cy="46.4" r="9.2" fill="none" stroke="#111" stroke-width="1.1700000000000002"/>
<circle cx="961.5" cy="46" r="1.3" fill="none" stroke="#111" stroke-width="0.6"/>
<circle cx="1028.5" cy="35" r="25" fill="none" stroke="#111" stroke-width="1.4949999999999999"/>
<circle cx="1029.1" cy="35.4" r="21.5" fill="none" stroke="#111" stroke-width="1.1700000000000002"/>
<circle cx="1027.7" cy="34.5" r="20.0" fill="none" stroke="#111" stroke-width="0.8"/>
<circle cx="1028.5" cy="35" r="2" fill="none" stroke="#111" stroke-width="0.6"/>
<circle cx="1069.5" cy="44.5" r="12" fill="none" stroke="#111" stroke-width="1.4949999999999999"/>
<circle cx="1070.1" cy="44.9" r="9.2" fill="none" stroke="#111" stroke-width="1.1700000000000002"/>
<circle cx="1069.5" cy="44.5" r="1.3" fill="none" stroke="#111" stroke-width="0.6"/>
<circle cx="1085" cy="44.5" r="12" fill="none" stroke="#111" stroke-width="1.4949999999999999"/>
<circle cx="1085.6" cy="44.9" r="9.2" fill="none" stroke="#111" stroke-width="1.1700000000000002"/>
<circle cx="1085" cy="44.5" r="1.3" fill="none" stroke="#111" stroke-width="0.6"/>
<path d="M231.5,-2.4 A49,49 0 0 1 227.7,84.4" fill="none" stroke="#111" stroke-width="0.8" />
<line x1="364" y1="29.0" x2="384" y2="29.0" stroke="#111" stroke-width="0.7"  shape-rendering="crispEdges"/>
<line x1="374.0" y1="19" x2="374.0" y2="39" stroke="#111" stroke-width="0.7"  shape-rendering="crispEdges"/>
<rect x="367" y="22" width="14" height="14" fill="#000" stroke="none" stroke-width="0"  shape-rendering="crispEdges"/>
<circle cx="371.7" cy="26.7" r="1.0" fill="#555" stroke="none" stroke-width="0"/>
<circle cx="371.7" cy="31.3" r="1.0" fill="#555" stroke="none" stroke-width="0"/>
<circle cx="376.3" cy="26.7" r="1.0" fill="#555" stroke="none" stroke-width="0"/>
<circle cx="376.3" cy="31.3" r="1.0" fill="#555" stroke="none" stroke-width="0"/>
<rect x="184" y="0" width="16" height="92" fill="#000" stroke="none" stroke-width="0" opacity="0.22" shape-rendering="crispEdges"/>
<circle cx="207" cy="12" r="19" fill="none" stroke="#111" stroke-width="1.0"/>
<circle cx="208" cy="60" r="19.5" fill="none" stroke="#111" stroke-width="1.0"/>
<circle cx="206" cy="58" r="16" fill="none" stroke="#111" stroke-width="1.0"/>
<rect x="213" y="20" width="14" height="14" fill="#111" stroke="none" stroke-width="0"  shape-rendering="crispEdges"/>
<circle cx="166" cy="265.5" r="35" fill="none" stroke="#111" stroke-width="1.4949999999999999"/>
<circle cx="166.6" cy="265.9" r="31.5" fill="none" stroke="#111" stroke-width="1.1700000000000002"/>
<circle cx="165.2" cy="265.0" r="28.0" fill="none" stroke="#111" stroke-width="0.8"/>
<circle cx="166" cy="265.5" r="2" fill="none" stroke="#111" stroke-width="0.6"/>
<circle cx="167.5" cy="314" r="27" fill="none" stroke="#111" stroke-width="1.4949999999999999"/>
<circle cx="168.1" cy="314.4" r="23.5" fill="none" stroke="#111" stroke-width="1.1700000000000002"/>
<circle cx="166.7" cy="313.5" r="21.6" fill="none" stroke="#111" stroke-width="0.8"/>
<circle cx="167.5" cy="314" r="2" fill="none" stroke="#111" stroke-width="0.6"/>
<circle cx="218" cy="249" r="12.5" fill="none" stroke="#111" stroke-width="1.4949999999999999"/>
<circle cx="218.6" cy="249.4" r="9.7" fill="none" stroke="#111" stroke-width="1.1700000000000002"/>
<circle cx="218" cy="249" r="1.3" fill="none" stroke="#111" stroke-width="0.6"/>
<circle cx="220" cy="330" r="13" fill="none" stroke="#111" stroke-width="1.4949999999999999"/>
<circle cx="220.6" cy="330.4" r="10.2" fill="none" stroke="#111" stroke-width="1.1700000000000002"/>
<circle cx="220" cy="330" r="1.3" fill="none" stroke="#111" stroke-width="0.6"/>
<circle cx="219" cy="367.5" r="13" fill="none" stroke="#111" stroke-width="1.4949999999999999"/>
<circle cx="219.6" cy="367.9" r="10.2" fill="none" stroke="#111" stroke-width="1.1700000000000002"/>
<circle cx="219" cy="367.5" r="1.3" fill="none" stroke="#111" stroke-width="0.6"/>
<circle cx="161" cy="479" r="29" fill="none" stroke="#111" stroke-width="1.4949999999999999"/>
<circle cx="161.6" cy="479.4" r="25.5" fill="none" stroke="#111" stroke-width="1.1700000000000002"/>
<circle cx="160.2" cy="478.5" r="23.200000000000003" fill="none" stroke="#111" stroke-width="0.8"/>
<circle cx="161" cy="479" r="2" fill="none" stroke="#111" stroke-width="0.6"/>
<circle cx="171" cy="540.5" r="29" fill="none" stroke="#111" stroke-width="1.4949999999999999"/>
<circle cx="171.6" cy="540.9" r="25.5" fill="none" stroke="#111" stroke-width="1.1700000000000002"/>
<circle cx="170.2" cy="540.0" r="23.200000000000003" fill="none" stroke="#111" stroke-width="0.8"/>
<circle cx="171" cy="540.5" r="2" fill="none" stroke="#111" stroke-width="0.6"/>
<circle cx="221" cy="446" r="13" fill="none" stroke="#111" stroke-width="1.4949999999999999"/>
<circle cx="221.6" cy="446.4" r="10.2" fill="none" stroke="#111" stroke-width="1.1700000000000002"/>
<circle cx="221" cy="446" r="1.3" fill="none" stroke="#111" stroke-width="0.6"/>
<circle cx="220" cy="486" r="13" fill="none" stroke="#111" stroke-width="1.4949999999999999"/>
<circle cx="220.6" cy="486.4" r="10.2" fill="none" stroke="#111" stroke-width="1.1700000000000002"/>
<circle cx="220" cy="486" r="1.3" fill="none" stroke="#111" stroke-width="0.6"/>
<circle cx="222.5" cy="519.5" r="13" fill="none" stroke="#111" stroke-width="1.4949999999999999"/>
<circle cx="223.1" cy="519.9" r="10.2" fill="none" stroke="#111" stroke-width="1.1700000000000002"/>
<circle cx="222.5" cy="519.5" r="1.3" fill="none" stroke="#111" stroke-width="0.6"/>
<circle cx="222" cy="556" r="13" fill="none" stroke="#111" stroke-width="1.4949999999999999"/>
<circle cx="222.6" cy="556.4" r="10.2" fill="none" stroke="#111" stroke-width="1.1700000000000002"/>
<circle cx="222" cy="556" r="1.3" fill="none" stroke="#111" stroke-width="0.6"/>
<circle cx="233" cy="232" r="5.8" fill="none" stroke="#333" stroke-width="0.7"/>
<circle cx="234" cy="256" r="5.8" fill="none" stroke="#333" stroke-width="0.7"/>
<circle cx="233" cy="298" r="5.8" fill="none" stroke="#333" stroke-width="0.7"/>
<circle cx="234" cy="356" r="5.8" fill="none" stroke="#333" stroke-width="0.7"/>
<circle cx="232.5" cy="465.5" r="5.8" fill="none" stroke="#333" stroke-width="0.7"/>
<circle cx="232.5" cy="537" r="5.8" fill="none" stroke="#333" stroke-width="0.7"/>
<circle cx="254" cy="434.5" r="21" fill="none" stroke="#111" stroke-width="1.4949999999999999"/>
<circle cx="254.6" cy="434.9" r="17.5" fill="none" stroke="#111" stroke-width="1.1700000000000002"/>
<circle cx="253.2" cy="434.0" r="16.8" fill="none" stroke="#111" stroke-width="0.8"/>
<circle cx="254" cy="434.5" r="2" fill="none" stroke="#111" stroke-width="0.6"/>
<circle cx="254" cy="434.5" r="5" fill="none" stroke="#111" stroke-width="0.8"/>
<polygon points="248,438 254,426 260,438" fill="none" stroke="#111" stroke-width="0.8" />
<circle cx="288.4" cy="370.2" r="9.3" fill="none" stroke="#111" stroke-width="1.7249999999999999"/>
<circle cx="289.0" cy="370.59999999999997" r="6.500000000000001" fill="none" stroke="#111" stroke-width="1.35"/>
<circle cx="288.4" cy="370.2" r="1.3" fill="none" stroke="#111" stroke-width="0.6"/>
<circle cx="333.4" cy="370.5" r="6.3" fill="none" stroke="#000" stroke-width="2.2"/>
<circle cx="333.4" cy="370.5" r="3.4650000000000003" fill="none" stroke="#000" stroke-width="0.8"/>
<circle cx="333.4" cy="370.5" r="1" fill="#000" stroke="#111" stroke-width="0"/>
<circle cx="345.6" cy="365.6" r="6.3" fill="none" stroke="#000" stroke-width="2.2"/>
<circle cx="345.6" cy="365.6" r="3.4650000000000003" fill="none" stroke="#000" stroke-width="0.8"/>
<circle cx="345.6" cy="365.6" r="1" fill="#000" stroke="#111" stroke-width="0"/>
<circle cx="357.8" cy="372.9" r="6.3" fill="none" stroke="#000" stroke-width="2.2"/>
<circle cx="357.8" cy="372.9" r="3.4650000000000003" fill="none" stroke="#000" stroke-width="0.8"/>
<circle cx="357.8" cy="372.9" r="1" fill="#000" stroke="#111" stroke-width="0"/>
<circle cx="317.8" cy="420.6" r="6.3" fill="none" stroke="#000" stroke-width="2.2"/>
<circle cx="317.8" cy="420.6" r="3.4650000000000003" fill="none" stroke="#000" stroke-width="0.8"/>
<circle cx="317.8" cy="420.6" r="1" fill="#000" stroke="#111" stroke-width="0"/>
<circle cx="386.4" cy="426.5" r="6.3" fill="none" stroke="#000" stroke-width="2.2"/>
<circle cx="386.4" cy="426.5" r="3.4650000000000003" fill="none" stroke="#000" stroke-width="0.8"/>
<circle cx="386.4" cy="426.5" r="1" fill="#000" stroke="#111" stroke-width="0"/>
<circle cx="371.8" cy="434.4" r="6.3" fill="none" stroke="#000" stroke-width="2.2"/>
<circle cx="371.8" cy="434.4" r="3.4650000000000003" fill="none" stroke="#000" stroke-width="0.8"/>
<circle cx="371.8" cy="434.4" r="1" fill="#000" stroke="#111" stroke-width="0"/>
<circle cx="309.7" cy="440.5" r="6.3" fill="none" stroke="#000" stroke-width="2.2"/>
<circle cx="309.7" cy="440.5" r="3.4650000000000003" fill="none" stroke="#000" stroke-width="0.8"/>
<circle cx="309.7" cy="440.5" r="1" fill="#000" stroke="#111" stroke-width="0"/>
<circle cx="457.5" cy="370" r="10" fill="none" stroke="#111" stroke-width="1.8399999999999999"/>
<circle cx="458.1" cy="370.4" r="7.2" fill="none" stroke="#111" stroke-width="1.4400000000000002"/>
<circle cx="457.5" cy="370" r="1.3" fill="none" stroke="#111" stroke-width="0.6"/>
<circle cx="457.5" cy="370" r="5" fill="none" stroke="#000" stroke-width="2.2"/>
<circle cx="457.5" cy="370" r="2.75" fill="none" stroke="#000" stroke-width="0.8"/>
<circle cx="457.5" cy="370" r="1" fill="#000" stroke="#111" stroke-width="0"/>
<circle cx="445" cy="440" r="7" fill="none" stroke="#000" stroke-width="2.2"/>
<circle cx="445" cy="440" r="3.8500000000000005" fill="none" stroke="#000" stroke-width="0.8"/>
<circle cx="445" cy="440" r="1" fill="#000" stroke="#111" stroke-width="0"/>
<circle cx="557.5" cy="437.5" r="6" fill="none" stroke="#000" stroke-width="2.2"/>
<circle cx="557.5" cy="437.5" r="3.3000000000000003" fill="none" stroke="#000" stroke-width="0.8"/>
<circle cx="557.5" cy="437.5" r="1" fill="#000" stroke="#111" stroke-width="0"/>
<circle cx="557.5" cy="460" r="6" fill="none" stroke="#000" stroke-width="2.2"/>
<circle cx="557.5" cy="460" r="3.3000000000000003" fill="none" stroke="#000" stroke-width="0.8"/>
<circle cx="557.5" cy="460" r="1" fill="#000" stroke="#111" stroke-width="0"/>
<circle cx="557.5" cy="477.5" r="6" fill="none" stroke="#000" stroke-width="2.2"/>
<circle cx="557.5" cy="477.5" r="3.3000000000000003" fill="none" stroke="#000" stroke-width="0.8"/>
<circle cx="557.5" cy="477.5" r="1" fill="#000" stroke="#111" stroke-width="0"/>
<circle cx="557.5" cy="504" r="6" fill="none" stroke="#000" stroke-width="2.2"/>
<circle cx="557.5" cy="504" r="3.3000000000000003" fill="none" stroke="#000" stroke-width="0.8"/>
<circle cx="557.5" cy="504" r="1" fill="#000" stroke="#111" stroke-width="0"/>
<circle cx="557.5" cy="524" r="6" fill="none" stroke="#000" stroke-width="2.2"/>
<circle cx="557.5" cy="524" r="3.3000000000000003" fill="none" stroke="#000" stroke-width="0.8"/>
<circle cx="557.5" cy="524" r="1" fill="#000" stroke="#111" stroke-width="0"/>
<circle cx="557.5" cy="542" r="6" fill="none" stroke="#000" stroke-width="2.2"/>
<circle cx="557.5" cy="542" r="3.3000000000000003" fill="none" stroke="#000" stroke-width="0.8"/>
<circle cx="557.5" cy="542" r="1" fill="#000" stroke="#111" stroke-width="0"/>
<circle cx="637.5" cy="430" r="13" fill="none" stroke="#111" stroke-width="1.4949999999999999"/>
<circle cx="638.1" cy="430.4" r="10.2" fill="none" stroke="#111" stroke-width="1.1700000000000002"/>
<circle cx="637.5" cy="430" r="1.3" fill="none" stroke="#111" stroke-width="0.6"/>
<circle cx="636" cy="454" r="13" fill="none" stroke="#111" stroke-width="1.4949999999999999"/>
<circle cx="636.6" cy="454.4" r="10.2" fill="none" stroke="#111" stroke-width="1.1700000000000002"/>
<circle cx="636" cy="454" r="1.3" fill="none" stroke="#111" stroke-width="0.6"/>
<circle cx="637" cy="474" r="13" fill="none" stroke="#111" stroke-width="1.4949999999999999"/>
<circle cx="637.6" cy="474.4" r="10.2" fill="none" stroke="#111" stroke-width="1.1700000000000002"/>
<circle cx="637" cy="474" r="1.3" fill="none" stroke="#111" stroke-width="0.6"/>
<circle cx="727.5" cy="535" r="8" fill="none" stroke="#111" stroke-width="1.4949999999999999"/>
<circle cx="728.1" cy="535.4" r="5.2" fill="none" stroke="#111" stroke-width="1.1700000000000002"/>
<circle cx="727.5" cy="535" r="1.3" fill="none" stroke="#111" stroke-width="0.6"/>
<circle cx="732.5" cy="553" r="10" fill="none" stroke="#111" stroke-width="1.4949999999999999"/>
<circle cx="733.1" cy="553.4" r="7.2" fill="none" stroke="#111" stroke-width="1.1700000000000002"/>
<circle cx="732.5" cy="553" r="1.3" fill="none" stroke="#111" stroke-width="0.6"/>
<circle cx="769.5" cy="544" r="13" fill="none" stroke="#111" stroke-width="1.4949999999999999"/>
<circle cx="770.1" cy="544.4" r="10.2" fill="none" stroke="#111" stroke-width="1.1700000000000002"/>
<circle cx="769.5" cy="544" r="1.3" fill="none" stroke="#111" stroke-width="0.6"/>
<circle cx="794" cy="544" r="13" fill="none" stroke="#111" stroke-width="1.4949999999999999"/>
<circle cx="794.6" cy="544.4" r="10.2" fill="none" stroke="#111" stroke-width="1.1700000000000002"/>
<circle cx="794" cy="544" r="1.3" fill="none" stroke="#111" stroke-width="0.6"/>
<circle cx="837" cy="550" r="25" fill="none" stroke="#111" stroke-width="1.4949999999999999"/>
<circle cx="837.6" cy="550.4" r="21.5" fill="none" stroke="#111" stroke-width="1.1700000000000002"/>
<circle cx="836.2" cy="549.5" r="20.0" fill="none" stroke="#111" stroke-width="0.8"/>
<circle cx="837" cy="550" r="2" fill="none" stroke="#111" stroke-width="0.6"/>
<circle cx="899" cy="554" r="25" fill="none" stroke="#111" stroke-width="1.4949999999999999"/>
<circle cx="899.6" cy="554.4" r="21.5" fill="none" stroke="#111" stroke-width="1.1700000000000002"/>
<circle cx="898.2" cy="553.5" r="20.0" fill="none" stroke="#111" stroke-width="0.8"/>
<circle cx="899" cy="554" r="2" fill="none" stroke="#111" stroke-width="0.6"/>
<circle cx="935" cy="546" r="13" fill="none" stroke="#111" stroke-width="1.4949999999999999"/>
<circle cx="935.6" cy="546.4" r="10.2" fill="none" stroke="#111" stroke-width="1.1700000000000002"/>
<circle cx="935" cy="546" r="1.3" fill="none" stroke="#111" stroke-width="0.6"/>
<circle cx="981.5" cy="550" r="12.5" fill="none" stroke="#111" stroke-width="1.4949999999999999"/>
<circle cx="982.1" cy="550.4" r="9.7" fill="none" stroke="#111" stroke-width="1.1700000000000002"/>
<circle cx="981.5" cy="550" r="1.3" fill="none" stroke="#111" stroke-width="0.6"/>
<circle cx="1004.5" cy="550" r="12.5" fill="none" stroke="#111" stroke-width="1.4949999999999999"/>
<circle cx="1005.1" cy="550.4" r="9.7" fill="none" stroke="#111" stroke-width="1.1700000000000002"/>
<circle cx="1004.5" cy="550" r="1.3" fill="none" stroke="#111" stroke-width="0.6"/>
<circle cx="1077" cy="570" r="26" fill="none" stroke="#111" stroke-width="1.4949999999999999"/>
<circle cx="1077.6" cy="570.4" r="22.5" fill="none" stroke="#111" stroke-width="1.1700000000000002"/>
<circle cx="1076.2" cy="569.5" r="20.8" fill="none" stroke="#111" stroke-width="0.8"/>
<circle cx="1077" cy="570" r="2" fill="none" stroke="#111" stroke-width="0.6"/>
<circle cx="564" cy="594" r="13" fill="none" stroke="#111" stroke-width="1.4949999999999999"/>
<circle cx="564.6" cy="594.4" r="10.2" fill="none" stroke="#111" stroke-width="1.1700000000000002"/>
<circle cx="564" cy="594" r="1.3" fill="none" stroke="#111" stroke-width="0.6"/>
<circle cx="564" cy="607.5" r="13" fill="none" stroke="#111" stroke-width="1.4949999999999999"/>
<circle cx="564.6" cy="607.9" r="10.2" fill="none" stroke="#111" stroke-width="1.1700000000000002"/>
<circle cx="564" cy="607.5" r="1.3" fill="none" stroke="#111" stroke-width="0.6"/>
<circle cx="626" cy="635" r="11.5" fill="none" stroke="#111" stroke-width="1.4949999999999999"/>
<circle cx="626.6" cy="635.4" r="8.7" fill="none" stroke="#111" stroke-width="1.1700000000000002"/>
<circle cx="626" cy="635" r="1.3" fill="none" stroke="#111" stroke-width="0.6"/>
<circle cx="626" cy="653" r="11.5" fill="none" stroke="#111" stroke-width="1.4949999999999999"/>
<circle cx="626.6" cy="653.4" r="8.7" fill="none" stroke="#111" stroke-width="1.1700000000000002"/>
<circle cx="626" cy="653" r="1.3" fill="none" stroke="#111" stroke-width="0.6"/>
<circle cx="626" cy="678" r="11.5" fill="none" stroke="#111" stroke-width="1.4949999999999999"/>
<circle cx="626.6" cy="678.4" r="8.7" fill="none" stroke="#111" stroke-width="1.1700000000000002"/>
<circle cx="626" cy="678" r="1.3" fill="none" stroke="#111" stroke-width="0.6"/>
<circle cx="626" cy="730" r="11.5" fill="none" stroke="#111" stroke-width="1.4949999999999999"/>
<circle cx="626.6" cy="730.4" r="8.7" fill="none" stroke="#111" stroke-width="1.1700000000000002"/>
<circle cx="626" cy="730" r="1.3" fill="none" stroke="#111" stroke-width="0.6"/>
<circle cx="1077" cy="641.5" r="25" fill="none" stroke="#111" stroke-width="1.4949999999999999"/>
<circle cx="1077.6" cy="641.9" r="21.5" fill="none" stroke="#111" stroke-width="1.1700000000000002"/>
<circle cx="1076.2" cy="641.0" r="20.0" fill="none" stroke="#111" stroke-width="0.8"/>
<circle cx="1077" cy="641.5" r="2" fill="none" stroke="#111" stroke-width="0.6"/>
<circle cx="1070" cy="720" r="25" fill="none" stroke="#111" stroke-width="1.4949999999999999"/>
<circle cx="1070.6" cy="720.4" r="21.5" fill="none" stroke="#111" stroke-width="1.1700000000000002"/>
<circle cx="1069.2" cy="719.5" r="20.0" fill="none" stroke="#111" stroke-width="0.8"/>
<circle cx="1070" cy="720" r="2" fill="none" stroke="#111" stroke-width="0.6"/>
<circle cx="1074" cy="760" r="25" fill="none" stroke="#111" stroke-width="1.4949999999999999"/>
<circle cx="1074.6" cy="760.4" r="21.5" fill="none" stroke="#111" stroke-width="1.1700000000000002"/>
<circle cx="1073.2" cy="759.5" r="20.0" fill="none" stroke="#111" stroke-width="0.8"/>
<circle cx="1074" cy="760" r="2" fill="none" stroke="#111" stroke-width="0.6"/>
<circle cx="1038" cy="771" r="25" fill="none" stroke="#111" stroke-width="1.4949999999999999"/>
<circle cx="1038.6" cy="771.4" r="21.5" fill="none" stroke="#111" stroke-width="1.1700000000000002"/>
<circle cx="1037.2" cy="770.5" r="20.0" fill="none" stroke="#111" stroke-width="0.8"/>
<circle cx="1038" cy="771" r="2" fill="none" stroke="#111" stroke-width="0.6"/>
<circle cx="236" cy="769.5" r="12" fill="none" stroke="#111" stroke-width="1.4949999999999999"/>
<circle cx="236.6" cy="769.9" r="9.2" fill="none" stroke="#111" stroke-width="1.1700000000000002"/>
<circle cx="236" cy="769.5" r="1.3" fill="none" stroke="#111" stroke-width="0.6"/>
<circle cx="256" cy="770" r="12" fill="none" stroke="#111" stroke-width="1.4949999999999999"/>
<circle cx="256.6" cy="770.4" r="9.2" fill="none" stroke="#111" stroke-width="1.1700000000000002"/>
<circle cx="256" cy="770" r="1.3" fill="none" stroke="#111" stroke-width="0.6"/>
<circle cx="278" cy="770" r="24" fill="none" stroke="#111" stroke-width="1.4949999999999999"/>
<circle cx="278.6" cy="770.4" r="20.5" fill="none" stroke="#111" stroke-width="1.1700000000000002"/>
<circle cx="277.2" cy="769.5" r="19.200000000000003" fill="none" stroke="#111" stroke-width="0.8"/>
<circle cx="278" cy="770" r="2" fill="none" stroke="#111" stroke-width="0.6"/>
<circle cx="334.5" cy="763" r="13" fill="none" stroke="#111" stroke-width="1.4949999999999999"/>
<circle cx="335.1" cy="763.4" r="10.2" fill="none" stroke="#111" stroke-width="1.1700000000000002"/>
<circle cx="334.5" cy="763" r="1.3" fill="none" stroke="#111" stroke-width="0.6"/>
<circle cx="361" cy="769.5" r="13" fill="none" stroke="#111" stroke-width="1.4949999999999999"/>
<circle cx="361.6" cy="769.9" r="10.2" fill="none" stroke="#111" stroke-width="1.1700000000000002"/>
<circle cx="361" cy="769.5" r="1.3" fill="none" stroke="#111" stroke-width="0.6"/>
<circle cx="386" cy="773.5" r="12" fill="none" stroke="#111" stroke-width="1.4949999999999999"/>
<circle cx="386.6" cy="773.9" r="9.2" fill="none" stroke="#111" stroke-width="1.1700000000000002"/>
<circle cx="386" cy="773.5" r="1.3" fill="none" stroke="#111" stroke-width="0.6"/>
<circle cx="437.5" cy="760" r="25" fill="none" stroke="#111" stroke-width="1.4949999999999999"/>
<circle cx="438.1" cy="760.4" r="21.5" fill="none" stroke="#111" stroke-width="1.1700000000000002"/>
<circle cx="436.7" cy="759.5" r="20.0" fill="none" stroke="#111" stroke-width="0.8"/>
<circle cx="437.5" cy="760" r="2" fill="none" stroke="#111" stroke-width="0.6"/>
<circle cx="482" cy="760" r="24" fill="none" stroke="#111" stroke-width="1.4949999999999999"/>
<circle cx="482.6" cy="760.4" r="20.5" fill="none" stroke="#111" stroke-width="1.1700000000000002"/>
<circle cx="481.2" cy="759.5" r="19.200000000000003" fill="none" stroke="#111" stroke-width="0.8"/>
<circle cx="482" cy="760" r="2" fill="none" stroke="#111" stroke-width="0.6"/>
<circle cx="536" cy="763.5" r="25" fill="none" stroke="#111" stroke-width="1.4949999999999999"/>
<circle cx="536.6" cy="763.9" r="21.5" fill="none" stroke="#111" stroke-width="1.1700000000000002"/>
<circle cx="535.2" cy="763.0" r="20.0" fill="none" stroke="#111" stroke-width="0.8"/>
<circle cx="536" cy="763.5" r="2" fill="none" stroke="#111" stroke-width="0.6"/>
<circle cx="587" cy="771" r="12" fill="none" stroke="#111" stroke-width="1.4949999999999999"/>
<circle cx="587.6" cy="771.4" r="9.2" fill="none" stroke="#111" stroke-width="1.1700000000000002"/>
<circle cx="587" cy="771" r="1.3" fill="none" stroke="#111" stroke-width="0.6"/>
<circle cx="602" cy="771" r="11" fill="none" stroke="#111" stroke-width="1.4949999999999999"/>
<circle cx="602.6" cy="771.4" r="8.2" fill="none" stroke="#111" stroke-width="1.1700000000000002"/>
<circle cx="602" cy="771" r="1.3" fill="none" stroke="#111" stroke-width="0.6"/>
<circle cx="621" cy="771" r="12" fill="none" stroke="#111" stroke-width="1.4949999999999999"/>
<circle cx="621.6" cy="771.4" r="9.2" fill="none" stroke="#111" stroke-width="1.1700000000000002"/>
<circle cx="621" cy="771" r="1.3" fill="none" stroke="#111" stroke-width="0.6"/>
<circle cx="676" cy="771" r="12" fill="none" stroke="#111" stroke-width="1.4949999999999999"/>
<circle cx="676.6" cy="771.4" r="9.2" fill="none" stroke="#111" stroke-width="1.1700000000000002"/>
<circle cx="676" cy="771" r="1.3" fill="none" stroke="#111" stroke-width="0.6"/>
<circle cx="702" cy="771" r="12" fill="none" stroke="#111" stroke-width="1.4949999999999999"/>
<circle cx="702.6" cy="771.4" r="9.2" fill="none" stroke="#111" stroke-width="1.1700000000000002"/>
<circle cx="702" cy="771" r="1.3" fill="none" stroke="#111" stroke-width="0.6"/>
<circle cx="727.5" cy="771" r="12" fill="none" stroke="#111" stroke-width="1.4949999999999999"/>
<circle cx="728.1" cy="771.4" r="9.2" fill="none" stroke="#111" stroke-width="1.1700000000000002"/>
<circle cx="727.5" cy="771" r="1.3" fill="none" stroke="#111" stroke-width="0.6"/>
<circle cx="773" cy="771" r="12" fill="none" stroke="#111" stroke-width="1.4949999999999999"/>
<circle cx="773.6" cy="771.4" r="9.2" fill="none" stroke="#111" stroke-width="1.1700000000000002"/>
<circle cx="773" cy="771" r="1.3" fill="none" stroke="#111" stroke-width="0.6"/>
<circle cx="804" cy="771" r="12" fill="none" stroke="#111" stroke-width="1.4949999999999999"/>
<circle cx="804.6" cy="771.4" r="9.2" fill="none" stroke="#111" stroke-width="1.1700000000000002"/>
<circle cx="804" cy="771" r="1.3" fill="none" stroke="#111" stroke-width="0.6"/>
<circle cx="837" cy="771" r="12" fill="none" stroke="#111" stroke-width="1.4949999999999999"/>
<circle cx="837.6" cy="771.4" r="9.2" fill="none" stroke="#111" stroke-width="1.1700000000000002"/>
<circle cx="837" cy="771" r="1.3" fill="none" stroke="#111" stroke-width="0.6"/>
<circle cx="862" cy="771" r="12" fill="none" stroke="#111" stroke-width="1.4949999999999999"/>
<circle cx="862.6" cy="771.4" r="9.2" fill="none" stroke="#111" stroke-width="1.1700000000000002"/>
<circle cx="862" cy="771" r="1.3" fill="none" stroke="#111" stroke-width="0.6"/>
<circle cx="889.5" cy="771" r="12" fill="none" stroke="#111" stroke-width="1.4949999999999999"/>
<circle cx="890.1" cy="771.4" r="9.2" fill="none" stroke="#111" stroke-width="1.1700000000000002"/>
<circle cx="889.5" cy="771" r="1.3" fill="none" stroke="#111" stroke-width="0.6"/>
<circle cx="924" cy="771" r="12" fill="none" stroke="#111" stroke-width="1.4949999999999999"/>
<circle cx="924.6" cy="771.4" r="9.2" fill="none" stroke="#111" stroke-width="1.1700000000000002"/>
<circle cx="924" cy="771" r="1.3" fill="none" stroke="#111" stroke-width="0.6"/>
<circle cx="962" cy="771" r="12" fill="none" stroke="#111" stroke-width="1.4949999999999999"/>
<circle cx="962.6" cy="771.4" r="9.2" fill="none" stroke="#111" stroke-width="1.1700000000000002"/>
<circle cx="962" cy="771" r="1.3" fill="none" stroke="#111" stroke-width="0.6"/>
<circle cx="1001" cy="771" r="12" fill="none" stroke="#111" stroke-width="1.4949999999999999"/>
<circle cx="1001.6" cy="771.4" r="9.2" fill="none" stroke="#111" stroke-width="1.1700000000000002"/>
<circle cx="1001" cy="771" r="1.3" fill="none" stroke="#111" stroke-width="0.6"/>
<g opacity="0.5" fill="#909090">
<text x="535" y="430" font-size="70" textLength="36" lengthAdjust="spacingAndGlyphs">K</text>
<text x="618" y="430" font-size="70" textLength="75" lengthAdjust="spacingAndGlyphs">DIS</text>
<text x="570.0" y="456" font-size="16">E</text>
<text x="588.5" y="456" font-size="16">S</text>
<text x="607.0" y="456" font-size="16">T</text>
<text x="625.5" y="456" font-size="16">A</text>
<text x="644.0" y="456" font-size="16">T</text>
<text x="662.5" y="456" font-size="16">E</text>
</g>
<path d="M576,430 L592,383 L608,430" fill="none" stroke="#d9b36a" stroke-width="6" opacity="0.35"/>
<text x="279" y="63.5" font-size="3.4" text-anchor="end" font-weight="normal" fill="#555" stroke="#555" stroke-width="0.12" >ΠΟΡΤΑ ΜΕ ΑΚΙΝΗΤΑ</text>
<text x="279" y="68.2" font-size="3.4" text-anchor="end" font-weight="normal" fill="#555" stroke="#555" stroke-width="0.12" >ΦΥΛΛΑ ΑΛΟΥΜΙΝΙΟΥ</text>
<text x="279" y="72.9" font-size="3.4" text-anchor="end" font-weight="normal" fill="#555" stroke="#555" stroke-width="0.12" >ΒΛ. ΣΧΕΡΑ Β00</text>
<text x="246" y="247" font-size="6.5" text-anchor="middle" font-weight="normal" fill="#333" stroke="#333" stroke-width="0.25" >1.10</text>
<text x="246" y="279.5" font-size="6.5" text-anchor="middle" font-weight="normal" fill="#333" stroke="#333" stroke-width="0.25" >1.85</text>
<text x="245" y="330.5" font-size="6.5" text-anchor="middle" font-weight="normal" fill="#333" stroke="#333" stroke-width="0.25" >2.60</text>
<text x="247.5" y="506.5" font-size="6.5" text-anchor="middle" font-weight="normal" fill="#333" stroke="#333" stroke-width="0.25" >0.40</text>
<line x1="98" y1="132" x2="147" y2="132" stroke="#111" stroke-width="0.8"  shape-rendering="crispEdges"/>
<line x1="109" y1="121" x2="109" y2="143" stroke="#111" stroke-width="0.8"  shape-rendering="crispEdges"/>
<circle cx="109" cy="132" r="6.6" fill="none" stroke="#111" stroke-width="1.0"/>
<text x="117.5" y="129.4" font-size="9" text-anchor="start" font-weight="normal" fill="#222" stroke="#222" stroke-width="0.25" >+25.60</text>
<line x1="1108.5" y1="10.5" x2="1157.5" y2="10.5" stroke="#111" stroke-width="0.8"  shape-rendering="crispEdges"/>
<line x1="1119.5" y1="-0.5" x2="1119.5" y2="21.5" stroke="#111" stroke-width="0.8"  shape-rendering="crispEdges"/>
<circle cx="1119.5" cy="10.5" r="6.6" fill="none" stroke="#111" stroke-width="1.0"/>
<text x="1128.0" y="7.9" font-size="9" text-anchor="start" font-weight="normal" fill="#222" stroke="#222" stroke-width="0.25" >+26.60</text>
<line x1="980" y1="146.3" x2="1029" y2="146.3" stroke="#111" stroke-width="0.8"  shape-rendering="crispEdges"/>
<line x1="991" y1="135.3" x2="991" y2="157.3" stroke="#111" stroke-width="0.8"  shape-rendering="crispEdges"/>
<path d="M991,146.3 L991,139.70000000000002 A6.6,6.6 0 0 1 997.6,146.3 Z" fill="#000" stroke="none" stroke-width="0" />
<path d="M991,146.3 L991,152.9 A6.6,6.6 0 0 1 984.4,146.3 Z" fill="#000" stroke="none" stroke-width="0" />
<circle cx="991" cy="146.3" r="6.6" fill="none" stroke="#111" stroke-width="1.0"/>
<text x="999.5" y="143.70000000000002" font-size="9" text-anchor="start" font-weight="normal" fill="#222" stroke="#222" stroke-width="0.25" >+25.65</text>
<line x1="81" y1="423" x2="130" y2="423" stroke="#111" stroke-width="0.8"  shape-rendering="crispEdges"/>
<line x1="92" y1="412" x2="92" y2="434" stroke="#111" stroke-width="0.8"  shape-rendering="crispEdges"/>
<circle cx="92" cy="423" r="6.6" fill="none" stroke="#111" stroke-width="1.0"/>
<text x="100.5" y="420.4" font-size="9" text-anchor="start" font-weight="normal" fill="#222" stroke="#222" stroke-width="0.25" >+25.40</text>
<line x1="171" y1="425.2" x2="220" y2="425.2" stroke="#111" stroke-width="0.8"  shape-rendering="crispEdges"/>
<line x1="182" y1="414.2" x2="182" y2="436.2" stroke="#111" stroke-width="0.8"  shape-rendering="crispEdges"/>
<path d="M182,425.2 L182,418.59999999999997 A6.6,6.6 0 0 1 188.6,425.2 Z" fill="#000" stroke="none" stroke-width="0" />
<path d="M182,425.2 L182,431.8 A6.6,6.6 0 0 1 175.4,425.2 Z" fill="#000" stroke="none" stroke-width="0" />
<circle cx="182" cy="425.2" r="6.6" fill="none" stroke="#111" stroke-width="1.0"/>
<text x="190.5" y="422.59999999999997" font-size="9" text-anchor="start" font-weight="normal" fill="#222" stroke="#222" stroke-width="0.25" >+25.50</text>
<line x1="295" y1="393.2" x2="344" y2="393.2" stroke="#111" stroke-width="0.8"  shape-rendering="crispEdges"/>
<line x1="306" y1="382.2" x2="306" y2="404.2" stroke="#111" stroke-width="0.8"  shape-rendering="crispEdges"/>
<path d="M306,393.2 L306,386.59999999999997 A6.6,6.6 0 0 1 312.6,393.2 Z" fill="#000" stroke="none" stroke-width="0" />
<path d="M306,393.2 L306,399.8 A6.6,6.6 0 0 1 299.4,393.2 Z" fill="#000" stroke="none" stroke-width="0" />
<circle cx="306" cy="393.2" r="6.6" fill="none" stroke="#111" stroke-width="1.0"/>
<text x="314.5" y="390.59999999999997" font-size="9" text-anchor="start" font-weight="normal" fill="#222" stroke="#222" stroke-width="0.25" >+25.65</text>
<line x1="257" y1="482.5" x2="306" y2="482.5" stroke="#111" stroke-width="0.8"  shape-rendering="crispEdges"/>
<line x1="268" y1="471.5" x2="268" y2="493.5" stroke="#111" stroke-width="0.8"  shape-rendering="crispEdges"/>
<path d="M268,482.5 L268,475.9 A6.6,6.6 0 0 1 274.6,482.5 Z" fill="#000" stroke="none" stroke-width="0" />
<path d="M268,482.5 L268,489.1 A6.6,6.6 0 0 1 261.4,482.5 Z" fill="#000" stroke="none" stroke-width="0" />
<circle cx="268" cy="482.5" r="6.6" fill="none" stroke="#111" stroke-width="1.0"/>
<text x="276.5" y="479.9" font-size="9" text-anchor="start" font-weight="normal" fill="#222" stroke="#222" stroke-width="0.25" >+25.60</text>
<line x1="424.5" y1="322" x2="473.5" y2="322" stroke="#111" stroke-width="0.8"  shape-rendering="crispEdges"/>
<line x1="435.5" y1="311" x2="435.5" y2="333" stroke="#111" stroke-width="0.8"  shape-rendering="crispEdges"/>
<path d="M435.5,322 L435.5,315.4 A6.6,6.6 0 0 1 442.1,322 Z" fill="#000" stroke="none" stroke-width="0" />
<path d="M435.5,322 L435.5,328.6 A6.6,6.6 0 0 1 428.9,322 Z" fill="#000" stroke="none" stroke-width="0" />
<circle cx="435.5" cy="322" r="6.6" fill="none" stroke="#111" stroke-width="1.0"/>
<text x="444.0" y="319.4" font-size="9" text-anchor="start" font-weight="normal" fill="#222" stroke="#222" stroke-width="0.25" >+25.66</text>
<line x1="476.5" y1="398.7" x2="525.5" y2="398.7" stroke="#111" stroke-width="0.8"  shape-rendering="crispEdges"/>
<line x1="487.5" y1="387.7" x2="487.5" y2="409.7" stroke="#111" stroke-width="0.8"  shape-rendering="crispEdges"/>
<path d="M487.5,398.7 L487.5,392.09999999999997 A6.6,6.6 0 0 1 494.1,398.7 Z" fill="#000" stroke="none" stroke-width="0" />
<path d="M487.5,398.7 L487.5,405.3 A6.6,6.6 0 0 1 480.9,398.7 Z" fill="#000" stroke="none" stroke-width="0" />
<circle cx="487.5" cy="398.7" r="6.6" fill="none" stroke="#111" stroke-width="1.0"/>
<text x="496.0" y="396.09999999999997" font-size="9" text-anchor="start" font-weight="normal" fill="#222" stroke="#222" stroke-width="0.25" >+25.65</text>
<line x1="590" y1="386" x2="639" y2="386" stroke="#111" stroke-width="0.8"  shape-rendering="crispEdges"/>
<line x1="601" y1="375" x2="601" y2="397" stroke="#111" stroke-width="0.8"  shape-rendering="crispEdges"/>
<path d="M601,386 L601,379.4 A6.6,6.6 0 0 1 607.6,386 Z" fill="#000" stroke="none" stroke-width="0" />
<path d="M601,386 L601,392.6 A6.6,6.6 0 0 1 594.4,386 Z" fill="#000" stroke="none" stroke-width="0" />
<circle cx="601" cy="386" r="6.6" fill="none" stroke="#111" stroke-width="1.0"/>
<text x="609.5" y="383.4" font-size="9" text-anchor="start" font-weight="normal" fill="#222" stroke="#222" stroke-width="0.25" >+25.70</text>
<line x1="491" y1="532" x2="540" y2="532" stroke="#111" stroke-width="0.8"  shape-rendering="crispEdges"/>
<line x1="502" y1="521" x2="502" y2="543" stroke="#111" stroke-width="0.8"  shape-rendering="crispEdges"/>
<path d="M502,532 L502,525.4 A6.6,6.6 0 0 1 508.6,532 Z" fill="#000" stroke="none" stroke-width="0" />
<path d="M502,532 L502,538.6 A6.6,6.6 0 0 1 495.4,532 Z" fill="#000" stroke="none" stroke-width="0" />
<circle cx="502" cy="532" r="6.6" fill="none" stroke="#111" stroke-width="1.0"/>
<text x="510.5" y="529.4" font-size="9" text-anchor="start" font-weight="normal" fill="#222" stroke="#222" stroke-width="0.25" >+25.60</text>
<line x1="398.5" y1="659" x2="447.5" y2="659" stroke="#111" stroke-width="0.8"  shape-rendering="crispEdges"/>
<line x1="409.5" y1="648" x2="409.5" y2="670" stroke="#111" stroke-width="0.8"  shape-rendering="crispEdges"/>
<path d="M409.5,659 L409.5,652.4 A6.6,6.6 0 0 1 416.1,659 Z" fill="#000" stroke="none" stroke-width="0" />
<path d="M409.5,659 L409.5,665.6 A6.6,6.6 0 0 1 402.9,659 Z" fill="#000" stroke="none" stroke-width="0" />
<circle cx="409.5" cy="659" r="6.6" fill="none" stroke="#111" stroke-width="1.0"/>
<text x="418.0" y="656.4" font-size="9" text-anchor="start" font-weight="normal" fill="#222" stroke="#222" stroke-width="0.25" >+25.45</text>
<line x1="496" y1="725" x2="545" y2="725" stroke="#111" stroke-width="0.8"  shape-rendering="crispEdges"/>
<line x1="507" y1="714" x2="507" y2="736" stroke="#111" stroke-width="0.8"  shape-rendering="crispEdges"/>
<path d="M507,725 L507,718.4 A6.6,6.6 0 0 1 513.6,725 Z" fill="#000" stroke="none" stroke-width="0" />
<path d="M507,725 L507,731.6 A6.6,6.6 0 0 1 500.4,725 Z" fill="#000" stroke="none" stroke-width="0" />
<circle cx="507" cy="725" r="6.6" fill="none" stroke="#111" stroke-width="1.0"/>
<text x="515.5" y="722.4" font-size="9" text-anchor="start" font-weight="normal" fill="#222" stroke="#222" stroke-width="0.25" >+25.50</text>
<line x1="145" y1="698" x2="194" y2="698" stroke="#111" stroke-width="0.8"  shape-rendering="crispEdges"/>
<line x1="156" y1="687" x2="156" y2="709" stroke="#111" stroke-width="0.8"  shape-rendering="crispEdges"/>
<circle cx="156" cy="698" r="6.6" fill="none" stroke="#111" stroke-width="1.0"/>
<text x="164.5" y="695.4" font-size="9" text-anchor="start" font-weight="normal" fill="#222" stroke="#222" stroke-width="0.25" >+25.20</text>
<line x1="208" y1="698" x2="257" y2="698" stroke="#111" stroke-width="0.8"  shape-rendering="crispEdges"/>
<line x1="219" y1="687" x2="219" y2="709" stroke="#111" stroke-width="0.8"  shape-rendering="crispEdges"/>
<path d="M219,698 L219,691.4 A6.6,6.6 0 0 1 225.6,698 Z" fill="#000" stroke="none" stroke-width="0" />
<path d="M219,698 L219,704.6 A6.6,6.6 0 0 1 212.4,698 Z" fill="#000" stroke="none" stroke-width="0" />
<circle cx="219" cy="698" r="6.6" fill="none" stroke="#111" stroke-width="1.0"/>
<text x="227.5" y="695.4" font-size="9" text-anchor="start" font-weight="normal" fill="#222" stroke="#222" stroke-width="0.25" >+25.25</text>
<line x1="191.5" y1="809" x2="240.5" y2="809" stroke="#111" stroke-width="0.8"  shape-rendering="crispEdges"/>
<line x1="202.5" y1="798" x2="202.5" y2="820" stroke="#111" stroke-width="0.8"  shape-rendering="crispEdges"/>
<circle cx="202.5" cy="809" r="6.6" fill="none" stroke="#111" stroke-width="1.0"/>
<text x="211.0" y="806.4" font-size="9" text-anchor="start" font-weight="normal" fill="#222" stroke="#222" stroke-width="0.25" >+25.10</text>
<line x1="671.5" y1="813" x2="720.5" y2="813" stroke="#111" stroke-width="0.8"  shape-rendering="crispEdges"/>
<line x1="682.5" y1="802" x2="682.5" y2="824" stroke="#111" stroke-width="0.8"  shape-rendering="crispEdges"/>
<circle cx="682.5" cy="813" r="6.6" fill="none" stroke="#111" stroke-width="1.0"/>
<text x="691.0" y="810.4" font-size="9" text-anchor="start" font-weight="normal" fill="#222" stroke="#222" stroke-width="0.25" >+25.30</text>
<line x1="1072.5" y1="809.5" x2="1121.5" y2="809.5" stroke="#111" stroke-width="0.8"  shape-rendering="crispEdges"/>
<line x1="1083.5" y1="798.5" x2="1083.5" y2="820.5" stroke="#111" stroke-width="0.8"  shape-rendering="crispEdges"/>
<circle cx="1083.5" cy="809.5" r="6.6" fill="none" stroke="#111" stroke-width="1.0"/>
<text x="1092.0" y="806.9" font-size="9" text-anchor="start" font-weight="normal" fill="#222" stroke="#222" stroke-width="0.25" >+26.00</text>
<line x1="1126" y1="437.5" x2="1175" y2="437.5" stroke="#111" stroke-width="0.8"  shape-rendering="crispEdges"/>
<line x1="1137" y1="426.5" x2="1137" y2="448.5" stroke="#111" stroke-width="0.8"  shape-rendering="crispEdges"/>
<circle cx="1137" cy="437.5" r="6.6" fill="none" stroke="#111" stroke-width="1.0"/>
<text x="1145.5" y="434.9" font-size="9" text-anchor="start" font-weight="normal" fill="#222" stroke="#222" stroke-width="0.25" >+27.00</text>
<line x1="604" y1="598" x2="653" y2="598" stroke="#111" stroke-width="0.8"  shape-rendering="crispEdges"/>
<line x1="615" y1="587" x2="615" y2="609" stroke="#111" stroke-width="0.8"  shape-rendering="crispEdges"/>
<path d="M615,598 L615,591.4 A6.6,6.6 0 0 1 621.6,598 Z" fill="#000" stroke="none" stroke-width="0" />
<path d="M615,598 L615,604.6 A6.6,6.6 0 0 1 608.4,598 Z" fill="#000" stroke="none" stroke-width="0" />
<circle cx="615" cy="598" r="6.6" fill="none" stroke="#111" stroke-width="1.0"/>
<text x="623.5" y="595.4" font-size="9" text-anchor="start" font-weight="normal" fill="#222" stroke="#222" stroke-width="0.25" >+25.65</text>
</svg></body></html>
